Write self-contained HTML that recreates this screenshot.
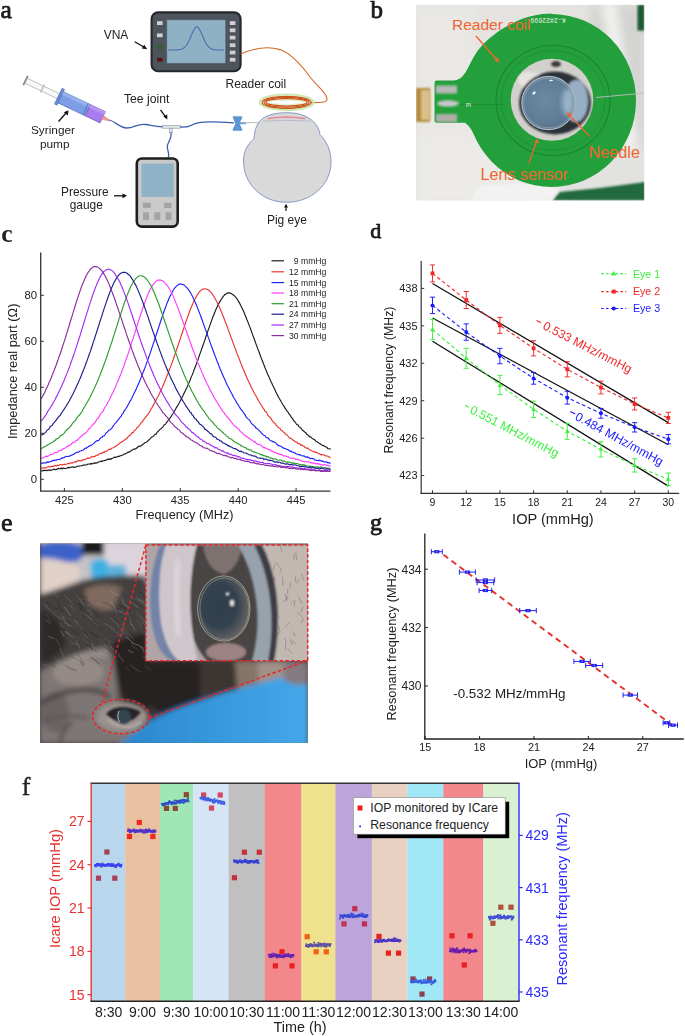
<!DOCTYPE html>
<html><head><meta charset="utf-8"><title>Figure</title>
<style>html,body{margin:0;padding:0;background:#fff;} svg{display:block;}</style>
</head><body>
<svg width="685" height="1036" viewBox="0 0 685 1036">
<rect width="685" height="1036" fill="#fff"/>
<g opacity="0.999">
<g font-family="Liberation Serif, serif" fill="#111" stroke="#111" stroke-width="0.75">
<text x="0.5" y="17.8" font-size="25.5" fill="#222" text-anchor="start" >a</text>
<text x="370.5" y="18.0" font-size="25" fill="#222" text-anchor="start" >b</text>
<text x="1.3" y="242.3" font-size="25.5" fill="#222" text-anchor="start" font-weight="bold" stroke-width="0">c</text>
<text x="370.3" y="237.9" font-size="22" fill="#222" text-anchor="start" >d</text>
<text x="1.0" y="530.6" font-size="26" fill="#222" text-anchor="start" >e</text>
<text x="370.0" y="529.7" font-size="24" fill="#222" text-anchor="start" >g</text>
<text x="21.7" y="794.8" font-size="26" fill="#222" text-anchor="start" stroke-width="0.35">f</text>
</g>
<g font-family="Liberation Sans, sans-serif">
<rect x="151.6" y="12.4" width="89" height="58.8" rx="6.5" fill="#4d545c" stroke="#25292e" stroke-width="2.1"/>
<rect x="166.9" y="19.9" width="58.6" height="43.3" fill="#8fb1c4" stroke="#5a7080" stroke-width="0.5"/>
<polyline points="168.00,50.08 169.00,50.07 170.00,50.07 171.00,50.05 172.00,50.04 173.00,50.03 174.00,50.01 175.00,49.98 176.00,49.95 177.00,49.89 178.00,49.82 179.00,49.71 180.00,49.54 181.00,49.30 182.00,48.95 183.00,48.46 184.00,47.79 185.00,46.89 186.00,45.75 187.00,44.33 188.00,42.62 189.00,40.64 190.00,38.45 191.00,36.11 192.00,33.75 193.00,31.50 194.00,29.52 195.00,27.98 196.00,27.04 197.00,26.82 198.00,27.33 199.00,28.53 200.00,30.27 201.00,32.38 202.00,34.69 203.00,37.06 204.00,39.35 205.00,41.46 206.00,43.33 207.00,44.93 208.00,46.24 209.00,47.28 210.00,48.08 211.00,48.67 212.00,49.10 213.00,49.40 214.00,49.61 215.00,49.76 216.00,49.85 217.00,49.92 218.00,49.96 219.00,49.99 220.00,50.02 221.00,50.03 222.00,50.05 223.00,50.06 224.00,50.07" fill="none" stroke="#4a6fb0" stroke-width="1.1" stroke-linejoin="round" />
<rect x="157" y="21.2" width="5.6" height="3.8" fill="#cfcfcf"/>
<rect x="157" y="33.4" width="5.6" height="3.8" fill="#cfcfcf"/>
<rect x="157" y="45.6" width="5.6" height="3.8" fill="#2f5f32"/>
<rect x="157" y="57.8" width="5.6" height="3.8" fill="#5c1414"/>
<rect x="229.8" y="21.2" width="5.6" height="3.8" fill="#cfcfcf"/>
<rect x="229.8" y="28.4" width="5.6" height="3.8" fill="#cfcfcf"/>
<rect x="229.8" y="35.7" width="5.6" height="3.8" fill="#cfcfcf"/>
<rect x="229.8" y="43.3" width="5.6" height="3.8" fill="#cfcfcf"/>
<rect x="229.8" y="50.6" width="5.6" height="3.8" fill="#cfcfcf"/>
<rect x="229.8" y="57.8" width="5.6" height="3.8" fill="#cfcfcf"/>
<text x="103.7" y="39.2" font-size="12" fill="#222" text-anchor="start" >VNA</text>
<line x1="134.70" y1="41.70" x2="145.50" y2="48.00" stroke="#111" stroke-width="1.3" />
<polygon points="147.2,49.2 141.8,48.6 144.2,44.8" fill="#111"/>
<path d="M240.7,54 C252,49 266,45.5 280,49.6 C292,54 302,66 310,77 C318,87 326,92 327,98.5 C327.5,102.5 322,102.5 311,102.6" fill="none" stroke="#d26a28" stroke-width="1.1"/>
<ellipse cx="286.6" cy="102.3" rx="27" ry="7.8" fill="none" stroke="#cdeab4" stroke-width="2.2"/>
<ellipse cx="286.6" cy="102.3" rx="17.8" ry="2.2" fill="none" stroke="#dff2cc" stroke-width="1.2"/>
<ellipse cx="286.6" cy="102.3" rx="24.6" ry="6.0" fill="none" stroke="#c8561a" stroke-width="1.25"/>
<ellipse cx="286.6" cy="102.3" rx="22.6" ry="4.9" fill="none" stroke="#c8561a" stroke-width="1.25"/>
<ellipse cx="286.6" cy="102.3" rx="20.6" ry="3.8" fill="none" stroke="#c8561a" stroke-width="1.25"/>
<text x="225.5" y="87.6" font-size="12" fill="#222" text-anchor="start" >Reader coil</text>
<g transform="translate(25.5,80.5) rotate(25.5)">
<line x1="0" y1="-5.2" x2="0" y2="5.2" stroke="#8a8a8a" stroke-width="1.8"/>
<rect x="0.8" y="-2.7" width="36" height="5.4" fill="#f8f8f8" stroke="#a0a0a0" stroke-width="0.6"/>
<rect x="18" y="-4.5" width="1.3" height="9" fill="#b8b8b8"/>
<rect x="36.3" y="-8.8" width="2.8" height="17.6" fill="#6c8ad6" stroke="#4a62a8" stroke-width="0.5"/>
<rect x="39" y="-6.2" width="30" height="12.4" fill="#7d9de6" stroke="#4a66b0" stroke-width="0.6"/>
<rect x="39" y="-6.2" width="30" height="3.4" fill="#96b0ee"/>
<rect x="66" y="-6.2" width="1.2" height="12.4" fill="#5a78c8"/>
<rect x="69" y="-6.2" width="16.5" height="12.4" fill="#a67cee" stroke="#6a4ab0" stroke-width="0.6"/>
<rect x="69" y="-6.2" width="16.5" height="3.4" fill="#b894f2"/>
<polygon points="85.5,-2.4 93.5,-0.9 93.5,0.9 85.5,2.4" fill="#e89a9a"/>
</g>
<text x="31.0" y="133.6" font-size="11.8" fill="#222" text-anchor="start" >Syringer</text>
<text x="40.0" y="147.6" font-size="11.8" fill="#222" text-anchor="start" >pump</text>
<line x1="58.50" y1="121.50" x2="66.50" y2="112.50" stroke="#111" stroke-width="1.3" />
<polygon points="68.5,110.2 67.8,115.5 63.8,112.2" fill="#111"/>
<path d="M109.5,120 C116,122 120,128 127,128 C134,128 138,123 146,124.5 C152,125.5 157,127 163,126.8" fill="none" stroke="#3a5fb0" stroke-width="1.3"/>
<rect x="162.5" y="125.4" width="17.7" height="2.8" fill="#e6e8ee" stroke="#8a90a0" stroke-width="0.6"/>
<rect x="169.6" y="128.2" width="2.6" height="4.5" fill="#e6e8ee" stroke="#8a90a0" stroke-width="0.6"/>
<text x="124.0" y="102.8" font-size="12.2" fill="#222" text-anchor="start" >Tee joint</text>
<line x1="160.50" y1="109.80" x2="165.40" y2="116.60" stroke="#111" stroke-width="1.3" />
<polygon points="167.4,119.4 163.3,116.6 167.2,114.4" fill="#111"/>
<path d="M180.2,127 C184,127.3 188,127.5 192,125 C196,122.6 202,121.9 210,121.9 C218,122 226,122.4 234,122.8" fill="none" stroke="#3a5fb0" stroke-width="1.3"/>
<path d="M171,132.7 C172,137 169,141 167.5,145 C166,149 170,152 168.5,157.5" fill="none" stroke="#3a5fb0" stroke-width="1.3"/>
<path d="M233.6,116.4 L241.4,116.4 Q242.2,116.4 242,117.4 C241.2,120 239.6,121.6 239.6,123.4 C239.6,125.2 241.2,126.8 242,129.4 Q242.2,130.6 241.4,130.6 L233.6,130.6 Q232.8,130.6 233,129.4 C233.8,126.8 235.4,125.2 235.4,123.4 C235.4,121.6 233.8,120 233,117.4 Q232.8,116.4 233.6,116.4 Z" fill="#5b95d6" stroke="#4a80c0" stroke-width="0.4"/>
<rect x="239" y="122.2" width="7" height="2" fill="#6aa2dc"/>
<line x1="243.00" y1="122.70" x2="262.00" y2="122.70" stroke="#b0b0b0" stroke-width="0.9" />
<path d="M286.5,112.7 C300,112.5 312,117 317.5,127 C319,130 320,132 319.8,134.4 C326,140 331,150 331,162 C331,185 311,202.3 286.5,202.3 C262,202.3 243.5,184 243.5,161 C243.5,152 247,145 254,138.5 C254.5,130 257,122 264,117.5 C270,114 278,112.7 286.5,112.7 Z" fill="#d9d9d9" stroke="#7d8ec4" stroke-width="0.9"/>
<path d="M267.5,118.6 Q286.5,115.6 305.5,118.6" fill="none" stroke="#e48c9c" stroke-width="1.8"/>
<path d="M263,121.2 Q286.5,119.4 310,121.2" fill="none" stroke="#aab2c4" stroke-width="0.8"/>
<rect x="136.8" y="158.5" width="40.9" height="68.1" rx="5" fill="#c9c9c9" stroke="#1e1e1e" stroke-width="2.6"/>
<rect x="141.5" y="163.6" width="32.2" height="33.3" fill="#8fb2c6"/>
<rect x="143" y="202.8" width="7.7" height="5.1" fill="#a4a4a4"/>
<rect x="163.9" y="202.8" width="7.6" height="5.1" fill="#a4a4a4"/>
<rect x="143" y="212.3" width="6" height="7.6" fill="#a4a4a4"/>
<rect x="154.3" y="212.3" width="6" height="7.6" fill="#a4a4a4"/>
<rect x="165.5" y="212.3" width="6" height="7.6" fill="#a4a4a4"/>
<text x="61.0" y="196.2" font-size="11.9" fill="#222" text-anchor="start" >Pressure</text>
<text x="69.7" y="209.0" font-size="11.9" fill="#222" text-anchor="start" >gauge</text>
<line x1="114.00" y1="195.80" x2="124.00" y2="195.80" stroke="#111" stroke-width="1.3" />
<polygon points="127,195.8 122.5,193.4 122.5,198.2" fill="#111"/>
<text x="266.9" y="224.4" font-size="12" fill="#222" text-anchor="start" >Pig eye</text>
<line x1="286.00" y1="211.00" x2="286.00" y2="206.50" stroke="#111" stroke-width="1.2" />
<polygon points="286,203.8 284,207.5 288,207.5" fill="#111"/>
</g>
<g font-family="Liberation Sans, sans-serif">
<defs><clipPath id="cclip"><rect x="40.7" y="250" width="290" height="241"/></clipPath></defs>
<g clip-path="url(#cclip)">
<polyline points="41.23,470.83 42.23,470.94 43.23,470.27 44.23,470.85 45.22,470.22 46.22,470.32 47.22,470.58 48.22,469.97 49.22,470.41 50.22,469.85 51.22,470.17 52.22,470.04 53.21,469.55 54.21,468.98 55.21,469.68 56.21,469.46 57.21,468.88 58.21,468.40 59.21,468.71 60.21,468.80 61.20,468.01 62.20,468.96 63.20,467.91 64.20,468.43 65.20,468.47 66.20,468.37 67.20,468.02 68.20,467.30 69.19,467.90 70.19,467.30 71.19,467.09 72.19,467.25 73.19,466.90 74.19,467.31 75.19,467.17 76.18,466.84 77.18,466.14 78.18,466.27 79.18,466.24 80.18,465.76 81.18,465.74 82.18,465.75 83.18,465.00 84.17,464.93 85.17,465.28 86.17,464.71 87.17,464.58 88.17,463.98 89.17,463.95 90.17,464.26 91.17,463.26 92.16,464.04 93.16,463.49 94.16,462.88 95.16,463.36 96.16,462.74 97.16,463.03 98.16,462.08 99.16,461.73 100.15,461.70 101.15,461.11 102.15,461.50 103.15,460.80 104.15,460.65 105.15,460.40 106.15,460.26 107.14,459.54 108.14,459.13 109.14,459.38 110.14,458.86 111.14,459.25 112.14,458.20 113.14,457.94 114.14,457.21 115.13,457.08 116.13,457.35 117.13,456.89 118.13,456.20 119.13,456.58 120.13,455.70 121.13,455.65 122.13,455.32 123.12,454.99 124.12,453.76 125.12,454.07 126.12,453.51 127.12,452.90 128.12,451.90 129.12,452.34 130.11,451.44 131.11,450.84 132.11,449.96 133.11,449.52 134.11,448.95 135.11,449.09 136.11,448.38 137.11,447.88 138.10,446.70 139.10,446.02 140.10,446.34 141.10,445.69 142.10,444.99 143.10,444.33 144.10,443.36 145.10,442.55 146.09,442.22 147.09,441.78 148.09,440.56 149.09,439.84 150.09,438.83 151.09,437.57 152.09,437.03 153.09,436.38 154.08,435.38 155.08,434.40 156.08,434.19 157.08,432.26 158.08,431.41 159.08,430.29 160.08,429.33 161.07,428.73 162.07,427.62 163.07,426.83 164.07,425.05 165.07,424.51 166.07,423.27 167.07,421.84 168.07,420.58 169.06,419.03 170.06,417.98 171.06,416.62 172.06,414.98 173.06,413.54 174.06,411.69 175.06,410.10 176.06,408.17 177.05,406.58 178.05,405.00 179.05,403.19 180.05,401.33 181.05,399.44 182.05,397.60 183.05,395.36 184.05,393.28 185.04,391.37 186.04,389.23 187.04,387.17 188.04,384.91 189.04,382.53 190.04,380.20 191.04,377.59 192.03,375.36 193.03,372.89 194.03,370.01 195.03,367.54 196.03,365.02 197.03,362.17 198.03,359.61 199.03,356.65 200.02,353.68 201.02,350.87 202.02,348.05 203.02,345.31 204.02,342.37 205.02,339.53 206.02,336.41 207.02,333.58 208.01,330.61 209.01,327.91 210.01,325.12 211.01,322.14 212.01,319.36 213.01,316.75 214.01,314.19 215.01,311.71 216.00,309.36 217.00,307.28 218.00,305.04 219.00,303.11 220.00,301.38 221.00,299.70 222.00,298.11 222.99,296.79 223.99,295.51 224.99,294.49 225.99,293.93 226.99,293.25 227.99,292.92 228.99,292.84 229.99,293.16 230.98,293.51 231.98,293.99 232.98,294.68 233.98,295.53 234.98,296.41 235.98,297.52 236.98,298.90 237.98,300.54 238.97,302.15 239.97,303.90 240.97,306.08 241.97,307.93 242.97,310.00 243.97,312.31 244.97,314.67 245.96,317.19 246.96,319.79 247.96,322.13 248.96,324.90 249.96,327.38 250.96,330.01 251.96,332.91 252.96,335.63 253.95,338.18 254.95,340.99 255.95,343.91 256.95,346.65 257.95,349.35 258.95,351.78 259.95,354.48 260.95,357.35 261.94,359.72 262.94,362.24 263.94,364.89 264.94,367.49 265.94,369.88 266.94,372.44 267.94,374.85 268.94,376.85 269.93,379.23 270.93,381.51 271.93,383.55 272.93,385.86 273.93,387.80 274.93,389.86 275.93,392.06 276.92,394.00 277.92,395.88 278.92,397.76 279.92,399.45 280.92,401.32 281.92,402.99 282.92,404.76 283.92,406.13 284.91,407.91 285.91,409.43 286.91,410.83 287.91,411.93 288.91,413.92 289.91,414.74 290.91,416.58 291.91,417.86 292.90,419.16 293.90,421.00 294.90,421.73 295.90,423.22 296.90,424.58 297.90,424.79 298.90,426.61 299.90,427.33 300.89,428.09 301.89,429.29 302.89,430.55 303.89,431.29 304.89,432.18 305.89,432.83 306.89,434.50 307.88,434.84 308.88,436.05 309.88,436.84 310.88,437.07 311.88,438.15 312.88,438.85 313.88,439.37 314.88,439.92 315.87,441.16 316.87,441.66 317.87,442.45 318.87,443.10 319.87,443.53 320.87,444.43 321.87,444.95 322.87,445.61 323.86,445.65 324.86,446.50 325.86,446.85 326.86,447.31 327.86,448.62 328.86,448.79 329.86,448.85 330.86,449.46" fill="none" stroke="#1a1a1a" stroke-width="1.15" stroke-linejoin="round" />
<polyline points="41.23,468.42 42.23,468.31 43.23,467.81 44.23,468.10 45.22,467.77 46.22,467.82 47.22,466.99 48.22,466.71 49.22,466.44 50.22,467.14 51.22,466.34 52.22,466.25 53.21,466.68 54.21,465.67 55.21,465.41 56.21,466.10 57.21,465.09 58.21,465.55 59.21,465.27 60.21,464.52 61.20,464.51 62.20,465.10 63.20,464.60 64.20,464.31 65.20,464.31 66.20,464.27 67.20,463.93 68.20,463.25 69.19,463.85 70.19,463.01 71.19,462.92 72.19,463.18 73.19,462.59 74.19,462.02 75.19,461.90 76.18,462.17 77.18,460.86 78.18,460.83 79.18,460.36 80.18,461.09 81.18,460.63 82.18,460.61 83.18,459.48 84.17,459.77 85.17,459.64 86.17,459.00 87.17,458.12 88.17,457.91 89.17,458.23 90.17,458.03 91.17,456.80 92.16,456.86 93.16,456.35 94.16,456.69 95.16,456.36 96.16,455.26 97.16,455.17 98.16,455.18 99.16,453.78 100.15,453.71 101.15,453.09 102.15,453.48 103.15,452.14 104.15,452.59 105.15,451.21 106.15,451.20 107.14,450.84 108.14,450.09 109.14,449.14 110.14,449.37 111.14,448.99 112.14,447.97 113.14,447.73 114.14,447.29 115.13,446.63 116.13,446.14 117.13,445.34 118.13,444.56 119.13,443.90 120.13,442.69 121.13,442.53 122.13,441.56 123.12,441.19 124.12,440.24 125.12,439.83 126.12,438.76 127.12,438.20 128.12,436.53 129.12,435.87 130.11,435.38 131.11,434.13 132.11,432.65 133.11,432.63 134.11,430.81 135.11,430.22 136.11,429.09 137.11,427.60 138.10,426.99 139.10,425.70 140.10,424.30 141.10,422.74 142.10,422.22 143.10,420.36 144.10,419.17 145.10,417.88 146.09,416.73 147.09,415.34 148.09,414.18 149.09,412.56 150.09,411.04 151.09,408.83 152.09,407.32 153.09,405.63 154.08,403.88 155.08,401.80 156.08,399.91 157.08,398.05 158.08,396.21 159.08,394.19 160.08,392.08 161.07,389.88 162.07,387.78 163.07,385.43 164.07,383.18 165.07,380.57 166.07,378.14 167.07,375.80 168.07,373.37 169.06,370.53 170.06,368.12 171.06,365.41 172.06,362.79 173.06,359.87 174.06,357.01 175.06,354.12 176.06,351.32 177.05,348.27 178.05,345.48 179.05,342.40 180.05,339.46 181.05,336.35 182.05,333.46 183.05,330.47 184.05,327.39 185.04,324.46 186.04,321.42 187.04,318.58 188.04,315.69 189.04,312.99 190.04,310.32 191.04,307.71 192.03,305.44 193.03,303.14 194.03,300.73 195.03,298.98 196.03,296.91 197.03,295.23 198.03,293.91 199.03,292.31 200.02,291.16 201.02,290.33 202.02,289.58 203.02,289.07 204.02,289.04 205.02,288.86 206.02,289.02 207.02,289.25 208.01,289.78 209.01,290.47 210.01,291.44 211.01,292.38 212.01,293.67 213.01,295.04 214.01,296.72 215.01,298.46 216.00,300.23 217.00,302.08 218.00,304.22 219.00,306.12 220.00,308.47 221.00,310.78 222.00,313.20 222.99,315.67 223.99,318.28 224.99,321.05 225.99,323.42 226.99,326.11 227.99,328.89 228.99,331.60 229.99,334.29 230.98,337.23 231.98,339.73 232.98,342.63 233.98,345.40 234.98,348.04 235.98,350.55 236.98,353.38 237.98,355.82 238.97,358.33 239.97,361.05 240.97,363.61 241.97,366.06 242.97,368.43 243.97,370.79 244.97,373.20 245.96,375.50 246.96,377.96 247.96,380.15 248.96,382.28 249.96,384.24 250.96,386.47 251.96,388.41 252.96,390.58 253.95,392.51 254.95,394.33 255.95,396.04 256.95,397.83 257.95,399.60 258.95,401.45 259.95,403.04 260.95,404.69 261.94,406.28 262.94,407.96 263.94,409.20 264.94,411.15 265.94,411.69 266.94,413.14 267.94,415.56 268.94,416.38 269.93,417.26 270.93,418.35 271.93,420.17 272.93,421.58 273.93,422.81 274.93,423.10 275.93,425.05 276.92,425.70 277.92,427.26 278.92,427.84 279.92,428.35 280.92,430.26 281.92,430.42 282.92,431.70 283.92,432.16 284.91,433.25 285.91,434.65 286.91,434.72 287.91,436.00 288.91,437.33 289.91,438.13 290.91,438.32 291.91,439.10 292.90,439.99 293.90,440.88 294.90,441.33 295.90,442.03 296.90,442.08 297.90,443.68 298.90,443.44 299.90,443.94 300.89,445.36 301.89,445.01 302.89,445.82 303.89,446.16 304.89,447.40 305.89,447.83 306.89,448.32 307.88,448.13 308.88,449.09 309.88,449.83 310.88,450.22 311.88,450.86 312.88,451.57 313.88,451.95 314.88,451.53 315.87,452.59 316.87,452.25 317.87,453.44 318.87,453.82 319.87,453.92 320.87,454.67 321.87,454.82 322.87,454.52 323.86,454.95 324.86,455.38 325.86,455.93 326.86,455.94 327.86,456.23 328.86,457.00 329.86,457.12 330.86,458.20" fill="none" stroke="#e8362e" stroke-width="1.15" stroke-linejoin="round" />
<polyline points="41.23,463.28 42.23,463.39 43.23,462.83 44.23,462.74 45.22,462.93 46.22,462.97 47.22,461.73 48.22,462.42 49.22,461.78 50.22,461.68 51.22,461.49 52.22,460.72 53.21,460.19 54.21,460.75 55.21,460.02 56.21,460.15 57.21,459.57 58.21,459.47 59.21,459.44 60.21,459.14 61.20,458.78 62.20,457.66 63.20,457.81 64.20,457.80 65.20,456.68 66.20,456.23 67.20,456.51 68.20,456.51 69.19,456.08 70.19,455.82 71.19,455.15 72.19,455.04 73.19,454.47 74.19,454.04 75.19,453.26 76.18,452.46 77.18,452.18 78.18,452.11 79.18,451.65 80.18,451.05 81.18,450.73 82.18,450.28 83.18,450.09 84.17,449.32 85.17,447.99 86.17,448.41 87.17,447.41 88.17,446.69 89.17,445.83 90.17,445.97 91.17,445.28 92.16,444.67 93.16,443.84 94.16,443.11 95.16,441.84 96.16,441.25 97.16,440.50 98.16,440.73 99.16,439.95 100.15,438.38 101.15,437.36 102.15,437.01 103.15,436.03 104.15,435.82 105.15,434.47 106.15,432.93 107.14,432.09 108.14,431.08 109.14,429.94 110.14,429.73 111.14,428.83 112.14,427.68 113.14,426.13 114.14,424.78 115.13,423.29 116.13,422.32 117.13,421.14 118.13,419.71 119.13,418.72 120.13,417.24 121.13,416.41 122.13,414.10 123.12,413.24 124.12,410.91 125.12,409.75 126.12,408.24 127.12,406.62 128.12,404.85 129.12,402.95 130.11,401.10 131.11,399.43 132.11,397.51 133.11,395.38 134.11,393.32 135.11,391.30 136.11,389.21 137.11,386.88 138.10,384.82 139.10,382.41 140.10,379.98 141.10,377.38 142.10,375.00 143.10,372.38 144.10,369.92 145.10,367.35 146.09,364.65 147.09,361.64 148.09,358.93 149.09,356.22 150.09,353.42 151.09,350.32 152.09,347.29 153.09,344.38 154.08,341.41 155.08,338.22 156.08,335.08 157.08,332.25 158.08,329.26 159.08,326.10 160.08,323.04 161.07,319.94 162.07,317.15 163.07,314.03 164.07,311.20 165.07,308.51 166.07,305.92 167.07,303.07 168.07,300.82 169.06,298.29 170.06,296.29 171.06,294.23 172.06,292.14 173.06,290.58 174.06,288.81 175.06,287.62 176.06,286.59 177.05,285.64 178.05,284.86 179.05,284.29 180.05,283.93 181.05,284.16 182.05,284.24 183.05,284.65 184.05,284.93 185.04,285.94 186.04,286.88 187.04,287.96 188.04,289.10 189.04,290.34 190.04,291.92 191.04,293.69 192.03,295.46 193.03,297.47 194.03,299.79 195.03,302.06 196.03,304.12 197.03,306.59 198.03,309.33 199.03,311.67 200.02,314.39 201.02,317.07 202.02,319.80 203.02,322.60 204.02,325.44 205.02,328.14 206.02,330.92 207.02,333.53 208.01,336.62 209.01,339.13 210.01,342.18 211.01,344.90 212.01,347.49 213.01,350.22 214.01,353.04 215.01,355.84 216.00,358.31 217.00,360.93 218.00,363.29 219.00,366.04 220.00,368.44 221.00,370.67 222.00,373.34 222.99,375.53 223.99,377.66 224.99,379.90 225.99,382.33 226.99,384.46 227.99,386.53 228.99,388.27 229.99,390.49 230.98,392.26 231.98,394.10 232.98,396.14 233.98,397.97 234.98,399.49 235.98,401.32 236.98,403.11 237.98,404.58 238.97,406.31 239.97,407.87 240.97,409.47 241.97,410.48 242.97,411.73 243.97,413.44 244.97,414.45 245.96,416.83 246.96,417.88 247.96,418.86 248.96,419.53 249.96,420.72 250.96,422.54 251.96,423.82 252.96,424.72 253.95,425.72 254.95,426.27 255.95,428.14 256.95,428.43 257.95,429.47 258.95,430.32 259.95,431.29 260.95,432.38 261.94,433.58 262.94,434.44 263.94,435.22 264.94,435.55 265.94,437.15 266.94,437.78 267.94,437.90 268.94,439.21 269.93,440.14 270.93,440.87 271.93,440.96 272.93,441.89 273.93,441.78 274.93,442.53 275.93,443.03 276.92,444.47 277.92,445.26 278.92,445.83 279.92,445.93 280.92,446.24 281.92,447.08 282.92,447.85 283.92,448.15 284.91,448.42 285.91,448.85 286.91,449.24 287.91,449.60 288.91,450.27 289.91,451.34 290.91,450.95 291.91,452.01 292.90,452.12 293.90,452.75 294.90,452.73 295.90,453.75 296.90,454.08 297.90,454.46 298.90,454.93 299.90,454.45 300.89,455.16 301.89,455.80 302.89,456.06 303.89,455.70 304.89,456.59 305.89,457.22 306.89,456.87 307.88,457.36 308.88,457.27 309.88,458.59 310.88,458.45 311.88,458.33 312.88,458.59 313.88,458.78 314.88,460.05 315.87,460.02 316.87,460.48 317.87,460.65 318.87,459.99 319.87,460.69 320.87,460.52 321.87,461.40 322.87,461.06 323.86,461.77 324.86,462.21 325.86,461.83 326.86,461.85 327.86,463.02 328.86,462.67 329.86,462.84 330.86,463.50" fill="none" stroke="#1f1fff" stroke-width="1.15" stroke-linejoin="round" />
<polyline points="41.23,458.18 42.23,458.11 43.23,457.71 44.23,457.31 45.22,456.57 46.22,456.15 47.22,456.31 48.22,456.16 49.22,455.41 50.22,454.62 51.22,454.79 52.22,454.24 53.21,453.95 54.21,452.84 55.21,452.69 56.21,452.80 57.21,452.30 58.21,451.49 59.21,450.83 60.21,450.24 61.20,450.37 62.20,449.77 63.20,448.63 64.20,448.41 65.20,448.00 66.20,447.40 67.20,446.08 68.20,446.21 69.19,445.30 70.19,444.91 71.19,444.20 72.19,443.02 73.19,442.18 74.19,442.21 75.19,441.68 76.18,440.33 77.18,440.18 78.18,439.63 79.18,437.79 80.18,437.52 81.18,436.22 82.18,435.83 83.18,434.39 84.17,433.95 85.17,433.35 86.17,432.55 87.17,430.94 88.17,429.81 89.17,428.44 90.17,428.30 91.17,426.57 92.16,425.71 93.16,424.37 94.16,423.56 95.16,422.15 96.16,420.59 97.16,418.80 98.16,418.37 99.16,416.53 100.15,414.72 101.15,413.04 102.15,412.40 103.15,410.90 104.15,408.69 105.15,407.01 106.15,405.46 107.14,403.84 108.14,401.72 109.14,400.03 110.14,397.93 111.14,396.05 112.14,393.94 113.14,392.08 114.14,389.72 115.13,387.70 116.13,385.38 117.13,382.90 118.13,380.52 119.13,378.30 120.13,375.79 121.13,373.17 122.13,370.51 123.12,367.87 124.12,365.23 125.12,362.39 126.12,359.39 127.12,356.43 128.12,353.78 129.12,350.61 130.11,347.51 131.11,344.69 132.11,341.32 133.11,338.44 134.11,335.12 135.11,331.98 136.11,328.79 137.11,325.73 138.10,322.54 139.10,319.35 140.10,316.31 141.10,313.17 142.10,310.24 143.10,307.31 144.10,304.60 145.10,301.63 146.09,299.02 147.09,296.58 148.09,293.99 149.09,291.73 150.09,289.75 151.09,287.93 152.09,286.09 153.09,284.68 154.08,283.34 155.08,282.12 156.08,281.34 157.08,280.55 158.08,280.09 159.08,280.06 160.08,279.89 161.07,280.30 162.07,280.49 163.07,281.07 164.07,281.95 165.07,283.06 166.07,284.04 167.07,285.39 168.07,286.65 169.06,288.54 170.06,290.05 171.06,291.90 172.06,294.01 173.06,296.12 174.06,298.58 175.06,300.65 176.06,303.25 177.05,305.60 178.05,308.19 179.05,311.09 180.05,313.56 181.05,316.25 182.05,319.31 183.05,322.01 184.05,324.68 185.04,327.71 186.04,330.28 187.04,333.32 188.04,335.96 189.04,338.99 190.04,341.66 191.04,344.28 192.03,347.27 193.03,349.97 194.03,352.56 195.03,355.27 196.03,357.98 197.03,360.50 198.03,363.03 199.03,365.25 200.02,367.78 201.02,370.09 202.02,372.69 203.02,374.78 204.02,377.27 205.02,379.33 206.02,381.45 207.02,383.66 208.01,385.55 209.01,387.67 210.01,389.63 211.01,391.45 212.01,393.60 213.01,395.13 214.01,397.04 215.01,398.87 216.00,400.43 217.00,402.28 218.00,403.65 219.00,405.37 220.00,406.98 221.00,408.34 222.00,409.92 222.99,411.69 223.99,412.43 224.99,414.58 225.99,415.02 226.99,416.95 227.99,417.76 228.99,418.59 229.99,420.24 230.98,421.31 231.98,422.84 232.98,424.30 233.98,425.34 234.98,426.25 235.98,426.74 236.98,427.94 237.98,428.82 238.97,429.33 239.97,431.13 240.97,431.92 241.97,432.31 242.97,433.89 243.97,434.75 244.97,435.16 245.96,436.24 246.96,436.72 247.96,437.63 248.96,437.96 249.96,438.67 250.96,439.82 251.96,440.02 252.96,440.86 253.95,441.91 254.95,441.63 255.95,443.05 256.95,443.77 257.95,444.43 258.95,444.39 259.95,444.69 260.95,445.35 261.94,446.33 262.94,447.02 263.94,447.83 264.94,447.61 265.94,448.20 266.94,448.93 267.94,449.06 268.94,449.76 269.93,449.65 270.93,450.33 271.93,451.32 272.93,450.99 273.93,452.40 274.93,452.24 275.93,452.79 276.92,453.37 277.92,453.96 278.92,453.51 279.92,454.76 280.92,454.50 281.92,454.40 282.92,455.67 283.92,455.94 284.91,455.80 285.91,456.24 286.91,456.41 287.91,456.52 288.91,457.56 289.91,457.71 290.91,458.01 291.91,458.59 292.90,457.91 293.90,458.31 294.90,458.66 295.90,459.74 296.90,459.04 297.90,459.41 298.90,459.98 299.90,459.91 300.89,460.49 301.89,460.99 302.89,461.36 303.89,461.45 304.89,461.90 305.89,461.78 306.89,461.52 307.88,461.80 308.88,461.83 309.88,462.19 310.88,462.91 311.88,462.78 312.88,463.11 313.88,462.90 314.88,463.39 315.87,463.87 316.87,463.62 317.87,463.43 318.87,464.47 319.87,463.88 320.87,465.05 321.87,464.93 322.87,465.13 323.86,464.70 324.86,464.63 325.86,465.02 326.86,465.66 327.86,465.17 328.86,465.96 329.86,466.21 330.86,465.58" fill="none" stroke="#ff3cff" stroke-width="1.15" stroke-linejoin="round" />
<polyline points="41.23,448.67 42.23,448.07 43.23,447.56 44.23,446.65 45.22,446.67 46.22,445.66 47.22,445.23 48.22,444.44 49.22,444.29 50.22,443.32 51.22,442.84 52.22,442.47 53.21,441.88 54.21,440.70 55.21,440.60 56.21,438.89 57.21,439.00 58.21,438.35 59.21,437.45 60.21,435.67 61.20,435.49 62.20,434.84 63.20,434.07 64.20,433.13 65.20,431.43 66.20,430.52 67.20,429.44 68.20,428.36 69.19,428.07 70.19,426.38 71.19,425.52 72.19,423.84 73.19,422.65 74.19,421.35 75.19,421.04 76.18,418.83 77.18,417.44 78.18,416.04 79.18,415.60 80.18,414.04 81.18,412.66 82.18,411.22 83.18,408.99 84.17,407.39 85.17,405.78 86.17,404.01 87.17,402.31 88.17,400.62 89.17,398.83 90.17,396.92 91.17,394.73 92.16,392.90 93.16,390.79 94.16,388.62 95.16,386.58 96.16,384.25 97.16,381.95 98.16,379.44 99.16,377.15 100.15,374.69 101.15,371.94 102.15,369.51 103.15,366.74 104.15,364.12 105.15,361.57 106.15,358.62 107.14,355.75 108.14,352.73 109.14,349.92 110.14,346.80 111.14,343.81 112.14,340.85 113.14,337.53 114.14,334.66 115.13,331.27 116.13,328.33 117.13,325.23 118.13,322.00 119.13,318.67 120.13,315.47 121.13,312.72 122.13,309.50 123.12,306.51 124.12,303.48 125.12,300.85 126.12,297.99 127.12,295.39 128.12,292.69 129.12,290.48 130.11,287.98 131.11,286.10 132.11,284.19 133.11,282.26 134.11,280.76 135.11,279.53 136.11,278.18 137.11,277.43 138.10,276.46 139.10,276.00 140.10,275.70 141.10,275.72 142.10,275.99 143.10,276.35 144.10,276.92 145.10,277.53 146.09,278.77 147.09,279.64 148.09,281.27 149.09,282.71 150.09,284.36 151.09,285.96 152.09,288.07 153.09,290.21 154.08,292.27 155.08,294.84 156.08,297.21 157.08,299.73 158.08,302.28 159.08,304.98 160.08,307.79 161.07,310.71 162.07,313.57 163.07,316.53 164.07,319.22 165.07,322.22 166.07,325.14 167.07,328.29 168.07,331.15 169.06,333.98 170.06,336.97 171.06,340.04 172.06,342.80 173.06,345.51 174.06,348.55 175.06,351.35 176.06,354.06 177.05,356.62 178.05,359.23 179.05,362.09 180.05,364.65 181.05,367.14 182.05,369.58 183.05,371.94 184.05,374.43 185.04,376.70 186.04,379.01 187.04,380.96 188.04,383.21 189.04,385.54 190.04,387.32 191.04,389.63 192.03,391.50 193.03,393.21 194.03,395.15 195.03,397.00 196.03,398.88 197.03,400.70 198.03,402.24 199.03,404.07 200.02,405.64 201.02,407.14 202.02,408.79 203.02,410.15 204.02,411.22 205.02,412.75 206.02,414.34 207.02,415.52 208.01,417.02 209.01,418.66 210.01,419.36 211.01,420.79 212.01,421.57 213.01,422.52 214.01,424.18 215.01,425.10 216.00,425.95 217.00,427.36 218.00,428.58 219.00,428.99 220.00,429.76 221.00,430.81 222.00,431.80 222.99,432.50 223.99,433.56 224.99,434.44 225.99,435.47 226.99,436.43 227.99,436.85 228.99,438.22 229.99,438.58 230.98,438.89 231.98,439.67 232.98,440.46 233.98,441.56 234.98,442.02 235.98,442.62 236.98,443.05 237.98,443.91 238.97,444.19 239.97,444.48 240.97,445.91 241.97,445.92 242.97,446.32 243.97,447.30 244.97,447.70 245.96,447.65 246.96,449.22 247.96,449.12 248.96,450.04 249.96,449.78 250.96,450.05 251.96,450.98 252.96,451.90 253.95,451.77 254.95,452.23 255.95,452.43 256.95,453.06 257.95,453.30 258.95,453.47 259.95,454.19 260.95,454.69 261.94,454.42 262.94,455.62 263.94,455.42 264.94,456.09 265.94,455.99 266.94,457.05 267.94,456.38 268.94,457.41 269.93,458.06 270.93,458.10 271.93,458.25 272.93,458.98 273.93,458.80 274.93,459.07 275.93,459.02 276.92,459.68 277.92,460.04 278.92,460.34 279.92,460.00 280.92,460.02 281.92,460.73 282.92,461.32 283.92,460.88 284.91,461.58 285.91,462.01 286.91,462.33 287.91,461.80 288.91,461.97 289.91,462.38 290.91,462.78 291.91,462.87 292.90,463.45 293.90,462.80 294.90,463.69 295.90,463.55 296.90,463.53 297.90,463.71 298.90,464.29 299.90,464.66 300.89,464.54 301.89,465.20 302.89,464.55 303.89,465.26 304.89,464.85 305.89,465.68 306.89,465.71 307.88,466.00 308.88,465.96 309.88,466.38 310.88,466.74 311.88,466.05 312.88,466.70 313.88,466.88 314.88,466.95 315.87,466.88 316.87,467.07 317.87,466.96 318.87,467.06 319.87,467.53 320.87,467.00 321.87,467.21 322.87,468.25 323.86,467.48 324.86,467.51 325.86,467.76 326.86,468.62 327.86,467.94 328.86,468.27 329.86,469.09 330.86,469.20" fill="none" stroke="#2e9c2e" stroke-width="1.15" stroke-linejoin="round" />
<polyline points="41.23,435.18 42.23,434.68 43.23,434.28 44.23,433.56 45.22,432.60 46.22,431.56 47.22,429.97 48.22,429.48 49.22,428.69 50.22,426.78 51.22,425.84 52.22,425.45 53.21,423.49 54.21,422.65 55.21,421.26 56.21,420.16 57.21,418.64 58.21,417.46 59.21,416.07 60.21,415.44 61.20,413.46 62.20,412.19 63.20,410.46 64.20,409.23 65.20,407.50 66.20,405.99 67.20,404.43 68.20,402.73 69.19,401.01 70.19,399.08 71.19,397.38 72.19,395.33 73.19,393.49 74.19,391.36 75.19,389.29 76.18,387.16 77.18,384.88 78.18,382.95 79.18,380.38 80.18,378.17 81.18,375.74 82.18,373.26 83.18,370.69 84.17,368.28 85.17,365.65 86.17,362.78 87.17,360.36 88.17,357.39 89.17,354.55 90.17,351.88 91.17,348.76 92.16,345.76 93.16,342.66 94.16,339.83 95.16,336.53 96.16,333.59 97.16,330.47 98.16,327.19 99.16,324.34 100.15,320.96 101.15,317.85 102.15,314.83 103.15,311.56 104.15,308.67 105.15,305.61 106.15,302.64 107.14,299.67 108.14,297.05 109.14,294.26 110.14,291.65 111.14,289.11 112.14,286.65 113.14,284.61 114.14,282.35 115.13,280.59 116.13,278.82 117.13,277.36 118.13,275.93 119.13,274.62 120.13,273.79 121.13,273.03 122.13,272.69 123.12,272.42 124.12,272.38 125.12,272.43 126.12,272.76 127.12,273.25 128.12,274.23 129.12,274.91 130.11,275.95 131.11,277.33 132.11,278.93 133.11,280.44 134.11,282.28 135.11,284.10 136.11,285.87 137.11,288.12 138.10,290.37 139.10,292.69 140.10,295.11 141.10,297.75 142.10,300.37 143.10,303.06 144.10,305.78 145.10,308.61 146.09,311.41 147.09,314.44 148.09,317.17 149.09,320.14 150.09,322.95 151.09,326.09 152.09,328.97 153.09,331.92 154.08,334.55 155.08,337.37 156.08,340.30 157.08,343.22 158.08,345.84 159.08,348.61 160.08,351.40 161.07,354.17 162.07,356.79 163.07,359.34 164.07,361.92 165.07,364.38 166.07,366.76 167.07,369.06 168.07,371.72 169.06,373.86 170.06,376.30 171.06,378.48 172.06,380.41 173.06,382.60 174.06,384.55 175.06,386.73 176.06,388.85 177.05,390.65 178.05,392.46 179.05,394.17 180.05,395.95 181.05,397.87 182.05,399.59 183.05,401.36 184.05,402.79 185.04,404.52 186.04,406.08 187.04,407.63 188.04,409.10 189.04,410.14 190.04,412.18 191.04,412.57 192.03,414.90 193.03,415.29 194.03,417.39 195.03,418.74 196.03,419.13 197.03,420.84 198.03,421.41 199.03,423.14 200.02,424.38 201.02,424.60 202.02,425.69 203.02,426.53 204.02,427.65 205.02,429.34 206.02,429.64 207.02,430.45 208.01,431.62 209.01,431.94 210.01,433.56 211.01,433.56 212.01,434.65 213.01,436.24 214.01,437.00 215.01,437.01 216.00,437.54 217.00,439.10 218.00,439.53 219.00,439.72 220.00,441.03 221.00,440.88 222.00,441.94 222.99,443.04 223.99,443.29 224.99,443.64 225.99,444.37 226.99,444.66 227.99,445.82 228.99,445.61 229.99,446.64 230.98,446.83 231.98,447.35 232.98,448.08 233.98,448.60 234.98,448.61 235.98,448.89 236.98,449.52 237.98,450.21 238.97,450.96 239.97,451.65 240.97,451.01 241.97,451.73 242.97,451.99 243.97,452.94 244.97,453.01 245.96,452.96 246.96,453.49 247.96,454.11 248.96,454.80 249.96,455.01 250.96,454.81 251.96,455.73 252.96,455.70 253.95,456.12 254.95,456.09 255.95,456.50 256.95,457.40 257.95,458.02 258.95,458.00 259.95,458.10 260.95,458.19 261.94,458.20 262.94,458.39 263.94,459.62 264.94,458.97 265.94,459.25 266.94,459.43 267.94,460.01 268.94,460.60 269.93,460.17 270.93,460.45 271.93,460.82 272.93,460.78 273.93,461.65 274.93,462.16 275.93,461.83 276.92,461.76 277.92,462.65 278.92,462.22 279.92,462.21 280.92,463.20 281.92,462.97 282.92,463.07 283.92,463.50 284.91,463.98 285.91,464.10 286.91,463.71 287.91,463.83 288.91,464.38 289.91,464.98 290.91,464.31 291.91,464.51 292.90,465.29 293.90,465.05 294.90,464.84 295.90,465.00 296.90,465.57 297.90,465.77 298.90,465.78 299.90,466.39 300.89,466.52 301.89,466.67 302.89,466.21 303.89,466.73 304.89,466.63 305.89,466.95 306.89,466.94 307.88,467.49 308.88,467.74 309.88,466.76 310.88,467.60 311.88,468.03 312.88,467.54 313.88,467.48 314.88,468.31 315.87,467.92 316.87,468.32 317.87,468.23 318.87,468.91 319.87,469.00 320.87,468.00 321.87,468.25 322.87,468.78 323.86,468.79 324.86,469.24 325.86,468.74 326.86,469.24 327.86,468.74 328.86,469.04 329.86,469.07 330.86,469.00" fill="none" stroke="#1c1c8c" stroke-width="1.15" stroke-linejoin="round" />
<polyline points="41.23,421.01 42.23,419.99 43.23,418.49 44.23,417.16 45.22,415.88 46.22,414.49 47.22,412.44 48.22,410.57 49.22,409.46 50.22,407.69 51.22,406.06 52.22,404.66 53.21,402.74 54.21,401.02 55.21,399.28 56.21,397.10 57.21,395.40 58.21,393.29 59.21,391.22 60.21,389.00 61.20,386.93 62.20,384.80 63.20,382.50 64.20,380.26 65.20,377.59 66.20,375.12 67.20,372.86 68.20,370.35 69.19,367.63 70.19,364.90 71.19,361.95 72.19,359.13 73.19,356.29 74.19,353.63 75.19,350.40 76.18,347.40 77.18,344.35 78.18,341.11 79.18,338.28 80.18,335.06 81.18,331.63 82.18,328.33 83.18,325.16 84.17,322.03 85.17,318.67 86.17,315.35 87.17,312.34 88.17,309.06 89.17,305.91 90.17,302.83 91.17,299.65 92.16,296.77 93.16,293.85 94.16,291.09 95.16,288.22 96.16,285.89 97.16,283.23 98.16,281.15 99.16,279.11 100.15,276.89 101.15,275.41 102.15,273.64 103.15,272.34 104.15,271.24 105.15,270.63 106.15,269.89 107.14,269.61 108.14,269.17 109.14,269.26 110.14,269.61 111.14,270.15 112.14,270.87 113.14,271.58 114.14,272.77 115.13,273.98 116.13,275.58 117.13,277.16 118.13,278.99 119.13,280.69 120.13,282.82 121.13,285.16 122.13,287.24 123.12,289.88 124.12,292.38 125.12,295.10 126.12,297.78 127.12,300.37 128.12,303.39 129.12,306.34 130.11,309.17 131.11,312.20 132.11,315.00 133.11,318.28 134.11,321.01 135.11,324.35 136.11,327.08 137.11,330.16 138.10,333.31 139.10,336.19 140.10,339.19 141.10,342.11 142.10,345.01 143.10,347.80 144.10,350.38 145.10,353.14 146.09,355.88 147.09,358.83 148.09,361.38 149.09,363.74 150.09,366.55 151.09,368.79 152.09,371.36 153.09,373.49 154.08,376.14 155.08,378.13 156.08,380.51 157.08,382.74 158.08,384.90 159.08,386.67 160.08,388.79 161.07,390.87 162.07,392.70 163.07,394.40 164.07,396.46 165.07,398.11 166.07,399.99 167.07,401.66 168.07,403.10 169.06,404.72 170.06,406.46 171.06,408.02 172.06,409.50 173.06,410.67 174.06,412.21 175.06,413.83 176.06,415.24 177.05,416.08 178.05,417.23 179.05,418.35 180.05,419.81 181.05,421.42 182.05,422.72 183.05,423.06 184.05,424.52 185.04,425.21 186.04,427.01 187.04,427.14 188.04,428.67 189.04,429.04 190.04,429.94 191.04,431.27 192.03,432.70 193.03,432.54 194.03,433.88 195.03,434.24 196.03,435.74 197.03,436.61 198.03,436.63 199.03,437.91 200.02,438.86 201.02,439.33 202.02,439.77 203.02,441.12 204.02,441.19 205.02,441.91 206.02,442.46 207.02,443.53 208.01,443.45 209.01,443.91 210.01,444.43 211.01,445.62 212.01,445.71 213.01,446.63 214.01,446.72 215.01,448.03 216.00,447.59 217.00,447.99 218.00,448.99 219.00,449.44 220.00,449.88 221.00,450.32 222.00,451.35 222.99,450.69 223.99,451.96 224.99,452.42 225.99,452.91 226.99,453.14 227.99,452.87 228.99,454.15 229.99,454.44 230.98,454.11 231.98,455.05 232.98,455.60 233.98,455.27 234.98,455.63 235.98,456.02 236.98,456.13 237.98,457.14 238.97,456.56 239.97,457.04 240.97,458.11 241.97,458.31 242.97,458.17 243.97,458.44 244.97,458.97 245.96,459.42 246.96,459.35 247.96,459.92 248.96,459.65 249.96,459.59 250.96,460.66 251.96,460.41 252.96,460.45 253.95,461.35 254.95,460.81 255.95,460.91 256.95,461.76 257.95,461.94 258.95,461.67 259.95,462.24 260.95,462.59 261.94,462.16 262.94,462.55 263.94,463.25 264.94,463.55 265.94,463.63 266.94,463.70 267.94,463.25 268.94,463.63 269.93,463.68 270.93,463.97 271.93,464.10 272.93,465.18 273.93,464.81 274.93,464.47 275.93,464.65 276.92,465.59 277.92,465.55 278.92,465.46 279.92,465.92 280.92,465.87 281.92,466.55 282.92,466.27 283.92,466.33 284.91,467.02 285.91,467.02 286.91,466.20 287.91,466.55 288.91,466.49 289.91,466.97 290.91,466.89 291.91,466.93 292.90,467.05 293.90,468.15 294.90,467.57 295.90,468.12 296.90,467.76 297.90,468.34 298.90,468.14 299.90,467.81 300.89,468.26 301.89,468.80 302.89,468.59 303.89,468.79 304.89,468.30 305.89,469.16 306.89,469.24 307.88,468.95 308.88,469.65 309.88,469.20 310.88,468.88 311.88,469.48 312.88,469.85 313.88,469.71 314.88,469.72 315.87,470.26 316.87,470.37 317.87,470.45 318.87,470.34 319.87,470.30 320.87,470.51 321.87,470.65 322.87,470.91 323.86,470.46 324.86,470.20 325.86,470.54 326.86,470.66 327.86,470.64 328.86,471.23 329.86,470.72 330.86,471.08" fill="none" stroke="#a02cf4" stroke-width="1.15" stroke-linejoin="round" />
<polyline points="41.23,398.88 42.23,396.99 43.23,395.11 44.23,393.18 45.22,391.17 46.22,389.08 47.22,386.84 48.22,384.68 49.22,382.35 50.22,380.22 51.22,377.72 52.22,375.11 53.21,372.83 54.21,370.16 55.21,367.56 56.21,364.95 57.21,361.97 58.21,359.42 59.21,356.40 60.21,353.70 61.20,350.78 62.20,347.49 63.20,344.58 64.20,341.60 65.20,338.34 66.20,335.14 67.20,331.83 68.20,328.80 69.19,325.50 70.19,321.98 71.19,318.77 72.19,315.70 73.19,312.37 74.19,309.12 75.19,305.79 76.18,302.64 77.18,299.44 78.18,296.40 79.18,293.52 80.18,290.56 81.18,287.77 82.18,285.10 83.18,282.66 84.17,280.16 85.17,277.95 86.17,275.80 87.17,274.18 88.17,272.23 89.17,271.03 90.17,269.48 91.17,268.47 92.16,267.66 93.16,266.90 94.16,266.66 95.16,266.58 96.16,266.54 97.16,266.80 98.16,267.38 99.16,268.15 100.15,269.00 101.15,270.07 102.15,271.23 103.15,272.80 104.15,274.36 105.15,276.06 106.15,278.02 107.14,280.09 108.14,282.11 109.14,284.39 110.14,286.92 111.14,289.46 112.14,292.15 113.14,294.80 114.14,297.61 115.13,300.28 116.13,303.15 117.13,306.24 118.13,308.90 119.13,312.09 120.13,314.90 121.13,317.91 122.13,320.87 123.12,324.14 124.12,327.06 125.12,329.88 126.12,333.15 127.12,336.08 128.12,338.81 129.12,341.72 130.11,344.42 131.11,347.28 132.11,350.13 133.11,352.69 134.11,355.54 135.11,358.18 136.11,360.71 137.11,363.35 138.10,365.85 139.10,368.21 140.10,370.68 141.10,372.82 142.10,375.20 143.10,377.49 144.10,379.83 145.10,381.88 146.09,383.96 147.09,385.94 148.09,387.93 149.09,389.77 150.09,391.64 151.09,393.66 152.09,395.48 153.09,397.18 154.08,398.77 155.08,400.67 156.08,402.24 157.08,403.73 158.08,405.51 159.08,406.97 160.08,408.22 161.07,409.71 162.07,411.21 163.07,413.03 164.07,413.46 165.07,415.00 166.07,416.11 167.07,417.15 168.07,418.46 169.06,420.17 170.06,421.62 171.06,422.58 172.06,423.41 173.06,424.47 174.06,425.87 175.06,426.88 176.06,427.35 177.05,428.33 178.05,429.55 179.05,429.73 180.05,431.02 181.05,432.57 182.05,432.99 183.05,433.39 184.05,434.74 185.04,435.09 186.04,436.64 187.04,437.05 188.04,437.16 189.04,438.17 190.04,438.77 191.04,439.99 192.03,440.31 193.03,440.90 194.03,441.86 195.03,442.04 196.03,442.78 197.03,442.84 198.03,443.90 199.03,444.66 200.02,445.54 201.02,446.04 202.02,445.88 203.02,447.15 204.02,447.66 205.02,448.07 206.02,448.15 207.02,448.28 208.01,448.99 209.01,449.22 210.01,450.52 211.01,451.01 212.01,450.56 213.01,451.50 214.01,451.45 215.01,452.27 216.00,452.87 217.00,453.14 218.00,453.71 219.00,453.15 220.00,453.89 221.00,454.51 222.00,454.74 222.99,455.15 223.99,455.86 224.99,455.23 225.99,455.90 226.99,455.78 227.99,456.69 228.99,456.78 229.99,457.51 230.98,458.03 231.98,457.30 232.98,457.67 233.98,458.56 234.98,458.16 235.98,458.52 236.98,459.37 237.98,459.28 238.97,459.12 239.97,459.90 240.97,459.62 241.97,460.67 242.97,460.73 243.97,460.58 244.97,461.38 245.96,461.50 246.96,461.06 247.96,461.72 248.96,461.58 249.96,462.42 250.96,462.70 251.96,462.68 252.96,463.08 253.95,462.37 254.95,463.34 255.95,463.21 256.95,463.91 257.95,463.61 258.95,463.95 259.95,464.11 260.95,464.67 261.94,464.77 262.94,464.12 263.94,464.83 264.94,465.12 265.94,465.33 266.94,465.38 267.94,465.59 268.94,465.97 269.93,465.40 270.93,465.91 271.93,466.27 272.93,465.78 273.93,466.62 274.93,466.56 275.93,466.04 276.92,466.99 277.92,466.75 278.92,466.43 279.92,466.59 280.92,467.46 281.92,467.36 282.92,467.06 283.92,467.57 284.91,467.02 285.91,468.00 286.91,467.26 287.91,467.89 288.91,468.32 289.91,468.17 290.91,468.65 291.91,468.09 292.90,468.71 293.90,468.08 294.90,468.54 295.90,468.89 296.90,469.13 297.90,468.81 298.90,469.36 299.90,468.70 300.89,469.66 301.89,469.30 302.89,469.36 303.89,469.76 304.89,469.27 305.89,469.81 306.89,469.58 307.88,469.77 308.88,470.15 309.88,470.14 310.88,470.57 311.88,470.55 312.88,469.85 313.88,470.54 314.88,470.23 315.87,470.94 316.87,470.49 317.87,470.80 318.87,470.71 319.87,471.02 320.87,471.36 321.87,471.15 322.87,471.32 323.86,471.50 324.86,470.89 325.86,471.46 326.86,471.39 327.86,470.87 328.86,471.09 329.86,471.03 330.86,471.12" fill="none" stroke="#8a2c9c" stroke-width="1.15" stroke-linejoin="round" />
</g>
<line x1="40.70" y1="252.60" x2="40.70" y2="491.60" stroke="#333" stroke-width="1.3" />
<line x1="40.20" y1="491.10" x2="330.50" y2="491.10" stroke="#333" stroke-width="1.3" />
<line x1="40.70" y1="479.30" x2="43.90" y2="479.30" stroke="#333" stroke-width="1" />
<text x="37.0" y="483.2" font-size="11.3" fill="#222" text-anchor="end" >0</text>
<line x1="40.70" y1="433.30" x2="43.90" y2="433.30" stroke="#333" stroke-width="1" />
<text x="37.0" y="437.2" font-size="11.3" fill="#222" text-anchor="end" >20</text>
<line x1="40.70" y1="387.30" x2="43.90" y2="387.30" stroke="#333" stroke-width="1" />
<text x="37.0" y="391.2" font-size="11.3" fill="#222" text-anchor="end" >40</text>
<line x1="40.70" y1="341.30" x2="43.90" y2="341.30" stroke="#333" stroke-width="1" />
<text x="37.0" y="345.2" font-size="11.3" fill="#222" text-anchor="end" >60</text>
<line x1="40.70" y1="295.30" x2="43.90" y2="295.30" stroke="#333" stroke-width="1" />
<text x="37.0" y="299.2" font-size="11.3" fill="#222" text-anchor="end" >80</text>
<line x1="64.40" y1="491.10" x2="64.40" y2="488.00" stroke="#333" stroke-width="1" />
<text x="64.4" y="503.7" font-size="11.2" fill="#222" text-anchor="middle" >425</text>
<line x1="122.33" y1="491.10" x2="122.33" y2="488.00" stroke="#333" stroke-width="1" />
<text x="122.3" y="503.7" font-size="11.2" fill="#222" text-anchor="middle" >430</text>
<line x1="180.25" y1="491.10" x2="180.25" y2="488.00" stroke="#333" stroke-width="1" />
<text x="180.2" y="503.7" font-size="11.2" fill="#222" text-anchor="middle" >435</text>
<line x1="238.18" y1="491.10" x2="238.18" y2="488.00" stroke="#333" stroke-width="1" />
<text x="238.2" y="503.7" font-size="11.2" fill="#222" text-anchor="middle" >440</text>
<line x1="296.10" y1="491.10" x2="296.10" y2="488.00" stroke="#333" stroke-width="1" />
<text x="296.1" y="503.7" font-size="11.2" fill="#222" text-anchor="middle" >445</text>
<text x="184.5" y="519.4" font-size="12.7" fill="#222" text-anchor="middle" >Frequency (MHz)</text>
<text transform="translate(16.9,371.3) rotate(-90)" font-size="12.8" fill="#222" text-anchor="middle">Impedance real part (Ω)</text>
<line x1="271.50" y1="260.80" x2="284.00" y2="260.80" stroke="#1a1a1a" stroke-width="1.2" />
<text x="326.3" y="263.8" font-size="8.6" fill="#222" text-anchor="end" >9 mmHg</text>
<line x1="271.50" y1="271.80" x2="284.00" y2="271.80" stroke="#e8362e" stroke-width="1.2" />
<text x="326.3" y="274.8" font-size="8.6" fill="#222" text-anchor="end" >12 mmHg</text>
<line x1="271.50" y1="282.60" x2="284.00" y2="282.60" stroke="#1f1fff" stroke-width="1.2" />
<text x="326.3" y="285.6" font-size="8.6" fill="#222" text-anchor="end" >15 mmHg</text>
<line x1="271.50" y1="293.00" x2="284.00" y2="293.00" stroke="#ff3cff" stroke-width="1.2" />
<text x="326.3" y="296.0" font-size="8.6" fill="#222" text-anchor="end" >18 mmHg</text>
<line x1="271.50" y1="303.70" x2="284.00" y2="303.70" stroke="#2e9c2e" stroke-width="1.2" />
<text x="326.3" y="306.7" font-size="8.6" fill="#222" text-anchor="end" >21 mmHg</text>
<line x1="271.50" y1="314.20" x2="284.00" y2="314.20" stroke="#1c1c8c" stroke-width="1.2" />
<text x="326.3" y="317.2" font-size="8.6" fill="#222" text-anchor="end" >24 mmHg</text>
<line x1="271.50" y1="325.00" x2="284.00" y2="325.00" stroke="#a02cf4" stroke-width="1.2" />
<text x="326.3" y="328.0" font-size="8.6" fill="#222" text-anchor="end" >27 mmHg</text>
<line x1="271.50" y1="335.60" x2="284.00" y2="335.60" stroke="#8a2c9c" stroke-width="1.2" />
<text x="326.3" y="338.6" font-size="8.6" fill="#222" text-anchor="end" >30 mmHg</text>
</g>
<g font-family="Liberation Sans, sans-serif">
<line x1="432.50" y1="283.53" x2="668.33" y2="422.68" stroke="#111" stroke-width="1.3" />
<line x1="432.50" y1="317.98" x2="668.33" y2="444.77" stroke="#111" stroke-width="1.3" />
<line x1="432.50" y1="341.32" x2="668.33" y2="486.08" stroke="#111" stroke-width="1.3" />
<polyline points="432.50,329.58 466.19,358.29 499.88,385.00 533.57,409.33 567.26,431.30 600.95,449.39 634.64,465.37 668.33,479.34" fill="none" stroke="#3cf03c" stroke-width="1.1" stroke-linejoin="round" stroke-dasharray="3.6,2.6"/>
<line x1="432.50" y1="319.38" x2="432.50" y2="339.78" stroke="#3cf03c" stroke-width="0.95" />
<line x1="429.90" y1="319.38" x2="435.10" y2="319.38" stroke="#3cf03c" stroke-width="0.95" />
<line x1="429.90" y1="339.78" x2="435.10" y2="339.78" stroke="#3cf03c" stroke-width="0.95" />
<polygon points="432.5,327.1 430.2,331.3 434.8,331.3" fill="#3cf03c"/>
<line x1="466.19" y1="348.29" x2="466.19" y2="368.29" stroke="#3cf03c" stroke-width="0.95" />
<line x1="463.59" y1="348.29" x2="468.79" y2="348.29" stroke="#3cf03c" stroke-width="0.95" />
<line x1="463.59" y1="368.29" x2="468.79" y2="368.29" stroke="#3cf03c" stroke-width="0.95" />
<polygon points="466.2,355.8 463.9,360.0 468.5,360.0" fill="#3cf03c"/>
<line x1="499.88" y1="375.40" x2="499.88" y2="394.60" stroke="#3cf03c" stroke-width="0.95" />
<line x1="497.28" y1="375.40" x2="502.48" y2="375.40" stroke="#3cf03c" stroke-width="0.95" />
<line x1="497.28" y1="394.60" x2="502.48" y2="394.60" stroke="#3cf03c" stroke-width="0.95" />
<polygon points="499.9,382.5 497.6,386.7 502.2,386.7" fill="#3cf03c"/>
<line x1="533.57" y1="401.13" x2="533.57" y2="417.53" stroke="#3cf03c" stroke-width="0.95" />
<line x1="530.97" y1="401.13" x2="536.17" y2="401.13" stroke="#3cf03c" stroke-width="0.95" />
<line x1="530.97" y1="417.53" x2="536.17" y2="417.53" stroke="#3cf03c" stroke-width="0.95" />
<polygon points="533.6,406.8 531.3,411.0 535.9,411.0" fill="#3cf03c"/>
<line x1="567.26" y1="423.30" x2="567.26" y2="439.30" stroke="#3cf03c" stroke-width="0.95" />
<line x1="564.66" y1="423.30" x2="569.86" y2="423.30" stroke="#3cf03c" stroke-width="0.95" />
<line x1="564.66" y1="439.30" x2="569.86" y2="439.30" stroke="#3cf03c" stroke-width="0.95" />
<polygon points="567.3,428.8 565.0,433.0 569.6,433.0" fill="#3cf03c"/>
<line x1="600.95" y1="441.79" x2="600.95" y2="456.99" stroke="#3cf03c" stroke-width="0.95" />
<line x1="598.35" y1="441.79" x2="603.55" y2="441.79" stroke="#3cf03c" stroke-width="0.95" />
<line x1="598.35" y1="456.99" x2="603.55" y2="456.99" stroke="#3cf03c" stroke-width="0.95" />
<polygon points="601.0,446.9 598.7,451.1 603.2,451.1" fill="#3cf03c"/>
<line x1="634.64" y1="458.67" x2="634.64" y2="472.07" stroke="#3cf03c" stroke-width="0.95" />
<line x1="632.04" y1="458.67" x2="637.24" y2="458.67" stroke="#3cf03c" stroke-width="0.95" />
<line x1="632.04" y1="472.07" x2="637.24" y2="472.07" stroke="#3cf03c" stroke-width="0.95" />
<polygon points="634.6,462.9 632.3,467.1 636.9,467.1" fill="#3cf03c"/>
<line x1="668.33" y1="473.04" x2="668.33" y2="485.64" stroke="#3cf03c" stroke-width="0.95" />
<line x1="665.73" y1="473.04" x2="670.93" y2="473.04" stroke="#3cf03c" stroke-width="0.95" />
<line x1="665.73" y1="485.64" x2="670.93" y2="485.64" stroke="#3cf03c" stroke-width="0.95" />
<polygon points="668.3,476.8 666.0,481.0 670.6,481.0" fill="#3cf03c"/>
<polyline points="432.50,273.42 466.19,300.01 499.88,325.34 533.57,348.30 567.26,369.27 600.95,387.49 634.64,403.96 668.33,417.94" fill="none" stroke="#f02828" stroke-width="1.1" stroke-linejoin="round" stroke-dasharray="3.6,2.6"/>
<line x1="432.50" y1="264.92" x2="432.50" y2="281.92" stroke="#f02828" stroke-width="0.95" />
<line x1="429.90" y1="264.92" x2="435.10" y2="264.92" stroke="#f02828" stroke-width="0.95" />
<line x1="429.90" y1="281.92" x2="435.10" y2="281.92" stroke="#f02828" stroke-width="0.95" />
<rect x="430.6" y="271.5" width="3.8" height="3.8" fill="#f02828"/>
<line x1="466.19" y1="291.51" x2="466.19" y2="308.51" stroke="#f02828" stroke-width="0.95" />
<line x1="463.59" y1="291.51" x2="468.79" y2="291.51" stroke="#f02828" stroke-width="0.95" />
<line x1="463.59" y1="308.51" x2="468.79" y2="308.51" stroke="#f02828" stroke-width="0.95" />
<rect x="464.3" y="298.1" width="3.8" height="3.8" fill="#f02828"/>
<line x1="499.88" y1="317.34" x2="499.88" y2="333.34" stroke="#f02828" stroke-width="0.95" />
<line x1="497.28" y1="317.34" x2="502.48" y2="317.34" stroke="#f02828" stroke-width="0.95" />
<line x1="497.28" y1="333.34" x2="502.48" y2="333.34" stroke="#f02828" stroke-width="0.95" />
<rect x="498.0" y="323.4" width="3.8" height="3.8" fill="#f02828"/>
<line x1="533.57" y1="340.70" x2="533.57" y2="355.90" stroke="#f02828" stroke-width="0.95" />
<line x1="530.97" y1="340.70" x2="536.17" y2="340.70" stroke="#f02828" stroke-width="0.95" />
<line x1="530.97" y1="355.90" x2="536.17" y2="355.90" stroke="#f02828" stroke-width="0.95" />
<rect x="531.7" y="346.4" width="3.8" height="3.8" fill="#f02828"/>
<line x1="567.26" y1="361.67" x2="567.26" y2="376.87" stroke="#f02828" stroke-width="0.95" />
<line x1="564.66" y1="361.67" x2="569.86" y2="361.67" stroke="#f02828" stroke-width="0.95" />
<line x1="564.66" y1="376.87" x2="569.86" y2="376.87" stroke="#f02828" stroke-width="0.95" />
<rect x="565.4" y="367.4" width="3.8" height="3.8" fill="#f02828"/>
<line x1="600.95" y1="381.09" x2="600.95" y2="393.89" stroke="#f02828" stroke-width="0.95" />
<line x1="598.35" y1="381.09" x2="603.55" y2="381.09" stroke="#f02828" stroke-width="0.95" />
<line x1="598.35" y1="393.89" x2="603.55" y2="393.89" stroke="#f02828" stroke-width="0.95" />
<rect x="599.1" y="385.6" width="3.8" height="3.8" fill="#f02828"/>
<line x1="634.64" y1="397.96" x2="634.64" y2="409.96" stroke="#f02828" stroke-width="0.95" />
<line x1="632.04" y1="397.96" x2="637.24" y2="397.96" stroke="#f02828" stroke-width="0.95" />
<line x1="632.04" y1="409.96" x2="637.24" y2="409.96" stroke="#f02828" stroke-width="0.95" />
<rect x="632.7" y="402.1" width="3.8" height="3.8" fill="#f02828"/>
<line x1="668.33" y1="412.34" x2="668.33" y2="423.54" stroke="#f02828" stroke-width="0.95" />
<line x1="665.73" y1="412.34" x2="670.93" y2="412.34" stroke="#f02828" stroke-width="0.95" />
<line x1="665.73" y1="423.54" x2="670.93" y2="423.54" stroke="#f02828" stroke-width="0.95" />
<rect x="666.4" y="416.0" width="3.8" height="3.8" fill="#f02828"/>
<polyline points="432.50,305.37 466.19,332.08 499.88,356.04 533.57,378.38 567.26,397.72 600.95,413.32 634.64,427.30 668.33,439.16" fill="none" stroke="#1a1aff" stroke-width="1.1" stroke-linejoin="round" stroke-dasharray="3.6,2.6"/>
<line x1="432.50" y1="297.17" x2="432.50" y2="313.57" stroke="#1a1aff" stroke-width="0.95" />
<line x1="429.90" y1="297.17" x2="435.10" y2="297.17" stroke="#1a1aff" stroke-width="0.95" />
<line x1="429.90" y1="313.57" x2="435.10" y2="313.57" stroke="#1a1aff" stroke-width="0.95" />
<circle cx="432.5" cy="305.4" r="2.0" fill="#1a1aff"/>
<line x1="466.19" y1="323.88" x2="466.19" y2="340.28" stroke="#1a1aff" stroke-width="0.95" />
<line x1="463.59" y1="323.88" x2="468.79" y2="323.88" stroke="#1a1aff" stroke-width="0.95" />
<line x1="463.59" y1="340.28" x2="468.79" y2="340.28" stroke="#1a1aff" stroke-width="0.95" />
<circle cx="466.2" cy="332.1" r="2.0" fill="#1a1aff"/>
<line x1="499.88" y1="348.34" x2="499.88" y2="363.74" stroke="#1a1aff" stroke-width="0.95" />
<line x1="497.28" y1="348.34" x2="502.48" y2="348.34" stroke="#1a1aff" stroke-width="0.95" />
<line x1="497.28" y1="363.74" x2="502.48" y2="363.74" stroke="#1a1aff" stroke-width="0.95" />
<circle cx="499.9" cy="356.0" r="2.0" fill="#1a1aff"/>
<line x1="533.57" y1="372.58" x2="533.57" y2="384.18" stroke="#1a1aff" stroke-width="0.95" />
<line x1="530.97" y1="372.58" x2="536.17" y2="372.58" stroke="#1a1aff" stroke-width="0.95" />
<line x1="530.97" y1="384.18" x2="536.17" y2="384.18" stroke="#1a1aff" stroke-width="0.95" />
<circle cx="533.6" cy="378.4" r="2.0" fill="#1a1aff"/>
<line x1="567.26" y1="391.32" x2="567.26" y2="404.12" stroke="#1a1aff" stroke-width="0.95" />
<line x1="564.66" y1="391.32" x2="569.86" y2="391.32" stroke="#1a1aff" stroke-width="0.95" />
<line x1="564.66" y1="404.12" x2="569.86" y2="404.12" stroke="#1a1aff" stroke-width="0.95" />
<circle cx="567.3" cy="397.7" r="2.0" fill="#1a1aff"/>
<line x1="600.95" y1="408.42" x2="600.95" y2="418.22" stroke="#1a1aff" stroke-width="0.95" />
<line x1="598.35" y1="408.42" x2="603.55" y2="408.42" stroke="#1a1aff" stroke-width="0.95" />
<line x1="598.35" y1="418.22" x2="603.55" y2="418.22" stroke="#1a1aff" stroke-width="0.95" />
<circle cx="601.0" cy="413.3" r="2.0" fill="#1a1aff"/>
<line x1="634.64" y1="422.60" x2="634.64" y2="432.00" stroke="#1a1aff" stroke-width="0.95" />
<line x1="632.04" y1="422.60" x2="637.24" y2="422.60" stroke="#1a1aff" stroke-width="0.95" />
<line x1="632.04" y1="432.00" x2="637.24" y2="432.00" stroke="#1a1aff" stroke-width="0.95" />
<circle cx="634.6" cy="427.3" r="2.0" fill="#1a1aff"/>
<line x1="668.33" y1="434.46" x2="668.33" y2="443.86" stroke="#1a1aff" stroke-width="0.95" />
<line x1="665.73" y1="434.46" x2="670.93" y2="434.46" stroke="#1a1aff" stroke-width="0.95" />
<line x1="665.73" y1="443.86" x2="670.93" y2="443.86" stroke="#1a1aff" stroke-width="0.95" />
<circle cx="668.3" cy="439.2" r="2.0" fill="#1a1aff"/>
<line x1="421.20" y1="261.00" x2="421.20" y2="493.90" stroke="#444" stroke-width="1.3" />
<line x1="420.60" y1="493.30" x2="679.20" y2="493.30" stroke="#333" stroke-width="1.3" />
<line x1="421.20" y1="475.60" x2="424.20" y2="475.60" stroke="#333" stroke-width="1" />
<text x="417.5" y="479.4" font-size="11" fill="#222" text-anchor="end" >423</text>
<line x1="421.20" y1="438.16" x2="424.20" y2="438.16" stroke="#333" stroke-width="1" />
<text x="417.5" y="442.0" font-size="11" fill="#222" text-anchor="end" >426</text>
<line x1="421.20" y1="400.72" x2="424.20" y2="400.72" stroke="#333" stroke-width="1" />
<text x="417.5" y="404.5" font-size="11" fill="#222" text-anchor="end" >429</text>
<line x1="421.20" y1="363.28" x2="424.20" y2="363.28" stroke="#333" stroke-width="1" />
<text x="417.5" y="367.1" font-size="11" fill="#222" text-anchor="end" >432</text>
<line x1="421.20" y1="325.84" x2="424.20" y2="325.84" stroke="#333" stroke-width="1" />
<text x="417.5" y="329.6" font-size="11" fill="#222" text-anchor="end" >435</text>
<line x1="421.20" y1="288.40" x2="424.20" y2="288.40" stroke="#333" stroke-width="1" />
<text x="417.5" y="292.2" font-size="11" fill="#222" text-anchor="end" >438</text>
<line x1="432.50" y1="493.30" x2="432.50" y2="490.30" stroke="#333" stroke-width="1" />
<text x="432.5" y="505.9" font-size="10.5" fill="#222" text-anchor="middle" >9</text>
<line x1="466.19" y1="493.30" x2="466.19" y2="490.30" stroke="#333" stroke-width="1" />
<text x="466.2" y="505.9" font-size="10.5" fill="#222" text-anchor="middle" >12</text>
<line x1="499.88" y1="493.30" x2="499.88" y2="490.30" stroke="#333" stroke-width="1" />
<text x="499.9" y="505.9" font-size="10.5" fill="#222" text-anchor="middle" >15</text>
<line x1="533.57" y1="493.30" x2="533.57" y2="490.30" stroke="#333" stroke-width="1" />
<text x="533.6" y="505.9" font-size="10.5" fill="#222" text-anchor="middle" >18</text>
<line x1="567.26" y1="493.30" x2="567.26" y2="490.30" stroke="#333" stroke-width="1" />
<text x="567.3" y="505.9" font-size="10.5" fill="#222" text-anchor="middle" >21</text>
<line x1="600.95" y1="493.30" x2="600.95" y2="490.30" stroke="#333" stroke-width="1" />
<text x="601.0" y="505.9" font-size="10.5" fill="#222" text-anchor="middle" >24</text>
<line x1="634.64" y1="493.30" x2="634.64" y2="490.30" stroke="#333" stroke-width="1" />
<text x="634.6" y="505.9" font-size="10.5" fill="#222" text-anchor="middle" >27</text>
<line x1="668.33" y1="493.30" x2="668.33" y2="490.30" stroke="#333" stroke-width="1" />
<text x="668.3" y="505.9" font-size="10.5" fill="#222" text-anchor="middle" >30</text>
<text x="552.9" y="524.2" font-size="14.6" fill="#222" text-anchor="middle" >IOP (mmHg)</text>
<text transform="translate(393.4,380.1) rotate(-90)" font-size="12.3" fill="#222" text-anchor="middle">Resonant frequency (MHz)</text>
<line x1="601.20" y1="273.60" x2="626.20" y2="273.60" stroke="#3cf03c" stroke-width="1.1" stroke-dasharray="2.6,2.2"/>
<polygon points="613.8,271.0 611.3,275.4 616.3,275.4" fill="#3cf03c"/>
<text x="632.9" y="277.9" font-size="10.7" fill="#3cf03c" text-anchor="start" >Eye 1</text>
<line x1="601.20" y1="291.60" x2="626.20" y2="291.60" stroke="#f02828" stroke-width="1.1" stroke-dasharray="2.6,2.2"/>
<rect x="611.8" y="289.6" width="4" height="4" fill="#f02828"/>
<text x="632.9" y="294.8" font-size="10.7" fill="#f02828" text-anchor="start" >Eye 2</text>
<line x1="601.20" y1="308.50" x2="626.20" y2="308.50" stroke="#1a1aff" stroke-width="1.1" stroke-dasharray="2.6,2.2"/>
<circle cx="613.8" cy="308.5" r="2.1" fill="#1a1aff"/>
<text x="632.9" y="311.7" font-size="10.7" fill="#1a1aff" text-anchor="start" >Eye 3</text>
<g transform="translate(541.9,328.5) rotate(27.2)"><line x1="-8.4" y1="-4.6" x2="-3.4" y2="-4.6" stroke="#f02828" stroke-width="1.15"/><text x="0" y="0" font-size="12.2" fill="#f02828">0.533 MHz/mmHg</text></g>
<g transform="translate(469.05,412.4) rotate(27.5)"><line x1="-7.0" y1="-4.5" x2="-2.5" y2="-4.5" stroke="#3cf03c" stroke-width="1.15"/><text x="0" y="0" font-size="12.2" fill="#3cf03c">0.551 MHz/mmHg</text></g>
<g transform="translate(574.2,419.2) rotate(28.4)"><line x1="-7.1" y1="-5.0" x2="-1.6" y2="-5.0" stroke="#1a1aff" stroke-width="1.15"/><text x="0" y="0" font-size="12.2" fill="#1a1aff">0.484 MHz/mmHg</text></g>
</g>
<g font-family="Liberation Sans, sans-serif">
<line x1="443.50" y1="554.80" x2="674.10" y2="726.40" stroke="#e8302a" stroke-width="1.9" stroke-dasharray="5.8,4.2"/>
<line x1="431.35" y1="551.70" x2="442.25" y2="551.70" stroke="#2222ee" stroke-width="1" />
<line x1="431.35" y1="549.10" x2="431.35" y2="554.30" stroke="#2222ee" stroke-width="1" />
<line x1="442.25" y1="549.10" x2="442.25" y2="554.30" stroke="#2222ee" stroke-width="1" />
<rect x="434.2" y="550.1" width="5.2" height="3.2" fill="#2222ee"/>
<rect x="436.3" y="550.8" width="1" height="1.8" fill="#8888ff"/>
<line x1="459.40" y1="572.10" x2="475.40" y2="572.10" stroke="#2222ee" stroke-width="1" />
<line x1="459.40" y1="569.50" x2="459.40" y2="574.70" stroke="#2222ee" stroke-width="1" />
<line x1="475.40" y1="569.50" x2="475.40" y2="574.70" stroke="#2222ee" stroke-width="1" />
<rect x="464.8" y="570.5" width="5.2" height="3.2" fill="#2222ee"/>
<rect x="466.9" y="571.2" width="1" height="1.8" fill="#8888ff"/>
<line x1="476.20" y1="580.00" x2="494.60" y2="580.00" stroke="#2222ee" stroke-width="1" />
<line x1="476.20" y1="577.40" x2="476.20" y2="582.60" stroke="#2222ee" stroke-width="1" />
<line x1="494.60" y1="577.40" x2="494.60" y2="582.60" stroke="#2222ee" stroke-width="1" />
<rect x="482.8" y="578.4" width="5.2" height="3.2" fill="#2222ee"/>
<rect x="484.9" y="579.1" width="1" height="1.8" fill="#8888ff"/>
<line x1="477.10" y1="582.60" x2="493.70" y2="582.60" stroke="#2222ee" stroke-width="1" />
<line x1="477.10" y1="580.00" x2="477.10" y2="585.20" stroke="#2222ee" stroke-width="1" />
<line x1="493.70" y1="580.00" x2="493.70" y2="585.20" stroke="#2222ee" stroke-width="1" />
<rect x="482.8" y="581.0" width="5.2" height="3.2" fill="#2222ee"/>
<rect x="484.9" y="581.7" width="1" height="1.8" fill="#8888ff"/>
<line x1="479.10" y1="590.50" x2="491.70" y2="590.50" stroke="#2222ee" stroke-width="1" />
<line x1="479.10" y1="587.90" x2="479.10" y2="593.10" stroke="#2222ee" stroke-width="1" />
<line x1="491.70" y1="587.90" x2="491.70" y2="593.10" stroke="#2222ee" stroke-width="1" />
<rect x="482.8" y="588.9" width="5.2" height="3.2" fill="#2222ee"/>
<rect x="484.9" y="589.6" width="1" height="1.8" fill="#8888ff"/>
<line x1="519.70" y1="610.60" x2="536.30" y2="610.60" stroke="#2222ee" stroke-width="1" />
<line x1="519.70" y1="608.00" x2="519.70" y2="613.20" stroke="#2222ee" stroke-width="1" />
<line x1="536.30" y1="608.00" x2="536.30" y2="613.20" stroke="#2222ee" stroke-width="1" />
<rect x="525.4" y="609.0" width="5.2" height="3.2" fill="#2222ee"/>
<rect x="527.5" y="609.7" width="1" height="1.8" fill="#8888ff"/>
<line x1="573.90" y1="661.40" x2="590.30" y2="661.40" stroke="#2222ee" stroke-width="1" />
<line x1="573.90" y1="658.80" x2="573.90" y2="664.00" stroke="#2222ee" stroke-width="1" />
<line x1="590.30" y1="658.80" x2="590.30" y2="664.00" stroke="#2222ee" stroke-width="1" />
<rect x="579.5" y="659.8" width="5.2" height="3.2" fill="#2222ee"/>
<rect x="581.6" y="660.5" width="1" height="1.8" fill="#8888ff"/>
<line x1="585.70" y1="665.50" x2="602.70" y2="665.50" stroke="#2222ee" stroke-width="1" />
<line x1="585.70" y1="662.90" x2="585.70" y2="668.10" stroke="#2222ee" stroke-width="1" />
<line x1="602.70" y1="662.90" x2="602.70" y2="668.10" stroke="#2222ee" stroke-width="1" />
<rect x="591.6" y="663.9" width="5.2" height="3.2" fill="#2222ee"/>
<rect x="593.7" y="664.6" width="1" height="1.8" fill="#8888ff"/>
<line x1="623.10" y1="695.10" x2="637.50" y2="695.10" stroke="#2222ee" stroke-width="1" />
<line x1="623.10" y1="692.50" x2="623.10" y2="697.70" stroke="#2222ee" stroke-width="1" />
<line x1="637.50" y1="692.50" x2="637.50" y2="697.70" stroke="#2222ee" stroke-width="1" />
<rect x="627.7" y="693.5" width="5.2" height="3.2" fill="#2222ee"/>
<rect x="629.8" y="694.2" width="1" height="1.8" fill="#8888ff"/>
<line x1="663.10" y1="722.80" x2="669.70" y2="722.80" stroke="#2222ee" stroke-width="1" />
<line x1="663.10" y1="720.20" x2="663.10" y2="725.40" stroke="#2222ee" stroke-width="1" />
<line x1="669.70" y1="720.20" x2="669.70" y2="725.40" stroke="#2222ee" stroke-width="1" />
<rect x="663.8" y="721.2" width="5.2" height="3.2" fill="#2222ee"/>
<rect x="665.9" y="721.9" width="1" height="1.8" fill="#8888ff"/>
<line x1="668.50" y1="725.20" x2="677.50" y2="725.20" stroke="#2222ee" stroke-width="1" />
<line x1="668.50" y1="722.60" x2="668.50" y2="727.80" stroke="#2222ee" stroke-width="1" />
<line x1="677.50" y1="722.60" x2="677.50" y2="727.80" stroke="#2222ee" stroke-width="1" />
<rect x="670.4" y="723.6" width="5.2" height="3.2" fill="#2222ee"/>
<rect x="672.5" y="724.3" width="1" height="1.8" fill="#8888ff"/>
<line x1="424.80" y1="533.50" x2="424.80" y2="739.60" stroke="#222" stroke-width="1.3" />
<line x1="424.20" y1="739.00" x2="683.80" y2="739.00" stroke="#222" stroke-width="1.3" />
<line x1="424.80" y1="686.00" x2="428.00" y2="686.00" stroke="#222" stroke-width="1" />
<text x="421.5" y="690.3" font-size="12" fill="#222" text-anchor="end" >430</text>
<line x1="424.80" y1="627.60" x2="428.00" y2="627.60" stroke="#222" stroke-width="1" />
<text x="421.5" y="631.9" font-size="12" fill="#222" text-anchor="end" >432</text>
<line x1="424.80" y1="569.20" x2="428.00" y2="569.20" stroke="#222" stroke-width="1" />
<text x="421.5" y="573.5" font-size="12" fill="#222" text-anchor="end" >434</text>
<line x1="425.20" y1="739.00" x2="425.20" y2="736.00" stroke="#222" stroke-width="1" />
<text x="425.2" y="750.6" font-size="10.8" fill="#222" text-anchor="middle" >15</text>
<line x1="479.59" y1="739.00" x2="479.59" y2="736.00" stroke="#222" stroke-width="1" />
<text x="479.6" y="750.6" font-size="10.8" fill="#222" text-anchor="middle" >18</text>
<line x1="533.98" y1="739.00" x2="533.98" y2="736.00" stroke="#222" stroke-width="1" />
<text x="534.0" y="750.6" font-size="10.8" fill="#222" text-anchor="middle" >21</text>
<line x1="588.37" y1="739.00" x2="588.37" y2="736.00" stroke="#222" stroke-width="1" />
<text x="588.4" y="750.6" font-size="10.8" fill="#222" text-anchor="middle" >24</text>
<line x1="642.76" y1="739.00" x2="642.76" y2="736.00" stroke="#222" stroke-width="1" />
<text x="642.8" y="750.6" font-size="10.8" fill="#222" text-anchor="middle" >27</text>
<text x="561.0" y="767.9" font-size="13.0" fill="#222" text-anchor="middle" >IOP (mmHg)</text>
<text transform="translate(396.3,644) rotate(-90)" font-size="12.8" fill="#222" text-anchor="middle">Resonant frequency (MHz)</text>
<text x="453.2" y="697.9" font-size="13.4" fill="#222" text-anchor="start" >-0.532 MHz/mmHg</text>
</g>
<g font-family="Liberation Sans, sans-serif">
<rect x="92" y="784" width="33.4" height="217" fill="#b9d7ec"/>
<rect x="125.2" y="784" width="34.8" height="217" fill="#e9c1a0"/>
<rect x="159.8" y="784" width="33.6" height="217" fill="#9fe8b5"/>
<rect x="193.2" y="784" width="35.6" height="217" fill="#d5e5f5"/>
<rect x="228.6" y="784" width="36.5" height="217" fill="#c0c0c0"/>
<rect x="264.9" y="784" width="36.7" height="217" fill="#f2888c"/>
<rect x="301.4" y="784" width="34.2" height="217" fill="#f0e28c"/>
<rect x="335.4" y="784" width="36.6" height="217" fill="#bca5da"/>
<rect x="371.8" y="784" width="35.8" height="217" fill="#e9d1c1"/>
<rect x="407.4" y="784" width="36.1" height="217" fill="#a0e8f5"/>
<rect x="443.3" y="784" width="40.2" height="217" fill="#f2888c"/>
<rect x="483.3" y="784" width="35.3" height="217" fill="#d9f0d1"/>
<rect x="95.9" y="875.6" width="5.2" height="5.2" fill="#a8405a"/>
<rect x="104.3" y="849.4" width="5.2" height="5.2" fill="#a8405a"/>
<rect x="112.2" y="875.6" width="5.2" height="5.2" fill="#a8405a"/>
<rect x="94.0" y="864.4" width="1.9" height="1.9" fill="#3a40f0"/>
<rect x="94.5" y="864.4" width="1.9" height="1.9" fill="#3a40f0"/>
<rect x="94.9" y="865.3" width="1.9" height="1.9" fill="#3a40f0"/>
<rect x="95.3" y="864.2" width="1.9" height="1.9" fill="#3a40f0"/>
<rect x="95.8" y="863.5" width="1.9" height="1.9" fill="#3a40f0"/>
<rect x="96.2" y="863.2" width="1.9" height="1.9" fill="#3a40f0"/>
<rect x="96.7" y="862.8" width="1.9" height="1.9" fill="#3a40f0"/>
<rect x="97.2" y="864.6" width="1.9" height="1.9" fill="#3a40f0"/>
<rect x="97.6" y="863.8" width="1.9" height="1.9" fill="#3a40f0"/>
<rect x="98.0" y="863.3" width="1.9" height="1.9" fill="#3a40f0"/>
<rect x="98.5" y="864.5" width="1.9" height="1.9" fill="#3a40f0"/>
<rect x="99.0" y="863.3" width="1.9" height="1.9" fill="#3a40f0"/>
<rect x="99.4" y="863.6" width="1.9" height="1.9" fill="#3a40f0"/>
<rect x="99.8" y="863.6" width="1.9" height="1.9" fill="#3a40f0"/>
<rect x="100.3" y="865.5" width="1.9" height="1.9" fill="#3a40f0"/>
<rect x="100.8" y="865.3" width="1.9" height="1.9" fill="#3a40f0"/>
<rect x="101.2" y="863.9" width="1.9" height="1.9" fill="#3a40f0"/>
<rect x="101.7" y="862.6" width="1.9" height="1.9" fill="#3a40f0"/>
<rect x="102.1" y="864.3" width="1.9" height="1.9" fill="#3a40f0"/>
<rect x="102.5" y="864.1" width="1.9" height="1.9" fill="#3a40f0"/>
<rect x="103.0" y="864.4" width="1.9" height="1.9" fill="#3a40f0"/>
<rect x="103.5" y="864.6" width="1.9" height="1.9" fill="#3a40f0"/>
<rect x="103.9" y="863.8" width="1.9" height="1.9" fill="#3a40f0"/>
<rect x="104.3" y="864.9" width="1.9" height="1.9" fill="#3a40f0"/>
<rect x="104.8" y="864.9" width="1.9" height="1.9" fill="#3a40f0"/>
<rect x="105.2" y="864.3" width="1.9" height="1.9" fill="#3a40f0"/>
<rect x="105.7" y="863.8" width="1.9" height="1.9" fill="#3a40f0"/>
<rect x="106.2" y="863.7" width="1.9" height="1.9" fill="#3a40f0"/>
<rect x="106.6" y="864.8" width="1.9" height="1.9" fill="#3a40f0"/>
<rect x="107.0" y="863.2" width="1.9" height="1.9" fill="#3a40f0"/>
<rect x="107.5" y="864.0" width="1.9" height="1.9" fill="#3a40f0"/>
<rect x="108.0" y="863.5" width="1.9" height="1.9" fill="#3a40f0"/>
<rect x="108.4" y="862.9" width="1.9" height="1.9" fill="#3a40f0"/>
<rect x="108.8" y="864.7" width="1.9" height="1.9" fill="#3a40f0"/>
<rect x="109.3" y="864.2" width="1.9" height="1.9" fill="#3a40f0"/>
<rect x="109.8" y="864.2" width="1.9" height="1.9" fill="#3a40f0"/>
<rect x="110.2" y="865.0" width="1.9" height="1.9" fill="#3a40f0"/>
<rect x="110.7" y="862.9" width="1.9" height="1.9" fill="#3a40f0"/>
<rect x="111.1" y="864.2" width="1.9" height="1.9" fill="#3a40f0"/>
<rect x="111.5" y="864.5" width="1.9" height="1.9" fill="#3a40f0"/>
<rect x="112.0" y="865.0" width="1.9" height="1.9" fill="#3a40f0"/>
<rect x="112.5" y="863.3" width="1.9" height="1.9" fill="#3a40f0"/>
<rect x="112.9" y="864.9" width="1.9" height="1.9" fill="#3a40f0"/>
<rect x="113.3" y="864.5" width="1.9" height="1.9" fill="#3a40f0"/>
<rect x="113.8" y="865.5" width="1.9" height="1.9" fill="#3a40f0"/>
<rect x="114.2" y="865.3" width="1.9" height="1.9" fill="#3a40f0"/>
<rect x="114.7" y="864.8" width="1.9" height="1.9" fill="#3a40f0"/>
<rect x="115.2" y="866.2" width="1.9" height="1.9" fill="#3a40f0"/>
<rect x="115.6" y="864.3" width="1.9" height="1.9" fill="#3a40f0"/>
<rect x="116.0" y="863.9" width="1.9" height="1.9" fill="#3a40f0"/>
<rect x="116.5" y="864.0" width="1.9" height="1.9" fill="#3a40f0"/>
<rect x="117.0" y="863.5" width="1.9" height="1.9" fill="#3a40f0"/>
<rect x="117.4" y="864.3" width="1.9" height="1.9" fill="#3a40f0"/>
<rect x="117.8" y="862.7" width="1.9" height="1.9" fill="#3a40f0"/>
<rect x="118.3" y="864.3" width="1.9" height="1.9" fill="#3a40f0"/>
<rect x="118.8" y="864.7" width="1.9" height="1.9" fill="#3a40f0"/>
<rect x="119.2" y="865.3" width="1.9" height="1.9" fill="#3a40f0"/>
<rect x="119.7" y="864.1" width="1.9" height="1.9" fill="#3a40f0"/>
<rect x="120.1" y="865.6" width="1.9" height="1.9" fill="#3a40f0"/>
<rect x="120.5" y="863.8" width="1.9" height="1.9" fill="#3a40f0"/>
<rect x="126.9" y="833.9" width="5.2" height="5.2" fill="#ee2a1e"/>
<rect x="136.7" y="819.9" width="5.2" height="5.2" fill="#ee2a1e"/>
<rect x="150.3" y="833.9" width="5.2" height="5.2" fill="#ee2a1e"/>
<rect x="127.0" y="829.9" width="1.9" height="1.9" fill="#5034c8"/>
<rect x="127.5" y="828.4" width="1.9" height="1.9" fill="#5034c8"/>
<rect x="127.9" y="829.4" width="1.9" height="1.9" fill="#5034c8"/>
<rect x="128.4" y="829.3" width="1.9" height="1.9" fill="#5034c8"/>
<rect x="128.8" y="831.4" width="1.9" height="1.9" fill="#5034c8"/>
<rect x="129.3" y="830.5" width="1.9" height="1.9" fill="#5034c8"/>
<rect x="129.7" y="829.1" width="1.9" height="1.9" fill="#5034c8"/>
<rect x="130.2" y="830.5" width="1.9" height="1.9" fill="#5034c8"/>
<rect x="130.6" y="830.5" width="1.9" height="1.9" fill="#5034c8"/>
<rect x="131.1" y="829.8" width="1.9" height="1.9" fill="#5034c8"/>
<rect x="131.5" y="830.1" width="1.9" height="1.9" fill="#5034c8"/>
<rect x="132.0" y="829.8" width="1.9" height="1.9" fill="#5034c8"/>
<rect x="132.4" y="829.6" width="1.9" height="1.9" fill="#5034c8"/>
<rect x="132.9" y="828.5" width="1.9" height="1.9" fill="#5034c8"/>
<rect x="133.3" y="830.0" width="1.9" height="1.9" fill="#5034c8"/>
<rect x="133.8" y="831.2" width="1.9" height="1.9" fill="#5034c8"/>
<rect x="134.2" y="831.3" width="1.9" height="1.9" fill="#5034c8"/>
<rect x="134.7" y="829.8" width="1.9" height="1.9" fill="#5034c8"/>
<rect x="135.1" y="829.4" width="1.9" height="1.9" fill="#5034c8"/>
<rect x="135.6" y="829.9" width="1.9" height="1.9" fill="#5034c8"/>
<rect x="136.0" y="830.8" width="1.9" height="1.9" fill="#5034c8"/>
<rect x="136.5" y="830.4" width="1.9" height="1.9" fill="#5034c8"/>
<rect x="136.9" y="829.5" width="1.9" height="1.9" fill="#5034c8"/>
<rect x="137.4" y="830.4" width="1.9" height="1.9" fill="#5034c8"/>
<rect x="137.8" y="829.9" width="1.9" height="1.9" fill="#5034c8"/>
<rect x="138.3" y="830.5" width="1.9" height="1.9" fill="#5034c8"/>
<rect x="138.7" y="829.7" width="1.9" height="1.9" fill="#5034c8"/>
<rect x="139.2" y="828.8" width="1.9" height="1.9" fill="#5034c8"/>
<rect x="139.6" y="830.1" width="1.9" height="1.9" fill="#5034c8"/>
<rect x="140.1" y="830.7" width="1.9" height="1.9" fill="#5034c8"/>
<rect x="140.5" y="829.1" width="1.9" height="1.9" fill="#5034c8"/>
<rect x="141.0" y="830.0" width="1.9" height="1.9" fill="#5034c8"/>
<rect x="141.5" y="830.8" width="1.9" height="1.9" fill="#5034c8"/>
<rect x="141.9" y="829.7" width="1.9" height="1.9" fill="#5034c8"/>
<rect x="142.4" y="829.5" width="1.9" height="1.9" fill="#5034c8"/>
<rect x="142.8" y="831.8" width="1.9" height="1.9" fill="#5034c8"/>
<rect x="143.3" y="830.8" width="1.9" height="1.9" fill="#5034c8"/>
<rect x="143.7" y="831.0" width="1.9" height="1.9" fill="#5034c8"/>
<rect x="144.2" y="829.2" width="1.9" height="1.9" fill="#5034c8"/>
<rect x="144.6" y="831.5" width="1.9" height="1.9" fill="#5034c8"/>
<rect x="145.1" y="828.6" width="1.9" height="1.9" fill="#5034c8"/>
<rect x="145.5" y="829.6" width="1.9" height="1.9" fill="#5034c8"/>
<rect x="146.0" y="830.7" width="1.9" height="1.9" fill="#5034c8"/>
<rect x="146.4" y="831.2" width="1.9" height="1.9" fill="#5034c8"/>
<rect x="146.9" y="829.2" width="1.9" height="1.9" fill="#5034c8"/>
<rect x="147.3" y="829.5" width="1.9" height="1.9" fill="#5034c8"/>
<rect x="147.8" y="830.2" width="1.9" height="1.9" fill="#5034c8"/>
<rect x="148.2" y="828.4" width="1.9" height="1.9" fill="#5034c8"/>
<rect x="148.7" y="830.6" width="1.9" height="1.9" fill="#5034c8"/>
<rect x="149.1" y="830.5" width="1.9" height="1.9" fill="#5034c8"/>
<rect x="149.6" y="829.7" width="1.9" height="1.9" fill="#5034c8"/>
<rect x="150.0" y="830.5" width="1.9" height="1.9" fill="#5034c8"/>
<rect x="150.5" y="830.7" width="1.9" height="1.9" fill="#5034c8"/>
<rect x="150.9" y="830.3" width="1.9" height="1.9" fill="#5034c8"/>
<rect x="151.4" y="830.5" width="1.9" height="1.9" fill="#5034c8"/>
<rect x="151.8" y="831.4" width="1.9" height="1.9" fill="#5034c8"/>
<rect x="152.3" y="829.6" width="1.9" height="1.9" fill="#5034c8"/>
<rect x="152.7" y="830.2" width="1.9" height="1.9" fill="#5034c8"/>
<rect x="153.2" y="829.6" width="1.9" height="1.9" fill="#5034c8"/>
<rect x="153.6" y="831.0" width="1.9" height="1.9" fill="#5034c8"/>
<rect x="154.1" y="829.7" width="1.9" height="1.9" fill="#5034c8"/>
<rect x="154.5" y="830.5" width="1.9" height="1.9" fill="#5034c8"/>
<rect x="163.9" y="805.8" width="5.2" height="5.2" fill="#8c4a2e"/>
<rect x="172.7" y="805.8" width="5.2" height="5.2" fill="#8c4a2e"/>
<rect x="183.7" y="792.1" width="5.2" height="5.2" fill="#8c4a2e"/>
<rect x="161.0" y="803.1" width="1.9" height="1.9" fill="#3050c8"/>
<rect x="161.4" y="803.0" width="1.9" height="1.9" fill="#3050c8"/>
<rect x="161.9" y="804.4" width="1.9" height="1.9" fill="#3050c8"/>
<rect x="162.3" y="802.8" width="1.9" height="1.9" fill="#3050c8"/>
<rect x="162.8" y="804.0" width="1.9" height="1.9" fill="#3050c8"/>
<rect x="163.2" y="803.4" width="1.9" height="1.9" fill="#3050c8"/>
<rect x="163.7" y="803.8" width="1.9" height="1.9" fill="#3050c8"/>
<rect x="164.2" y="802.4" width="1.9" height="1.9" fill="#3050c8"/>
<rect x="164.6" y="803.3" width="1.9" height="1.9" fill="#3050c8"/>
<rect x="165.1" y="803.1" width="1.9" height="1.9" fill="#3050c8"/>
<rect x="165.5" y="801.9" width="1.9" height="1.9" fill="#3050c8"/>
<rect x="165.9" y="802.6" width="1.9" height="1.9" fill="#3050c8"/>
<rect x="166.4" y="802.2" width="1.9" height="1.9" fill="#3050c8"/>
<rect x="166.8" y="802.2" width="1.9" height="1.9" fill="#3050c8"/>
<rect x="167.3" y="803.3" width="1.9" height="1.9" fill="#3050c8"/>
<rect x="167.8" y="801.5" width="1.9" height="1.9" fill="#3050c8"/>
<rect x="168.2" y="800.6" width="1.9" height="1.9" fill="#3050c8"/>
<rect x="168.7" y="800.5" width="1.9" height="1.9" fill="#3050c8"/>
<rect x="169.1" y="801.6" width="1.9" height="1.9" fill="#3050c8"/>
<rect x="169.6" y="801.3" width="1.9" height="1.9" fill="#3050c8"/>
<rect x="170.0" y="801.8" width="1.9" height="1.9" fill="#3050c8"/>
<rect x="170.4" y="802.3" width="1.9" height="1.9" fill="#3050c8"/>
<rect x="170.9" y="803.2" width="1.9" height="1.9" fill="#3050c8"/>
<rect x="171.3" y="801.9" width="1.9" height="1.9" fill="#3050c8"/>
<rect x="171.8" y="802.0" width="1.9" height="1.9" fill="#3050c8"/>
<rect x="172.2" y="800.9" width="1.9" height="1.9" fill="#3050c8"/>
<rect x="172.7" y="802.0" width="1.9" height="1.9" fill="#3050c8"/>
<rect x="173.2" y="802.6" width="1.9" height="1.9" fill="#3050c8"/>
<rect x="173.6" y="802.5" width="1.9" height="1.9" fill="#3050c8"/>
<rect x="174.1" y="799.6" width="1.9" height="1.9" fill="#3050c8"/>
<rect x="174.5" y="802.0" width="1.9" height="1.9" fill="#3050c8"/>
<rect x="174.9" y="802.6" width="1.9" height="1.9" fill="#3050c8"/>
<rect x="175.4" y="801.9" width="1.9" height="1.9" fill="#3050c8"/>
<rect x="175.8" y="799.8" width="1.9" height="1.9" fill="#3050c8"/>
<rect x="176.3" y="800.8" width="1.9" height="1.9" fill="#3050c8"/>
<rect x="176.8" y="801.5" width="1.9" height="1.9" fill="#3050c8"/>
<rect x="177.2" y="801.3" width="1.9" height="1.9" fill="#3050c8"/>
<rect x="177.7" y="800.1" width="1.9" height="1.9" fill="#3050c8"/>
<rect x="178.1" y="800.0" width="1.9" height="1.9" fill="#3050c8"/>
<rect x="178.6" y="801.6" width="1.9" height="1.9" fill="#3050c8"/>
<rect x="179.0" y="799.5" width="1.9" height="1.9" fill="#3050c8"/>
<rect x="179.4" y="801.9" width="1.9" height="1.9" fill="#3050c8"/>
<rect x="179.9" y="800.6" width="1.9" height="1.9" fill="#3050c8"/>
<rect x="180.3" y="800.8" width="1.9" height="1.9" fill="#3050c8"/>
<rect x="180.8" y="799.3" width="1.9" height="1.9" fill="#3050c8"/>
<rect x="181.2" y="799.9" width="1.9" height="1.9" fill="#3050c8"/>
<rect x="181.7" y="800.9" width="1.9" height="1.9" fill="#3050c8"/>
<rect x="182.2" y="799.0" width="1.9" height="1.9" fill="#3050c8"/>
<rect x="182.6" y="802.0" width="1.9" height="1.9" fill="#3050c8"/>
<rect x="183.1" y="798.9" width="1.9" height="1.9" fill="#3050c8"/>
<rect x="183.5" y="799.0" width="1.9" height="1.9" fill="#3050c8"/>
<rect x="183.9" y="800.1" width="1.9" height="1.9" fill="#3050c8"/>
<rect x="184.4" y="800.4" width="1.9" height="1.9" fill="#3050c8"/>
<rect x="184.8" y="800.5" width="1.9" height="1.9" fill="#3050c8"/>
<rect x="185.3" y="799.5" width="1.9" height="1.9" fill="#3050c8"/>
<rect x="185.8" y="799.6" width="1.9" height="1.9" fill="#3050c8"/>
<rect x="186.2" y="799.5" width="1.9" height="1.9" fill="#3050c8"/>
<rect x="186.7" y="799.2" width="1.9" height="1.9" fill="#3050c8"/>
<rect x="187.1" y="797.4" width="1.9" height="1.9" fill="#3050c8"/>
<rect x="187.6" y="800.4" width="1.9" height="1.9" fill="#3050c8"/>
<rect x="201.0" y="792.4" width="5.2" height="5.2" fill="#d4485e"/>
<rect x="208.9" y="805.5" width="5.2" height="5.2" fill="#d4485e"/>
<rect x="217.6" y="792.4" width="5.2" height="5.2" fill="#d4485e"/>
<rect x="199.5" y="797.3" width="1.9" height="1.9" fill="#4262e2"/>
<rect x="200.0" y="797.3" width="1.9" height="1.9" fill="#4262e2"/>
<rect x="200.4" y="796.7" width="1.9" height="1.9" fill="#4262e2"/>
<rect x="200.9" y="797.5" width="1.9" height="1.9" fill="#4262e2"/>
<rect x="201.3" y="797.4" width="1.9" height="1.9" fill="#4262e2"/>
<rect x="201.8" y="797.4" width="1.9" height="1.9" fill="#4262e2"/>
<rect x="202.2" y="798.6" width="1.9" height="1.9" fill="#4262e2"/>
<rect x="202.7" y="796.2" width="1.9" height="1.9" fill="#4262e2"/>
<rect x="203.1" y="798.0" width="1.9" height="1.9" fill="#4262e2"/>
<rect x="203.6" y="797.0" width="1.9" height="1.9" fill="#4262e2"/>
<rect x="204.0" y="797.7" width="1.9" height="1.9" fill="#4262e2"/>
<rect x="204.5" y="799.4" width="1.9" height="1.9" fill="#4262e2"/>
<rect x="204.9" y="797.2" width="1.9" height="1.9" fill="#4262e2"/>
<rect x="205.4" y="798.2" width="1.9" height="1.9" fill="#4262e2"/>
<rect x="205.9" y="797.8" width="1.9" height="1.9" fill="#4262e2"/>
<rect x="206.3" y="799.3" width="1.9" height="1.9" fill="#4262e2"/>
<rect x="206.8" y="797.7" width="1.9" height="1.9" fill="#4262e2"/>
<rect x="207.2" y="797.2" width="1.9" height="1.9" fill="#4262e2"/>
<rect x="207.7" y="799.2" width="1.9" height="1.9" fill="#4262e2"/>
<rect x="208.1" y="798.5" width="1.9" height="1.9" fill="#4262e2"/>
<rect x="208.6" y="798.6" width="1.9" height="1.9" fill="#4262e2"/>
<rect x="209.0" y="799.9" width="1.9" height="1.9" fill="#4262e2"/>
<rect x="209.5" y="798.3" width="1.9" height="1.9" fill="#4262e2"/>
<rect x="209.9" y="798.9" width="1.9" height="1.9" fill="#4262e2"/>
<rect x="210.4" y="799.4" width="1.9" height="1.9" fill="#4262e2"/>
<rect x="210.8" y="799.7" width="1.9" height="1.9" fill="#4262e2"/>
<rect x="211.3" y="799.0" width="1.9" height="1.9" fill="#4262e2"/>
<rect x="211.8" y="800.4" width="1.9" height="1.9" fill="#4262e2"/>
<rect x="212.2" y="801.6" width="1.9" height="1.9" fill="#4262e2"/>
<rect x="212.7" y="799.4" width="1.9" height="1.9" fill="#4262e2"/>
<rect x="213.1" y="801.4" width="1.9" height="1.9" fill="#4262e2"/>
<rect x="213.6" y="798.1" width="1.9" height="1.9" fill="#4262e2"/>
<rect x="214.0" y="801.2" width="1.9" height="1.9" fill="#4262e2"/>
<rect x="214.5" y="799.8" width="1.9" height="1.9" fill="#4262e2"/>
<rect x="214.9" y="800.3" width="1.9" height="1.9" fill="#4262e2"/>
<rect x="215.4" y="800.0" width="1.9" height="1.9" fill="#4262e2"/>
<rect x="215.8" y="799.8" width="1.9" height="1.9" fill="#4262e2"/>
<rect x="216.3" y="799.4" width="1.9" height="1.9" fill="#4262e2"/>
<rect x="216.7" y="800.2" width="1.9" height="1.9" fill="#4262e2"/>
<rect x="217.2" y="801.8" width="1.9" height="1.9" fill="#4262e2"/>
<rect x="217.6" y="801.7" width="1.9" height="1.9" fill="#4262e2"/>
<rect x="218.1" y="800.5" width="1.9" height="1.9" fill="#4262e2"/>
<rect x="218.6" y="800.5" width="1.9" height="1.9" fill="#4262e2"/>
<rect x="219.0" y="800.4" width="1.9" height="1.9" fill="#4262e2"/>
<rect x="219.5" y="800.1" width="1.9" height="1.9" fill="#4262e2"/>
<rect x="219.9" y="802.8" width="1.9" height="1.9" fill="#4262e2"/>
<rect x="220.4" y="801.9" width="1.9" height="1.9" fill="#4262e2"/>
<rect x="220.8" y="801.5" width="1.9" height="1.9" fill="#4262e2"/>
<rect x="221.3" y="801.1" width="1.9" height="1.9" fill="#4262e2"/>
<rect x="221.7" y="800.7" width="1.9" height="1.9" fill="#4262e2"/>
<rect x="222.2" y="802.8" width="1.9" height="1.9" fill="#4262e2"/>
<rect x="222.6" y="802.4" width="1.9" height="1.9" fill="#4262e2"/>
<rect x="223.1" y="801.0" width="1.9" height="1.9" fill="#4262e2"/>
<rect x="223.5" y="802.8" width="1.9" height="1.9" fill="#4262e2"/>
<rect x="231.8" y="875.1" width="5.2" height="5.2" fill="#c83040"/>
<rect x="241.8" y="849.6" width="5.2" height="5.2" fill="#c83040"/>
<rect x="256.7" y="849.6" width="5.2" height="5.2" fill="#c83040"/>
<rect x="233.0" y="859.5" width="1.9" height="1.9" fill="#3442d4"/>
<rect x="233.5" y="861.0" width="1.9" height="1.9" fill="#3442d4"/>
<rect x="233.9" y="859.6" width="1.9" height="1.9" fill="#3442d4"/>
<rect x="234.4" y="860.1" width="1.9" height="1.9" fill="#3442d4"/>
<rect x="234.8" y="860.9" width="1.9" height="1.9" fill="#3442d4"/>
<rect x="235.3" y="860.8" width="1.9" height="1.9" fill="#3442d4"/>
<rect x="235.7" y="861.3" width="1.9" height="1.9" fill="#3442d4"/>
<rect x="236.2" y="859.7" width="1.9" height="1.9" fill="#3442d4"/>
<rect x="236.6" y="861.8" width="1.9" height="1.9" fill="#3442d4"/>
<rect x="237.1" y="861.6" width="1.9" height="1.9" fill="#3442d4"/>
<rect x="237.5" y="860.4" width="1.9" height="1.9" fill="#3442d4"/>
<rect x="238.0" y="860.9" width="1.9" height="1.9" fill="#3442d4"/>
<rect x="238.5" y="859.8" width="1.9" height="1.9" fill="#3442d4"/>
<rect x="238.9" y="860.3" width="1.9" height="1.9" fill="#3442d4"/>
<rect x="239.4" y="859.3" width="1.9" height="1.9" fill="#3442d4"/>
<rect x="239.8" y="860.5" width="1.9" height="1.9" fill="#3442d4"/>
<rect x="240.3" y="860.6" width="1.9" height="1.9" fill="#3442d4"/>
<rect x="240.7" y="861.6" width="1.9" height="1.9" fill="#3442d4"/>
<rect x="241.2" y="861.3" width="1.9" height="1.9" fill="#3442d4"/>
<rect x="241.6" y="861.2" width="1.9" height="1.9" fill="#3442d4"/>
<rect x="242.1" y="860.1" width="1.9" height="1.9" fill="#3442d4"/>
<rect x="242.5" y="860.3" width="1.9" height="1.9" fill="#3442d4"/>
<rect x="243.0" y="860.2" width="1.9" height="1.9" fill="#3442d4"/>
<rect x="243.5" y="860.6" width="1.9" height="1.9" fill="#3442d4"/>
<rect x="243.9" y="858.8" width="1.9" height="1.9" fill="#3442d4"/>
<rect x="244.4" y="861.1" width="1.9" height="1.9" fill="#3442d4"/>
<rect x="244.8" y="859.1" width="1.9" height="1.9" fill="#3442d4"/>
<rect x="245.3" y="860.0" width="1.9" height="1.9" fill="#3442d4"/>
<rect x="245.7" y="860.5" width="1.9" height="1.9" fill="#3442d4"/>
<rect x="246.2" y="860.0" width="1.9" height="1.9" fill="#3442d4"/>
<rect x="246.6" y="861.9" width="1.9" height="1.9" fill="#3442d4"/>
<rect x="247.1" y="860.4" width="1.9" height="1.9" fill="#3442d4"/>
<rect x="247.5" y="861.8" width="1.9" height="1.9" fill="#3442d4"/>
<rect x="248.0" y="861.5" width="1.9" height="1.9" fill="#3442d4"/>
<rect x="248.5" y="860.0" width="1.9" height="1.9" fill="#3442d4"/>
<rect x="248.9" y="860.8" width="1.9" height="1.9" fill="#3442d4"/>
<rect x="249.4" y="861.6" width="1.9" height="1.9" fill="#3442d4"/>
<rect x="249.8" y="860.2" width="1.9" height="1.9" fill="#3442d4"/>
<rect x="250.3" y="860.5" width="1.9" height="1.9" fill="#3442d4"/>
<rect x="250.7" y="860.0" width="1.9" height="1.9" fill="#3442d4"/>
<rect x="251.2" y="860.5" width="1.9" height="1.9" fill="#3442d4"/>
<rect x="251.6" y="860.1" width="1.9" height="1.9" fill="#3442d4"/>
<rect x="252.1" y="860.5" width="1.9" height="1.9" fill="#3442d4"/>
<rect x="252.5" y="861.3" width="1.9" height="1.9" fill="#3442d4"/>
<rect x="253.0" y="861.7" width="1.9" height="1.9" fill="#3442d4"/>
<rect x="253.5" y="860.6" width="1.9" height="1.9" fill="#3442d4"/>
<rect x="253.9" y="860.6" width="1.9" height="1.9" fill="#3442d4"/>
<rect x="254.4" y="861.2" width="1.9" height="1.9" fill="#3442d4"/>
<rect x="254.8" y="860.2" width="1.9" height="1.9" fill="#3442d4"/>
<rect x="255.3" y="859.5" width="1.9" height="1.9" fill="#3442d4"/>
<rect x="255.7" y="861.4" width="1.9" height="1.9" fill="#3442d4"/>
<rect x="256.2" y="859.6" width="1.9" height="1.9" fill="#3442d4"/>
<rect x="256.6" y="861.3" width="1.9" height="1.9" fill="#3442d4"/>
<rect x="257.1" y="859.6" width="1.9" height="1.9" fill="#3442d4"/>
<rect x="257.5" y="862.0" width="1.9" height="1.9" fill="#3442d4"/>
<rect x="272.8" y="963.3" width="5.2" height="5.2" fill="#e82020"/>
<rect x="279.4" y="949.2" width="5.2" height="5.2" fill="#e82020"/>
<rect x="289.4" y="963.3" width="5.2" height="5.2" fill="#e82020"/>
<rect x="268.0" y="953.9" width="1.9" height="1.9" fill="#6222b4"/>
<rect x="268.5" y="955.6" width="1.9" height="1.9" fill="#6222b4"/>
<rect x="268.9" y="956.1" width="1.9" height="1.9" fill="#6222b4"/>
<rect x="269.4" y="954.0" width="1.9" height="1.9" fill="#6222b4"/>
<rect x="269.8" y="956.1" width="1.9" height="1.9" fill="#6222b4"/>
<rect x="270.3" y="954.1" width="1.9" height="1.9" fill="#6222b4"/>
<rect x="270.7" y="953.3" width="1.9" height="1.9" fill="#6222b4"/>
<rect x="271.2" y="955.5" width="1.9" height="1.9" fill="#6222b4"/>
<rect x="271.6" y="955.5" width="1.9" height="1.9" fill="#6222b4"/>
<rect x="272.1" y="954.7" width="1.9" height="1.9" fill="#6222b4"/>
<rect x="272.5" y="952.7" width="1.9" height="1.9" fill="#6222b4"/>
<rect x="273.0" y="954.8" width="1.9" height="1.9" fill="#6222b4"/>
<rect x="273.5" y="954.6" width="1.9" height="1.9" fill="#6222b4"/>
<rect x="273.9" y="954.5" width="1.9" height="1.9" fill="#6222b4"/>
<rect x="274.4" y="954.6" width="1.9" height="1.9" fill="#6222b4"/>
<rect x="274.8" y="953.3" width="1.9" height="1.9" fill="#6222b4"/>
<rect x="275.3" y="954.4" width="1.9" height="1.9" fill="#6222b4"/>
<rect x="275.7" y="956.4" width="1.9" height="1.9" fill="#6222b4"/>
<rect x="276.2" y="956.2" width="1.9" height="1.9" fill="#6222b4"/>
<rect x="276.6" y="954.5" width="1.9" height="1.9" fill="#6222b4"/>
<rect x="277.1" y="954.2" width="1.9" height="1.9" fill="#6222b4"/>
<rect x="277.5" y="955.2" width="1.9" height="1.9" fill="#6222b4"/>
<rect x="278.0" y="955.8" width="1.9" height="1.9" fill="#6222b4"/>
<rect x="278.5" y="955.5" width="1.9" height="1.9" fill="#6222b4"/>
<rect x="278.9" y="953.8" width="1.9" height="1.9" fill="#6222b4"/>
<rect x="279.4" y="955.0" width="1.9" height="1.9" fill="#6222b4"/>
<rect x="279.8" y="955.0" width="1.9" height="1.9" fill="#6222b4"/>
<rect x="280.3" y="956.1" width="1.9" height="1.9" fill="#6222b4"/>
<rect x="280.7" y="955.9" width="1.9" height="1.9" fill="#6222b4"/>
<rect x="281.2" y="955.3" width="1.9" height="1.9" fill="#6222b4"/>
<rect x="281.6" y="955.9" width="1.9" height="1.9" fill="#6222b4"/>
<rect x="282.1" y="954.5" width="1.9" height="1.9" fill="#6222b4"/>
<rect x="282.5" y="956.2" width="1.9" height="1.9" fill="#6222b4"/>
<rect x="283.0" y="954.5" width="1.9" height="1.9" fill="#6222b4"/>
<rect x="283.5" y="955.2" width="1.9" height="1.9" fill="#6222b4"/>
<rect x="283.9" y="955.6" width="1.9" height="1.9" fill="#6222b4"/>
<rect x="284.4" y="954.1" width="1.9" height="1.9" fill="#6222b4"/>
<rect x="284.8" y="954.2" width="1.9" height="1.9" fill="#6222b4"/>
<rect x="285.3" y="953.3" width="1.9" height="1.9" fill="#6222b4"/>
<rect x="285.7" y="955.0" width="1.9" height="1.9" fill="#6222b4"/>
<rect x="286.2" y="954.8" width="1.9" height="1.9" fill="#6222b4"/>
<rect x="286.6" y="954.6" width="1.9" height="1.9" fill="#6222b4"/>
<rect x="287.1" y="955.3" width="1.9" height="1.9" fill="#6222b4"/>
<rect x="287.5" y="953.0" width="1.9" height="1.9" fill="#6222b4"/>
<rect x="288.0" y="954.8" width="1.9" height="1.9" fill="#6222b4"/>
<rect x="288.5" y="954.9" width="1.9" height="1.9" fill="#6222b4"/>
<rect x="288.9" y="954.6" width="1.9" height="1.9" fill="#6222b4"/>
<rect x="289.4" y="955.5" width="1.9" height="1.9" fill="#6222b4"/>
<rect x="289.8" y="956.4" width="1.9" height="1.9" fill="#6222b4"/>
<rect x="290.3" y="954.5" width="1.9" height="1.9" fill="#6222b4"/>
<rect x="290.7" y="954.0" width="1.9" height="1.9" fill="#6222b4"/>
<rect x="291.2" y="954.3" width="1.9" height="1.9" fill="#6222b4"/>
<rect x="291.6" y="954.9" width="1.9" height="1.9" fill="#6222b4"/>
<rect x="292.1" y="955.4" width="1.9" height="1.9" fill="#6222b4"/>
<rect x="292.5" y="954.1" width="1.9" height="1.9" fill="#6222b4"/>
<rect x="304.6" y="934.1" width="5.2" height="5.2" fill="#f06018"/>
<rect x="313.6" y="949.2" width="5.2" height="5.2" fill="#f06018"/>
<rect x="323.7" y="949.2" width="5.2" height="5.2" fill="#f06018"/>
<rect x="305.0" y="945.1" width="1.9" height="1.9" fill="#6050a4"/>
<rect x="305.5" y="943.4" width="1.9" height="1.9" fill="#6050a4"/>
<rect x="305.9" y="945.0" width="1.9" height="1.9" fill="#6050a4"/>
<rect x="306.4" y="944.6" width="1.9" height="1.9" fill="#6050a4"/>
<rect x="306.8" y="944.7" width="1.9" height="1.9" fill="#6050a4"/>
<rect x="307.3" y="946.1" width="1.9" height="1.9" fill="#6050a4"/>
<rect x="307.7" y="944.0" width="1.9" height="1.9" fill="#6050a4"/>
<rect x="308.2" y="944.1" width="1.9" height="1.9" fill="#6050a4"/>
<rect x="308.6" y="944.7" width="1.9" height="1.9" fill="#6050a4"/>
<rect x="309.1" y="945.0" width="1.9" height="1.9" fill="#6050a4"/>
<rect x="309.5" y="943.1" width="1.9" height="1.9" fill="#6050a4"/>
<rect x="310.0" y="944.5" width="1.9" height="1.9" fill="#6050a4"/>
<rect x="310.5" y="943.6" width="1.9" height="1.9" fill="#6050a4"/>
<rect x="310.9" y="944.8" width="1.9" height="1.9" fill="#6050a4"/>
<rect x="311.4" y="945.4" width="1.9" height="1.9" fill="#6050a4"/>
<rect x="311.8" y="944.3" width="1.9" height="1.9" fill="#6050a4"/>
<rect x="312.3" y="944.2" width="1.9" height="1.9" fill="#6050a4"/>
<rect x="312.7" y="944.4" width="1.9" height="1.9" fill="#6050a4"/>
<rect x="313.2" y="941.7" width="1.9" height="1.9" fill="#6050a4"/>
<rect x="313.6" y="944.9" width="1.9" height="1.9" fill="#6050a4"/>
<rect x="314.1" y="944.7" width="1.9" height="1.9" fill="#6050a4"/>
<rect x="314.5" y="944.4" width="1.9" height="1.9" fill="#6050a4"/>
<rect x="315.0" y="943.9" width="1.9" height="1.9" fill="#6050a4"/>
<rect x="315.5" y="943.6" width="1.9" height="1.9" fill="#6050a4"/>
<rect x="315.9" y="944.1" width="1.9" height="1.9" fill="#6050a4"/>
<rect x="316.4" y="945.3" width="1.9" height="1.9" fill="#6050a4"/>
<rect x="316.8" y="944.2" width="1.9" height="1.9" fill="#6050a4"/>
<rect x="317.3" y="945.4" width="1.9" height="1.9" fill="#6050a4"/>
<rect x="317.7" y="942.0" width="1.9" height="1.9" fill="#6050a4"/>
<rect x="318.2" y="943.9" width="1.9" height="1.9" fill="#6050a4"/>
<rect x="318.6" y="944.5" width="1.9" height="1.9" fill="#6050a4"/>
<rect x="319.1" y="944.2" width="1.9" height="1.9" fill="#6050a4"/>
<rect x="319.5" y="942.8" width="1.9" height="1.9" fill="#6050a4"/>
<rect x="320.0" y="943.7" width="1.9" height="1.9" fill="#6050a4"/>
<rect x="320.5" y="945.3" width="1.9" height="1.9" fill="#6050a4"/>
<rect x="320.9" y="943.1" width="1.9" height="1.9" fill="#6050a4"/>
<rect x="321.4" y="943.4" width="1.9" height="1.9" fill="#6050a4"/>
<rect x="321.8" y="943.3" width="1.9" height="1.9" fill="#6050a4"/>
<rect x="322.3" y="943.8" width="1.9" height="1.9" fill="#6050a4"/>
<rect x="322.7" y="944.8" width="1.9" height="1.9" fill="#6050a4"/>
<rect x="323.2" y="944.8" width="1.9" height="1.9" fill="#6050a4"/>
<rect x="323.6" y="942.5" width="1.9" height="1.9" fill="#6050a4"/>
<rect x="324.1" y="945.5" width="1.9" height="1.9" fill="#6050a4"/>
<rect x="324.5" y="943.7" width="1.9" height="1.9" fill="#6050a4"/>
<rect x="325.0" y="943.7" width="1.9" height="1.9" fill="#6050a4"/>
<rect x="325.5" y="945.7" width="1.9" height="1.9" fill="#6050a4"/>
<rect x="325.9" y="944.2" width="1.9" height="1.9" fill="#6050a4"/>
<rect x="326.4" y="943.2" width="1.9" height="1.9" fill="#6050a4"/>
<rect x="326.8" y="943.7" width="1.9" height="1.9" fill="#6050a4"/>
<rect x="327.3" y="943.6" width="1.9" height="1.9" fill="#6050a4"/>
<rect x="327.7" y="943.4" width="1.9" height="1.9" fill="#6050a4"/>
<rect x="328.2" y="944.0" width="1.9" height="1.9" fill="#6050a4"/>
<rect x="328.6" y="945.0" width="1.9" height="1.9" fill="#6050a4"/>
<rect x="329.1" y="944.6" width="1.9" height="1.9" fill="#6050a4"/>
<rect x="329.5" y="943.1" width="1.9" height="1.9" fill="#6050a4"/>
<rect x="341.4" y="921.3" width="5.2" height="5.2" fill="#c03050"/>
<rect x="352.2" y="906.1" width="5.2" height="5.2" fill="#c03050"/>
<rect x="361.9" y="921.3" width="5.2" height="5.2" fill="#c03050"/>
<rect x="339.0" y="917.5" width="1.9" height="1.9" fill="#3848d8"/>
<rect x="339.5" y="914.2" width="1.9" height="1.9" fill="#3848d8"/>
<rect x="339.9" y="915.2" width="1.9" height="1.9" fill="#3848d8"/>
<rect x="340.4" y="915.1" width="1.9" height="1.9" fill="#3848d8"/>
<rect x="340.8" y="915.7" width="1.9" height="1.9" fill="#3848d8"/>
<rect x="341.3" y="914.8" width="1.9" height="1.9" fill="#3848d8"/>
<rect x="341.7" y="915.4" width="1.9" height="1.9" fill="#3848d8"/>
<rect x="342.2" y="916.9" width="1.9" height="1.9" fill="#3848d8"/>
<rect x="342.6" y="915.1" width="1.9" height="1.9" fill="#3848d8"/>
<rect x="343.1" y="914.1" width="1.9" height="1.9" fill="#3848d8"/>
<rect x="343.5" y="915.3" width="1.9" height="1.9" fill="#3848d8"/>
<rect x="344.0" y="914.4" width="1.9" height="1.9" fill="#3848d8"/>
<rect x="344.4" y="914.7" width="1.9" height="1.9" fill="#3848d8"/>
<rect x="344.9" y="915.2" width="1.9" height="1.9" fill="#3848d8"/>
<rect x="345.3" y="915.3" width="1.9" height="1.9" fill="#3848d8"/>
<rect x="345.8" y="914.8" width="1.9" height="1.9" fill="#3848d8"/>
<rect x="346.2" y="915.8" width="1.9" height="1.9" fill="#3848d8"/>
<rect x="346.7" y="914.9" width="1.9" height="1.9" fill="#3848d8"/>
<rect x="347.1" y="913.9" width="1.9" height="1.9" fill="#3848d8"/>
<rect x="347.6" y="915.8" width="1.9" height="1.9" fill="#3848d8"/>
<rect x="348.0" y="914.7" width="1.9" height="1.9" fill="#3848d8"/>
<rect x="348.5" y="916.1" width="1.9" height="1.9" fill="#3848d8"/>
<rect x="348.9" y="914.5" width="1.9" height="1.9" fill="#3848d8"/>
<rect x="349.4" y="915.5" width="1.9" height="1.9" fill="#3848d8"/>
<rect x="349.8" y="915.3" width="1.9" height="1.9" fill="#3848d8"/>
<rect x="350.3" y="912.7" width="1.9" height="1.9" fill="#3848d8"/>
<rect x="350.7" y="913.8" width="1.9" height="1.9" fill="#3848d8"/>
<rect x="351.2" y="914.1" width="1.9" height="1.9" fill="#3848d8"/>
<rect x="351.6" y="916.3" width="1.9" height="1.9" fill="#3848d8"/>
<rect x="352.1" y="913.4" width="1.9" height="1.9" fill="#3848d8"/>
<rect x="352.5" y="915.8" width="1.9" height="1.9" fill="#3848d8"/>
<rect x="353.0" y="916.0" width="1.9" height="1.9" fill="#3848d8"/>
<rect x="353.5" y="915.5" width="1.9" height="1.9" fill="#3848d8"/>
<rect x="353.9" y="915.6" width="1.9" height="1.9" fill="#3848d8"/>
<rect x="354.4" y="914.6" width="1.9" height="1.9" fill="#3848d8"/>
<rect x="354.8" y="915.0" width="1.9" height="1.9" fill="#3848d8"/>
<rect x="355.3" y="915.2" width="1.9" height="1.9" fill="#3848d8"/>
<rect x="355.7" y="915.4" width="1.9" height="1.9" fill="#3848d8"/>
<rect x="356.2" y="915.7" width="1.9" height="1.9" fill="#3848d8"/>
<rect x="356.6" y="914.9" width="1.9" height="1.9" fill="#3848d8"/>
<rect x="357.1" y="914.4" width="1.9" height="1.9" fill="#3848d8"/>
<rect x="357.5" y="914.6" width="1.9" height="1.9" fill="#3848d8"/>
<rect x="358.0" y="915.4" width="1.9" height="1.9" fill="#3848d8"/>
<rect x="358.4" y="913.6" width="1.9" height="1.9" fill="#3848d8"/>
<rect x="358.9" y="914.0" width="1.9" height="1.9" fill="#3848d8"/>
<rect x="359.3" y="914.7" width="1.9" height="1.9" fill="#3848d8"/>
<rect x="359.8" y="914.6" width="1.9" height="1.9" fill="#3848d8"/>
<rect x="360.2" y="914.8" width="1.9" height="1.9" fill="#3848d8"/>
<rect x="360.7" y="912.7" width="1.9" height="1.9" fill="#3848d8"/>
<rect x="361.1" y="914.8" width="1.9" height="1.9" fill="#3848d8"/>
<rect x="361.6" y="914.8" width="1.9" height="1.9" fill="#3848d8"/>
<rect x="362.0" y="915.7" width="1.9" height="1.9" fill="#3848d8"/>
<rect x="362.5" y="913.3" width="1.9" height="1.9" fill="#3848d8"/>
<rect x="362.9" y="914.8" width="1.9" height="1.9" fill="#3848d8"/>
<rect x="363.4" y="915.5" width="1.9" height="1.9" fill="#3848d8"/>
<rect x="363.8" y="915.5" width="1.9" height="1.9" fill="#3848d8"/>
<rect x="364.3" y="916.1" width="1.9" height="1.9" fill="#3848d8"/>
<rect x="364.7" y="916.0" width="1.9" height="1.9" fill="#3848d8"/>
<rect x="365.2" y="914.1" width="1.9" height="1.9" fill="#3848d8"/>
<rect x="365.6" y="915.6" width="1.9" height="1.9" fill="#3848d8"/>
<rect x="366.1" y="914.8" width="1.9" height="1.9" fill="#3848d8"/>
<rect x="366.5" y="914.4" width="1.9" height="1.9" fill="#3848d8"/>
<rect x="376.4" y="933.8" width="5.2" height="5.2" fill="#e82020"/>
<rect x="385.8" y="950.5" width="5.2" height="5.2" fill="#e82020"/>
<rect x="396.0" y="950.5" width="5.2" height="5.2" fill="#e82020"/>
<rect x="374.0" y="941.2" width="1.9" height="1.9" fill="#4a36c4"/>
<rect x="374.5" y="939.3" width="1.9" height="1.9" fill="#4a36c4"/>
<rect x="374.9" y="939.1" width="1.9" height="1.9" fill="#4a36c4"/>
<rect x="375.4" y="939.5" width="1.9" height="1.9" fill="#4a36c4"/>
<rect x="375.8" y="939.1" width="1.9" height="1.9" fill="#4a36c4"/>
<rect x="376.3" y="940.7" width="1.9" height="1.9" fill="#4a36c4"/>
<rect x="376.7" y="940.2" width="1.9" height="1.9" fill="#4a36c4"/>
<rect x="377.2" y="941.1" width="1.9" height="1.9" fill="#4a36c4"/>
<rect x="377.6" y="940.2" width="1.9" height="1.9" fill="#4a36c4"/>
<rect x="378.1" y="939.3" width="1.9" height="1.9" fill="#4a36c4"/>
<rect x="378.6" y="940.8" width="1.9" height="1.9" fill="#4a36c4"/>
<rect x="379.0" y="939.3" width="1.9" height="1.9" fill="#4a36c4"/>
<rect x="379.5" y="939.4" width="1.9" height="1.9" fill="#4a36c4"/>
<rect x="379.9" y="939.7" width="1.9" height="1.9" fill="#4a36c4"/>
<rect x="380.4" y="939.9" width="1.9" height="1.9" fill="#4a36c4"/>
<rect x="380.8" y="940.9" width="1.9" height="1.9" fill="#4a36c4"/>
<rect x="381.3" y="939.3" width="1.9" height="1.9" fill="#4a36c4"/>
<rect x="381.8" y="940.2" width="1.9" height="1.9" fill="#4a36c4"/>
<rect x="382.2" y="939.8" width="1.9" height="1.9" fill="#4a36c4"/>
<rect x="382.7" y="938.8" width="1.9" height="1.9" fill="#4a36c4"/>
<rect x="383.1" y="938.9" width="1.9" height="1.9" fill="#4a36c4"/>
<rect x="383.6" y="939.7" width="1.9" height="1.9" fill="#4a36c4"/>
<rect x="384.0" y="940.2" width="1.9" height="1.9" fill="#4a36c4"/>
<rect x="384.5" y="940.1" width="1.9" height="1.9" fill="#4a36c4"/>
<rect x="384.9" y="940.3" width="1.9" height="1.9" fill="#4a36c4"/>
<rect x="385.4" y="939.9" width="1.9" height="1.9" fill="#4a36c4"/>
<rect x="385.9" y="939.5" width="1.9" height="1.9" fill="#4a36c4"/>
<rect x="386.3" y="940.2" width="1.9" height="1.9" fill="#4a36c4"/>
<rect x="386.8" y="939.0" width="1.9" height="1.9" fill="#4a36c4"/>
<rect x="387.2" y="938.7" width="1.9" height="1.9" fill="#4a36c4"/>
<rect x="387.7" y="939.6" width="1.9" height="1.9" fill="#4a36c4"/>
<rect x="388.1" y="938.6" width="1.9" height="1.9" fill="#4a36c4"/>
<rect x="388.6" y="939.4" width="1.9" height="1.9" fill="#4a36c4"/>
<rect x="389.1" y="939.2" width="1.9" height="1.9" fill="#4a36c4"/>
<rect x="389.5" y="939.4" width="1.9" height="1.9" fill="#4a36c4"/>
<rect x="390.0" y="939.8" width="1.9" height="1.9" fill="#4a36c4"/>
<rect x="390.4" y="939.2" width="1.9" height="1.9" fill="#4a36c4"/>
<rect x="390.9" y="939.5" width="1.9" height="1.9" fill="#4a36c4"/>
<rect x="391.3" y="938.4" width="1.9" height="1.9" fill="#4a36c4"/>
<rect x="391.8" y="940.0" width="1.9" height="1.9" fill="#4a36c4"/>
<rect x="392.2" y="939.1" width="1.9" height="1.9" fill="#4a36c4"/>
<rect x="392.7" y="940.2" width="1.9" height="1.9" fill="#4a36c4"/>
<rect x="393.2" y="937.4" width="1.9" height="1.9" fill="#4a36c4"/>
<rect x="393.6" y="939.2" width="1.9" height="1.9" fill="#4a36c4"/>
<rect x="394.1" y="940.1" width="1.9" height="1.9" fill="#4a36c4"/>
<rect x="394.5" y="937.7" width="1.9" height="1.9" fill="#4a36c4"/>
<rect x="395.0" y="939.5" width="1.9" height="1.9" fill="#4a36c4"/>
<rect x="395.4" y="939.9" width="1.9" height="1.9" fill="#4a36c4"/>
<rect x="395.9" y="939.9" width="1.9" height="1.9" fill="#4a36c4"/>
<rect x="396.4" y="938.6" width="1.9" height="1.9" fill="#4a36c4"/>
<rect x="396.8" y="940.0" width="1.9" height="1.9" fill="#4a36c4"/>
<rect x="397.3" y="940.0" width="1.9" height="1.9" fill="#4a36c4"/>
<rect x="397.7" y="939.0" width="1.9" height="1.9" fill="#4a36c4"/>
<rect x="398.2" y="940.5" width="1.9" height="1.9" fill="#4a36c4"/>
<rect x="398.6" y="939.8" width="1.9" height="1.9" fill="#4a36c4"/>
<rect x="399.1" y="939.9" width="1.9" height="1.9" fill="#4a36c4"/>
<rect x="399.5" y="939.5" width="1.9" height="1.9" fill="#4a36c4"/>
<rect x="410.4" y="976.4" width="5.2" height="5.2" fill="#8c4050"/>
<rect x="419.4" y="991.5" width="5.2" height="5.2" fill="#8c4050"/>
<rect x="427.0" y="976.4" width="5.2" height="5.2" fill="#8c4050"/>
<rect x="410.0" y="981.0" width="1.9" height="1.9" fill="#3a60e0"/>
<rect x="410.5" y="980.6" width="1.9" height="1.9" fill="#3a60e0"/>
<rect x="410.9" y="981.5" width="1.9" height="1.9" fill="#3a60e0"/>
<rect x="411.4" y="980.9" width="1.9" height="1.9" fill="#3a60e0"/>
<rect x="411.8" y="980.0" width="1.9" height="1.9" fill="#3a60e0"/>
<rect x="412.3" y="980.4" width="1.9" height="1.9" fill="#3a60e0"/>
<rect x="412.7" y="981.3" width="1.9" height="1.9" fill="#3a60e0"/>
<rect x="413.2" y="980.2" width="1.9" height="1.9" fill="#3a60e0"/>
<rect x="413.6" y="980.9" width="1.9" height="1.9" fill="#3a60e0"/>
<rect x="414.1" y="981.0" width="1.9" height="1.9" fill="#3a60e0"/>
<rect x="414.5" y="980.4" width="1.9" height="1.9" fill="#3a60e0"/>
<rect x="415.0" y="978.5" width="1.9" height="1.9" fill="#3a60e0"/>
<rect x="415.5" y="980.7" width="1.9" height="1.9" fill="#3a60e0"/>
<rect x="415.9" y="980.7" width="1.9" height="1.9" fill="#3a60e0"/>
<rect x="416.4" y="980.7" width="1.9" height="1.9" fill="#3a60e0"/>
<rect x="416.8" y="979.9" width="1.9" height="1.9" fill="#3a60e0"/>
<rect x="417.3" y="981.6" width="1.9" height="1.9" fill="#3a60e0"/>
<rect x="417.7" y="980.4" width="1.9" height="1.9" fill="#3a60e0"/>
<rect x="418.2" y="980.0" width="1.9" height="1.9" fill="#3a60e0"/>
<rect x="418.6" y="979.9" width="1.9" height="1.9" fill="#3a60e0"/>
<rect x="419.1" y="980.9" width="1.9" height="1.9" fill="#3a60e0"/>
<rect x="419.5" y="979.6" width="1.9" height="1.9" fill="#3a60e0"/>
<rect x="420.0" y="979.7" width="1.9" height="1.9" fill="#3a60e0"/>
<rect x="420.5" y="982.3" width="1.9" height="1.9" fill="#3a60e0"/>
<rect x="420.9" y="981.7" width="1.9" height="1.9" fill="#3a60e0"/>
<rect x="421.4" y="981.5" width="1.9" height="1.9" fill="#3a60e0"/>
<rect x="421.8" y="981.7" width="1.9" height="1.9" fill="#3a60e0"/>
<rect x="422.3" y="981.1" width="1.9" height="1.9" fill="#3a60e0"/>
<rect x="422.7" y="979.1" width="1.9" height="1.9" fill="#3a60e0"/>
<rect x="423.2" y="981.6" width="1.9" height="1.9" fill="#3a60e0"/>
<rect x="423.6" y="981.6" width="1.9" height="1.9" fill="#3a60e0"/>
<rect x="424.1" y="981.0" width="1.9" height="1.9" fill="#3a60e0"/>
<rect x="424.5" y="978.8" width="1.9" height="1.9" fill="#3a60e0"/>
<rect x="425.0" y="981.6" width="1.9" height="1.9" fill="#3a60e0"/>
<rect x="425.5" y="981.7" width="1.9" height="1.9" fill="#3a60e0"/>
<rect x="425.9" y="980.1" width="1.9" height="1.9" fill="#3a60e0"/>
<rect x="426.4" y="980.7" width="1.9" height="1.9" fill="#3a60e0"/>
<rect x="426.8" y="981.2" width="1.9" height="1.9" fill="#3a60e0"/>
<rect x="427.3" y="980.5" width="1.9" height="1.9" fill="#3a60e0"/>
<rect x="427.7" y="981.5" width="1.9" height="1.9" fill="#3a60e0"/>
<rect x="428.2" y="980.6" width="1.9" height="1.9" fill="#3a60e0"/>
<rect x="428.6" y="981.2" width="1.9" height="1.9" fill="#3a60e0"/>
<rect x="429.1" y="980.6" width="1.9" height="1.9" fill="#3a60e0"/>
<rect x="429.5" y="979.3" width="1.9" height="1.9" fill="#3a60e0"/>
<rect x="430.0" y="979.7" width="1.9" height="1.9" fill="#3a60e0"/>
<rect x="430.5" y="983.3" width="1.9" height="1.9" fill="#3a60e0"/>
<rect x="430.9" y="980.8" width="1.9" height="1.9" fill="#3a60e0"/>
<rect x="431.4" y="981.7" width="1.9" height="1.9" fill="#3a60e0"/>
<rect x="431.8" y="981.5" width="1.9" height="1.9" fill="#3a60e0"/>
<rect x="432.3" y="982.0" width="1.9" height="1.9" fill="#3a60e0"/>
<rect x="432.7" y="981.0" width="1.9" height="1.9" fill="#3a60e0"/>
<rect x="433.2" y="980.0" width="1.9" height="1.9" fill="#3a60e0"/>
<rect x="433.6" y="980.6" width="1.9" height="1.9" fill="#3a60e0"/>
<rect x="434.1" y="978.9" width="1.9" height="1.9" fill="#3a60e0"/>
<rect x="434.5" y="980.4" width="1.9" height="1.9" fill="#3a60e0"/>
<rect x="449.4" y="933.2" width="5.2" height="5.2" fill="#e82020"/>
<rect x="461.7" y="962.4" width="5.2" height="5.2" fill="#e82020"/>
<rect x="467.5" y="933.2" width="5.2" height="5.2" fill="#e82020"/>
<rect x="449.0" y="950.2" width="1.9" height="1.9" fill="#6a1ab0"/>
<rect x="449.4" y="947.6" width="1.9" height="1.9" fill="#6a1ab0"/>
<rect x="449.9" y="949.6" width="1.9" height="1.9" fill="#6a1ab0"/>
<rect x="450.4" y="950.2" width="1.9" height="1.9" fill="#6a1ab0"/>
<rect x="450.8" y="950.6" width="1.9" height="1.9" fill="#6a1ab0"/>
<rect x="451.2" y="948.6" width="1.9" height="1.9" fill="#6a1ab0"/>
<rect x="451.7" y="948.9" width="1.9" height="1.9" fill="#6a1ab0"/>
<rect x="452.1" y="947.8" width="1.9" height="1.9" fill="#6a1ab0"/>
<rect x="452.6" y="948.6" width="1.9" height="1.9" fill="#6a1ab0"/>
<rect x="453.1" y="949.9" width="1.9" height="1.9" fill="#6a1ab0"/>
<rect x="453.5" y="951.3" width="1.9" height="1.9" fill="#6a1ab0"/>
<rect x="453.9" y="948.4" width="1.9" height="1.9" fill="#6a1ab0"/>
<rect x="454.4" y="950.7" width="1.9" height="1.9" fill="#6a1ab0"/>
<rect x="454.9" y="949.8" width="1.9" height="1.9" fill="#6a1ab0"/>
<rect x="455.3" y="949.0" width="1.9" height="1.9" fill="#6a1ab0"/>
<rect x="455.8" y="951.4" width="1.9" height="1.9" fill="#6a1ab0"/>
<rect x="456.2" y="947.2" width="1.9" height="1.9" fill="#6a1ab0"/>
<rect x="456.6" y="949.4" width="1.9" height="1.9" fill="#6a1ab0"/>
<rect x="457.1" y="949.6" width="1.9" height="1.9" fill="#6a1ab0"/>
<rect x="457.6" y="951.3" width="1.9" height="1.9" fill="#6a1ab0"/>
<rect x="458.0" y="951.0" width="1.9" height="1.9" fill="#6a1ab0"/>
<rect x="458.4" y="951.4" width="1.9" height="1.9" fill="#6a1ab0"/>
<rect x="458.9" y="949.6" width="1.9" height="1.9" fill="#6a1ab0"/>
<rect x="459.4" y="950.3" width="1.9" height="1.9" fill="#6a1ab0"/>
<rect x="459.8" y="950.6" width="1.9" height="1.9" fill="#6a1ab0"/>
<rect x="460.2" y="949.9" width="1.9" height="1.9" fill="#6a1ab0"/>
<rect x="460.7" y="949.8" width="1.9" height="1.9" fill="#6a1ab0"/>
<rect x="461.1" y="949.3" width="1.9" height="1.9" fill="#6a1ab0"/>
<rect x="461.6" y="949.1" width="1.9" height="1.9" fill="#6a1ab0"/>
<rect x="462.1" y="948.4" width="1.9" height="1.9" fill="#6a1ab0"/>
<rect x="462.5" y="951.2" width="1.9" height="1.9" fill="#6a1ab0"/>
<rect x="462.9" y="949.1" width="1.9" height="1.9" fill="#6a1ab0"/>
<rect x="463.4" y="947.6" width="1.9" height="1.9" fill="#6a1ab0"/>
<rect x="463.9" y="949.7" width="1.9" height="1.9" fill="#6a1ab0"/>
<rect x="464.3" y="949.4" width="1.9" height="1.9" fill="#6a1ab0"/>
<rect x="464.8" y="949.6" width="1.9" height="1.9" fill="#6a1ab0"/>
<rect x="465.2" y="951.0" width="1.9" height="1.9" fill="#6a1ab0"/>
<rect x="465.6" y="949.4" width="1.9" height="1.9" fill="#6a1ab0"/>
<rect x="466.1" y="949.2" width="1.9" height="1.9" fill="#6a1ab0"/>
<rect x="466.6" y="948.8" width="1.9" height="1.9" fill="#6a1ab0"/>
<rect x="467.0" y="949.4" width="1.9" height="1.9" fill="#6a1ab0"/>
<rect x="467.4" y="949.1" width="1.9" height="1.9" fill="#6a1ab0"/>
<rect x="467.9" y="949.6" width="1.9" height="1.9" fill="#6a1ab0"/>
<rect x="468.4" y="952.2" width="1.9" height="1.9" fill="#6a1ab0"/>
<rect x="468.8" y="949.8" width="1.9" height="1.9" fill="#6a1ab0"/>
<rect x="469.2" y="948.7" width="1.9" height="1.9" fill="#6a1ab0"/>
<rect x="469.7" y="951.1" width="1.9" height="1.9" fill="#6a1ab0"/>
<rect x="470.1" y="950.2" width="1.9" height="1.9" fill="#6a1ab0"/>
<rect x="470.6" y="950.2" width="1.9" height="1.9" fill="#6a1ab0"/>
<rect x="471.1" y="950.1" width="1.9" height="1.9" fill="#6a1ab0"/>
<rect x="471.5" y="950.2" width="1.9" height="1.9" fill="#6a1ab0"/>
<rect x="471.9" y="950.0" width="1.9" height="1.9" fill="#6a1ab0"/>
<rect x="472.4" y="950.7" width="1.9" height="1.9" fill="#6a1ab0"/>
<rect x="472.9" y="950.3" width="1.9" height="1.9" fill="#6a1ab0"/>
<rect x="473.3" y="950.6" width="1.9" height="1.9" fill="#6a1ab0"/>
<rect x="473.8" y="949.0" width="1.9" height="1.9" fill="#6a1ab0"/>
<rect x="474.2" y="949.4" width="1.9" height="1.9" fill="#6a1ab0"/>
<rect x="474.6" y="948.8" width="1.9" height="1.9" fill="#6a1ab0"/>
<rect x="475.1" y="950.3" width="1.9" height="1.9" fill="#6a1ab0"/>
<rect x="475.6" y="950.2" width="1.9" height="1.9" fill="#6a1ab0"/>
<rect x="490.3" y="920.7" width="5.2" height="5.2" fill="#b05040"/>
<rect x="498.2" y="904.6" width="5.2" height="5.2" fill="#b05040"/>
<rect x="508.4" y="904.6" width="5.2" height="5.2" fill="#b05040"/>
<rect x="488.0" y="916.0" width="1.9" height="1.9" fill="#4050d4"/>
<rect x="488.5" y="917.0" width="1.9" height="1.9" fill="#4050d4"/>
<rect x="488.9" y="918.7" width="1.9" height="1.9" fill="#4050d4"/>
<rect x="489.4" y="917.5" width="1.9" height="1.9" fill="#4050d4"/>
<rect x="489.8" y="915.5" width="1.9" height="1.9" fill="#4050d4"/>
<rect x="490.3" y="916.4" width="1.9" height="1.9" fill="#4050d4"/>
<rect x="490.7" y="917.0" width="1.9" height="1.9" fill="#4050d4"/>
<rect x="491.2" y="916.4" width="1.9" height="1.9" fill="#4050d4"/>
<rect x="491.6" y="916.8" width="1.9" height="1.9" fill="#4050d4"/>
<rect x="492.1" y="917.5" width="1.9" height="1.9" fill="#4050d4"/>
<rect x="492.5" y="916.7" width="1.9" height="1.9" fill="#4050d4"/>
<rect x="493.0" y="915.5" width="1.9" height="1.9" fill="#4050d4"/>
<rect x="493.5" y="917.1" width="1.9" height="1.9" fill="#4050d4"/>
<rect x="493.9" y="916.4" width="1.9" height="1.9" fill="#4050d4"/>
<rect x="494.4" y="916.5" width="1.9" height="1.9" fill="#4050d4"/>
<rect x="494.8" y="916.0" width="1.9" height="1.9" fill="#4050d4"/>
<rect x="495.3" y="915.2" width="1.9" height="1.9" fill="#4050d4"/>
<rect x="495.7" y="915.4" width="1.9" height="1.9" fill="#4050d4"/>
<rect x="496.2" y="916.1" width="1.9" height="1.9" fill="#4050d4"/>
<rect x="496.6" y="915.5" width="1.9" height="1.9" fill="#4050d4"/>
<rect x="497.1" y="914.1" width="1.9" height="1.9" fill="#4050d4"/>
<rect x="497.5" y="917.5" width="1.9" height="1.9" fill="#4050d4"/>
<rect x="498.0" y="915.4" width="1.9" height="1.9" fill="#4050d4"/>
<rect x="498.5" y="915.8" width="1.9" height="1.9" fill="#4050d4"/>
<rect x="498.9" y="916.9" width="1.9" height="1.9" fill="#4050d4"/>
<rect x="499.4" y="914.3" width="1.9" height="1.9" fill="#4050d4"/>
<rect x="499.8" y="917.6" width="1.9" height="1.9" fill="#4050d4"/>
<rect x="500.3" y="915.8" width="1.9" height="1.9" fill="#4050d4"/>
<rect x="500.7" y="917.0" width="1.9" height="1.9" fill="#4050d4"/>
<rect x="501.2" y="916.0" width="1.9" height="1.9" fill="#4050d4"/>
<rect x="501.6" y="916.7" width="1.9" height="1.9" fill="#4050d4"/>
<rect x="502.1" y="916.5" width="1.9" height="1.9" fill="#4050d4"/>
<rect x="502.5" y="916.4" width="1.9" height="1.9" fill="#4050d4"/>
<rect x="503.0" y="914.8" width="1.9" height="1.9" fill="#4050d4"/>
<rect x="503.5" y="915.2" width="1.9" height="1.9" fill="#4050d4"/>
<rect x="503.9" y="916.4" width="1.9" height="1.9" fill="#4050d4"/>
<rect x="504.4" y="917.7" width="1.9" height="1.9" fill="#4050d4"/>
<rect x="504.8" y="916.0" width="1.9" height="1.9" fill="#4050d4"/>
<rect x="505.3" y="916.9" width="1.9" height="1.9" fill="#4050d4"/>
<rect x="505.7" y="916.6" width="1.9" height="1.9" fill="#4050d4"/>
<rect x="506.2" y="916.9" width="1.9" height="1.9" fill="#4050d4"/>
<rect x="506.6" y="917.3" width="1.9" height="1.9" fill="#4050d4"/>
<rect x="507.1" y="915.1" width="1.9" height="1.9" fill="#4050d4"/>
<rect x="507.5" y="916.7" width="1.9" height="1.9" fill="#4050d4"/>
<rect x="508.0" y="916.3" width="1.9" height="1.9" fill="#4050d4"/>
<rect x="508.5" y="916.2" width="1.9" height="1.9" fill="#4050d4"/>
<rect x="508.9" y="915.7" width="1.9" height="1.9" fill="#4050d4"/>
<rect x="509.4" y="915.8" width="1.9" height="1.9" fill="#4050d4"/>
<rect x="509.8" y="915.5" width="1.9" height="1.9" fill="#4050d4"/>
<rect x="510.3" y="915.5" width="1.9" height="1.9" fill="#4050d4"/>
<rect x="510.7" y="918.7" width="1.9" height="1.9" fill="#4050d4"/>
<rect x="511.2" y="917.9" width="1.9" height="1.9" fill="#4050d4"/>
<rect x="511.6" y="916.5" width="1.9" height="1.9" fill="#4050d4"/>
<rect x="512.1" y="917.1" width="1.9" height="1.9" fill="#4050d4"/>
<rect x="512.5" y="915.6" width="1.9" height="1.9" fill="#4050d4"/>
<line x1="90.50" y1="783.20" x2="519.50" y2="783.20" stroke="#333" stroke-width="1.6" />
<line x1="91.20" y1="783.00" x2="91.20" y2="1001.50" stroke="#e83030" stroke-width="1.4" />
<line x1="519.00" y1="783.00" x2="519.00" y2="1001.50" stroke="#2a2aff" stroke-width="1.4" />
<line x1="90.50" y1="1001.20" x2="519.50" y2="1001.20" stroke="#222" stroke-width="1.4" />
<line x1="87.50" y1="994.60" x2="91.20" y2="994.60" stroke="#e83030" stroke-width="1.2" />
<text x="84.5" y="999.6" font-size="14" fill="#e83030" text-anchor="end" >15</text>
<line x1="87.50" y1="951.31" x2="91.20" y2="951.31" stroke="#e83030" stroke-width="1.2" />
<text x="84.5" y="956.3" font-size="14" fill="#e83030" text-anchor="end" >18</text>
<line x1="87.50" y1="908.02" x2="91.20" y2="908.02" stroke="#e83030" stroke-width="1.2" />
<text x="84.5" y="913.0" font-size="14" fill="#e83030" text-anchor="end" >21</text>
<line x1="87.50" y1="864.73" x2="91.20" y2="864.73" stroke="#e83030" stroke-width="1.2" />
<text x="84.5" y="869.7" font-size="14" fill="#e83030" text-anchor="end" >24</text>
<line x1="87.50" y1="821.44" x2="91.20" y2="821.44" stroke="#e83030" stroke-width="1.2" />
<text x="84.5" y="826.4" font-size="14" fill="#e83030" text-anchor="end" >27</text>
<line x1="519.00" y1="835.40" x2="522.70" y2="835.40" stroke="#2a2aff" stroke-width="1.2" />
<text x="525.5" y="840.4" font-size="14" fill="#2a2aff" text-anchor="start" >429</text>
<line x1="519.00" y1="887.60" x2="522.70" y2="887.60" stroke="#2a2aff" stroke-width="1.2" />
<text x="525.5" y="892.6" font-size="14" fill="#2a2aff" text-anchor="start" >431</text>
<line x1="519.00" y1="939.80" x2="522.70" y2="939.80" stroke="#2a2aff" stroke-width="1.2" />
<text x="525.5" y="944.8" font-size="14" fill="#2a2aff" text-anchor="start" >433</text>
<line x1="519.00" y1="992.00" x2="522.70" y2="992.00" stroke="#2a2aff" stroke-width="1.2" />
<text x="525.5" y="997.0" font-size="14" fill="#2a2aff" text-anchor="start" >435</text>
<text x="108.6" y="1017.0" font-size="14" fill="#222" text-anchor="middle" >8:30</text>
<text x="142.5" y="1017.0" font-size="14" fill="#222" text-anchor="middle" >9:00</text>
<text x="176.5" y="1017.0" font-size="14" fill="#222" text-anchor="middle" >9:30</text>
<text x="210.9" y="1017.0" font-size="14" fill="#222" text-anchor="middle" >10:00</text>
<text x="246.8" y="1017.0" font-size="14" fill="#222" text-anchor="middle" >10:30</text>
<text x="283.1" y="1017.0" font-size="14" fill="#222" text-anchor="middle" >11:00</text>
<text x="318.4" y="1017.0" font-size="14" fill="#222" text-anchor="middle" >11:30</text>
<text x="353.6" y="1017.0" font-size="14" fill="#222" text-anchor="middle" >12:00</text>
<text x="389.6" y="1017.0" font-size="14" fill="#222" text-anchor="middle" >12:30</text>
<text x="425.4" y="1017.0" font-size="14" fill="#222" text-anchor="middle" >13:00</text>
<text x="463.3" y="1017.0" font-size="14" fill="#222" text-anchor="middle" >13:30</text>
<text x="500.9" y="1017.0" font-size="14" fill="#222" text-anchor="middle" >14:00</text>
<text x="300.0" y="1032.0" font-size="14.4" fill="#222" text-anchor="middle" >Time (h)</text>
<text transform="translate(60,888.5) rotate(-90)" font-size="14.7" fill="#e83030" text-anchor="middle">Icare IOP (mmHg)</text>
<text transform="translate(566.8,898.8) rotate(-90)" font-size="14.5" fill="#2a2aff" text-anchor="middle">Resonant frequency (MHz)</text>
<rect x="357.4" y="801.7" width="151.8" height="36.5" fill="#000"/>
<rect x="353.4" y="797.7" width="151.8" height="36.5" fill="#fff" stroke="#888" stroke-width="0.6"/>
<rect x="357.5" y="805.5" width="5" height="5" fill="#ee1c1c"/>
<rect x="359.2" y="825.5" width="1.8" height="1.8" fill="#2a2aff"/>
<text x="370.3" y="812.3" font-size="12.2" fill="#222" text-anchor="start" >IOP monitored by ICare</text>
<text x="370.3" y="828.6" font-size="12.2" fill="#222" text-anchor="start" >Resonance frequency</text>
</g>
<defs><filter id="bl1" x="-20%" y="-20%" width="140%" height="140%"><feGaussianBlur stdDeviation="1.2"/></filter><filter id="bl2" x="-20%" y="-20%" width="140%" height="140%"><feGaussianBlur stdDeviation="2.5"/></filter><filter id="bl4" x="-20%" y="-20%" width="140%" height="140%"><feGaussianBlur stdDeviation="5"/></filter><clipPath id="bclip"><rect x="416" y="4.7" width="228.3" height="195.9"/></clipPath><radialGradient id="lensg" cx="0.45" cy="0.45" r="0.6"><stop offset="0" stop-color="#6c8aa2"/><stop offset="0.7" stop-color="#5f7d96"/><stop offset="1" stop-color="#557088"/></radialGradient></defs>
<g clip-path="url(#bclip)">
<rect x="416" y="4.7" width="228.3" height="195.9" fill="#e4e3df"/>
<g filter="url(#bl4)">
<rect x="416" y="4.7" width="60" height="196" fill="#e9e8e4"/>
<rect x="590" y="4.7" width="55" height="150" fill="#d3d3d1"/>
<path d="M602,4 L616,4 L640,160 L625,160 Z" fill="#f2f2f0"/>
<rect x="416" y="140" width="120" height="62" fill="#ecebe8"/>
<rect x="560" y="150" width="85" height="52" fill="#e2e2e0"/>
</g>
<rect x="637.5" y="4.7" width="7" height="26" fill="#1d5a32" filter="url(#bl1)"/>
<path d="M552,200.6 L560,192 L600,188 L645,182 L645,200.6 Z" fill="#226a3e" filter="url(#bl1)"/>
<path d="M470,200.6 L480,186 L520,184 L560,188 L552,200.6 Z" fill="#f2f2f2" filter="url(#bl1)"/>
<rect x="416" y="88" width="14" height="34" fill="#b58a3c" filter="url(#bl1)"/>
<rect x="421" y="90" width="9" height="30" fill="#d8c08a" filter="url(#bl1)"/>
<path d="M479,56 C472,66 469,77 455,80.6 L437,80.6 Q434.5,80.6 434.5,83 L434.5,120.5 Q434.5,122.8 437,122.8 L465,122.8 C470,126 474,134 480,146 L500,100 Z" fill="#23a03c"/>
<ellipse cx="551.5" cy="100.5" rx="84.5" ry="86.5" fill="#23a03c"/>
<path d="M455,80.4 C461,79.6 465,74 468.5,67 C472,60 476,52 482,45.5 C490,37 502,28 515,22 C527,16.5 540,13.6 551.5,13.6 L551.5,100 L455,100 Z" fill="#23a03c"/>
<ellipse cx="553" cy="100.5" rx="57" ry="55" fill="none" stroke="#1b8430" stroke-width="1.2"/>
<ellipse cx="553" cy="100.5" rx="52" ry="50" fill="none" stroke="#1e9234" stroke-width="1"/>
<line x1="457" y1="104.5" x2="505" y2="104.5" stroke="#1c8a32" stroke-width="0.8"/>
<rect x="436" y="85.5" width="21" height="8" fill="#b8b8b8" filter="url(#bl1)"/>
<ellipse cx="448" cy="103.5" rx="11" ry="3.2" fill="#c8c8c8" filter="url(#bl1)"/>
<rect x="436" y="114" width="21" height="8" fill="#b0aea8" filter="url(#bl1)"/>
<text x="465" y="107" font-size="6" fill="#e8f4e8" font-family="Liberation Sans, sans-serif" transform="rotate(180 468 105)">Id</text>
<text x="548" y="21.5" font-size="6.5" fill="#e0f0e0" text-anchor="middle" font-family="Liberation Mono, monospace" transform="rotate(180 548 19.5)">K-2#22699</text>
<ellipse cx="552" cy="99.8" rx="41.3" ry="41" fill="#d2d0cc"/>
<g filter="url(#bl1)">
<ellipse cx="530" cy="80" rx="12" ry="8" fill="#e6e4e0"/>
<ellipse cx="556" cy="64" rx="5" ry="3" fill="#3a3634"/>
<ellipse cx="555" cy="103" rx="36" ry="31.5" fill="#2a3038"/>
<ellipse cx="576" cy="101" rx="12" ry="21" fill="#98aec4"/>
</g>
<circle cx="548.5" cy="103" r="27.3" fill="#aab6c0"/>
<circle cx="548.5" cy="103" r="26" fill="url(#lensg)"/>
<circle cx="548.5" cy="103" r="24.8" fill="none" stroke="#9aacbc" stroke-width="0.6"/>
<ellipse cx="568" cy="102" rx="6" ry="14" fill="#9ab4c8" filter="url(#bl2)"/>
<ellipse cx="534" cy="93" rx="2" ry="1.2" fill="#eef2f6" transform="rotate(-40 534 93)"/>
<ellipse cx="551" cy="80.5" rx="2" ry="0.8" fill="#eef2f6"/>
<line x1="596" y1="97.5" x2="645" y2="93" stroke="#c0c0c0" stroke-width="0.9"/>
</g>
<g font-family="Liberation Sans, sans-serif" fill="#ef6530">
<text x="452.0" y="30.4" font-size="15.5" fill="#ef6530" text-anchor="start" >Reader coil</text>
<text x="588.6" y="157.5" font-size="16.2" fill="#ef6530" text-anchor="start" >Needle</text>
<text x="480.5" y="180.3" font-size="16.1" fill="#ef6530" text-anchor="start" >Lens sensor</text>
</g>
<line x1="475.90" y1="36.00" x2="497.50" y2="60.50" stroke="#ef6530" stroke-width="1.3" />
<polygon points="499.6,63 494.2,60.2 497.6,57.3" fill="#ef6530"/>
<line x1="589.80" y1="136.60" x2="569.00" y2="114.50" stroke="#ef6530" stroke-width="1.3" />
<polygon points="566.6,111.8 572,114.3 568.7,117.4" fill="#ef6530"/>
<line x1="529.00" y1="163.20" x2="536.50" y2="141.50" stroke="#ef6530" stroke-width="1.3" />
<polygon points="537.6,138.3 538.8,143.6 534.5,142.1" fill="#ef6530"/>
<defs><clipPath id="eclip"><rect x="40" y="543.5" width="267.8" height="199.5"/></clipPath><clipPath id="iclip"><rect x="145.6" y="544.5" width="162.5" height="116.5"/></clipPath><radialGradient id="corn" cx="0.42" cy="0.45" r="0.6"><stop offset="0" stop-color="#2e3e4e"/><stop offset="0.55" stop-color="#34424e"/><stop offset="0.85" stop-color="#5a5c60"/><stop offset="1" stop-color="#6a6662"/></radialGradient><linearGradient id="drape" x1="0" y1="0" x2="1" y2="0"><stop offset="0" stop-color="#2a86cc"/><stop offset="1" stop-color="#44a8ea"/></linearGradient></defs>
<g clip-path="url(#eclip)">
<rect x="40" y="543" width="268" height="201" fill="#4a4544"/>
<g filter="url(#bl2)">
<rect x="40" y="540" width="110" height="42" fill="#c4c2c6"/>
<path d="M40,545 C50,540 75,540 84,548 C86,556 80,562 72,562 C60,562 48,560 40,558 Z" fill="#3a62c8"/>
<rect x="82" y="540" width="24" height="15" fill="#1c1a1e"/>
<rect x="104" y="540" width="42" height="36" fill="#dcd4dc"/>
<path d="M90,563 C95,558 103,557 108,562 L112,578 L92,580 Z" fill="#40b0e2"/>
<path d="M106,565 L126,565 L126,578 L108,580 Z" fill="#5cb4dc"/>
<path d="M40,558 C55,558 70,562 80,568 C82,578 75,588 60,592 L40,594 Z" fill="#e0d0c8"/>
<path d="M40,594 C60,590 75,580 100,577 C120,575 135,575 146,576 L146,640 C130,648 110,655 90,660 C70,666 55,672 40,676 Z" fill="#444040"/>
<path d="M84,590 C95,584 110,583 122,588 L112,610 C105,612 95,608 88,604 Z" fill="#806a5e"/>
<path d="M40,610 C55,612 65,625 66,645 C60,655 50,662 40,664 Z" fill="#2e2c2c"/>
<path d="M40,672 C60,660 85,650 108,646 C116,660 118,690 118,700 C125,715 140,725 150,743 L40,743 Z" fill="#7e7674"/>
<ellipse cx="78" cy="672" rx="26" ry="14" fill="#948a86"/>
<ellipse cx="55" cy="712" rx="14" ry="20" fill="#6a6260"/>
<path d="M40,703 C55,694 75,688 92,690 C100,691 106,694 110,698" fill="none" stroke="#3e3a3a" stroke-width="4"/>
<path d="M42,722 C55,716 70,714 88,718" fill="none" stroke="#5a5454" stroke-width="3"/>
<path d="M60,742 C62,732 66,726 72,722" fill="none" stroke="#4a4444" stroke-width="3"/>
<path d="M70,660 C80,655 95,652 108,655" fill="none" stroke="#a09894" stroke-width="4"/>
<path d="M112,642 L146,632 L146,661 L215,661 L215,712 C195,718 175,722 158,720 C150,712 140,706 128,703 C118,700 115,670 112,642 Z" fill="#262224"/>
<path d="M150,705 C160,712 170,720 175,726 L150,743 L140,743 C142,730 146,718 150,705 Z" fill="#3a3636"/>
<path d="M200,661 L240,661 L240,698 C228,702 215,707 200,714 Z" fill="#3e3430"/>
<path d="M235,661 L290,661 L290,688 C272,690 255,694 238,700 Z" fill="#857468"/>
<path d="M258,661 L290,661 L290,684 C278,685 268,687 258,690 Z" fill="#a09086"/>
<path d="M117,746 C130,735 143,725 153,719 C170,710 190,703 205,699 C225,692 245,687 260,683 C275,679 285,676 292,675 L308,676 L308,746 Z" fill="url(#drape)"/>
<path d="M284,662 L308,662 L308,684 C298,686 288,684 284,680 Z" fill="#847a80"/>
</g>
<path d="M65.0,631.5 Q69.6,633.0 73.2,638.0" fill="none" stroke="#8a8a84" stroke-width="0.7" opacity="0.67"/>
<path d="M89.3,632.1 Q94.4,635.1 99.2,637.7" fill="none" stroke="#24221f" stroke-width="0.7" opacity="0.57"/>
<path d="M55.8,638.8 Q59.0,643.8 60.3,647.4" fill="none" stroke="#8a8a84" stroke-width="0.7" opacity="0.41"/>
<path d="M140.5,591.4 Q142.9,597.1 147.1,602.0" fill="none" stroke="#24221f" stroke-width="0.7" opacity="0.60"/>
<path d="M136.7,619.6 Q140.8,625.0 141.3,627.3" fill="none" stroke="#8a8a84" stroke-width="0.7" opacity="0.36"/>
<path d="M92.0,608.6 Q97.0,613.1 99.2,618.2" fill="none" stroke="#24221f" stroke-width="0.7" opacity="0.55"/>
<path d="M96.1,620.6 Q101.2,620.8 102.9,624.8" fill="none" stroke="#6c6c66" stroke-width="0.7" opacity="0.70"/>
<path d="M110.5,601.0 Q115.3,607.4 116.9,613.1" fill="none" stroke="#a4a49c" stroke-width="0.7" opacity="0.57"/>
<path d="M143.7,609.4 Q148.5,611.4 152.1,613.5" fill="none" stroke="#6c6c66" stroke-width="0.7" opacity="0.63"/>
<path d="M83.1,600.1 Q89.5,601.6 92.9,606.8" fill="none" stroke="#1c1c1a" stroke-width="0.7" opacity="0.62"/>
<path d="M79.7,634.9 Q83.3,638.7 88.8,644.6" fill="none" stroke="#8a8a84" stroke-width="0.7" opacity="0.46"/>
<path d="M48.1,636.0 Q50.9,637.7 54.4,638.5" fill="none" stroke="#a4a49c" stroke-width="0.7" opacity="0.59"/>
<path d="M142.9,615.2 Q146.8,616.6 147.8,619.0" fill="none" stroke="#1c1c1a" stroke-width="0.7" opacity="0.49"/>
<path d="M131.0,642.5 Q138.5,644.5 143.5,648.3" fill="none" stroke="#a4a49c" stroke-width="0.7" opacity="0.68"/>
<path d="M85.9,608.7 Q90.4,612.9 92.5,613.3" fill="none" stroke="#6c6c66" stroke-width="0.7" opacity="0.36"/>
<path d="M104.7,638.6 Q109.4,641.4 114.5,642.7" fill="none" stroke="#6c6c66" stroke-width="0.7" opacity="0.56"/>
<path d="M69.3,627.2 Q71.9,631.7 78.2,637.4" fill="none" stroke="#24221f" stroke-width="0.7" opacity="0.45"/>
<path d="M103.2,602.2 Q109.7,604.1 113.5,607.9" fill="none" stroke="#24221f" stroke-width="0.7" opacity="0.39"/>
<path d="M125.4,665.7 Q127.2,668.8 129.1,670.7" fill="none" stroke="#6c6c66" stroke-width="0.7" opacity="0.43"/>
<path d="M59.7,622.8 Q60.7,624.5 63.1,627.6" fill="none" stroke="#a4a49c" stroke-width="0.7" opacity="0.50"/>
<path d="M129.8,601.5 Q135.7,604.6 138.6,608.0" fill="none" stroke="#a4a49c" stroke-width="0.7" opacity="0.63"/>
<path d="M43.6,664.6 Q49.0,669.7 53.8,671.9" fill="none" stroke="#6c6c66" stroke-width="0.7" opacity="0.63"/>
<path d="M107.4,652.5 Q109.0,655.5 112.3,656.2" fill="none" stroke="#6c6c66" stroke-width="0.7" opacity="0.51"/>
<path d="M106.6,611.2 Q108.0,612.0 110.2,615.2" fill="none" stroke="#24221f" stroke-width="0.7" opacity="0.68"/>
<path d="M132.4,667.0 Q139.2,670.3 142.6,675.9" fill="none" stroke="#24221f" stroke-width="0.7" opacity="0.64"/>
<path d="M109.6,629.5 Q111.9,630.1 116.3,634.0" fill="none" stroke="#1c1c1a" stroke-width="0.7" opacity="0.69"/>
<path d="M52.6,607.6 Q58.3,608.6 64.0,612.1" fill="none" stroke="#24221f" stroke-width="0.7" opacity="0.55"/>
<path d="M41.4,647.6 Q45.4,649.6 48.2,651.3" fill="none" stroke="#24221f" stroke-width="0.7" opacity="0.37"/>
<path d="M135.9,597.1 Q142.2,601.4 148.2,603.1" fill="none" stroke="#8a8a84" stroke-width="0.7" opacity="0.47"/>
<path d="M60.7,630.8 Q63.5,635.3 64.0,636.4" fill="none" stroke="#a4a49c" stroke-width="0.7" opacity="0.64"/>
<path d="M40.8,638.3 Q41.2,639.8 43.3,643.1" fill="none" stroke="#1c1c1a" stroke-width="0.7" opacity="0.53"/>
<path d="M45.4,613.8 Q49.6,617.5 51.7,624.9" fill="none" stroke="#8a8a84" stroke-width="0.7" opacity="0.37"/>
<path d="M142.3,656.4 Q145.9,657.6 151.0,660.3" fill="none" stroke="#6c6c66" stroke-width="0.7" opacity="0.49"/>
<path d="M80.9,612.3 Q86.5,614.6 92.6,619.9" fill="none" stroke="#8a8a84" stroke-width="0.7" opacity="0.60"/>
<path d="M79.9,594.4 Q84.0,597.5 87.3,598.4" fill="none" stroke="#24221f" stroke-width="0.7" opacity="0.57"/>
<path d="M44.6,658.9 Q50.5,660.2 54.4,663.0" fill="none" stroke="#24221f" stroke-width="0.7" opacity="0.51"/>
<path d="M65.7,630.9 Q67.1,632.9 69.1,635.4" fill="none" stroke="#8a8a84" stroke-width="0.7" opacity="0.68"/>
<path d="M79.3,659.8 Q81.1,661.5 83.1,666.1" fill="none" stroke="#1c1c1a" stroke-width="0.7" opacity="0.63"/>
<path d="M110.1,646.7 Q112.4,646.9 114.1,651.1" fill="none" stroke="#a4a49c" stroke-width="0.7" opacity="0.43"/>
<path d="M80.8,630.2 Q84.0,635.5 88.2,638.2" fill="none" stroke="#6c6c66" stroke-width="0.7" opacity="0.64"/>
<path d="M52.7,655.5 Q58.3,660.8 60.3,665.5" fill="none" stroke="#8a8a84" stroke-width="0.7" opacity="0.36"/>
<path d="M120.6,628.9 Q123.3,633.1 124.0,633.8" fill="none" stroke="#8a8a84" stroke-width="0.7" opacity="0.54"/>
<path d="M131.3,602.4 Q138.3,605.1 144.1,608.1" fill="none" stroke="#24221f" stroke-width="0.7" opacity="0.44"/>
<path d="M79.4,606.8 Q83.9,612.2 84.7,618.3" fill="none" stroke="#1c1c1a" stroke-width="0.7" opacity="0.61"/>
<path d="M110.8,629.4 Q116.2,631.7 118.6,636.8" fill="none" stroke="#8a8a84" stroke-width="0.7" opacity="0.52"/>
<path d="M90.8,643.9 Q94.3,647.1 94.9,653.3" fill="none" stroke="#a4a49c" stroke-width="0.7" opacity="0.40"/>
<path d="M129.4,631.0 Q133.8,636.1 135.3,640.4" fill="none" stroke="#1c1c1a" stroke-width="0.7" opacity="0.55"/>
<path d="M68.1,605.4 Q71.9,605.8 76.7,608.8" fill="none" stroke="#6c6c66" stroke-width="0.7" opacity="0.43"/>
<path d="M90.7,657.1 Q95.8,659.6 99.3,664.4" fill="none" stroke="#1c1c1a" stroke-width="0.7" opacity="0.64"/>
<path d="M126.3,632.6 Q131.9,636.1 134.6,640.5" fill="none" stroke="#8a8a84" stroke-width="0.7" opacity="0.51"/>
<path d="M64.1,606.8 Q69.1,612.7 70.5,615.9" fill="none" stroke="#a4a49c" stroke-width="0.7" opacity="0.66"/>
<path d="M121.5,599.0 Q123.1,605.0 128.5,607.5" fill="none" stroke="#a4a49c" stroke-width="0.7" opacity="0.65"/>
<path d="M72.9,621.9 Q72.9,625.6 76.2,626.6" fill="none" stroke="#6c6c66" stroke-width="0.7" opacity="0.36"/>
<path d="M87.5,646.7 Q88.9,647.8 91.7,649.9" fill="none" stroke="#8a8a84" stroke-width="0.7" opacity="0.42"/>
<path d="M81.0,631.5 Q85.1,631.6 87.8,634.8" fill="none" stroke="#1c1c1a" stroke-width="0.7" opacity="0.67"/>
<path d="M50.2,663.3 Q55.9,666.2 59.6,670.7" fill="none" stroke="#6c6c66" stroke-width="0.7" opacity="0.39"/>
<path d="M139.2,615.1 Q143.1,618.7 145.7,622.3" fill="none" stroke="#8a8a84" stroke-width="0.7" opacity="0.60"/>
<path d="M111.2,633.3 Q116.5,634.6 120.7,638.5" fill="none" stroke="#24221f" stroke-width="0.7" opacity="0.39"/>
<path d="M137.8,599.3 Q142.9,602.9 147.1,606.1" fill="none" stroke="#a4a49c" stroke-width="0.7" opacity="0.51"/>
<path d="M72.8,602.1 Q79.1,604.6 83.3,606.7" fill="none" stroke="#24221f" stroke-width="0.7" opacity="0.48"/>
<path d="M67.9,618.7 Q69.2,620.0 70.4,623.4" fill="none" stroke="#1c1c1a" stroke-width="0.7" opacity="0.47"/>
<path d="M75.0,620.3 Q78.5,626.0 83.2,628.9" fill="none" stroke="#8a8a84" stroke-width="0.7" opacity="0.40"/>
<path d="M102.0,642.5 Q104.9,648.2 110.9,652.2" fill="none" stroke="#1c1c1a" stroke-width="0.7" opacity="0.50"/>
<path d="M118.0,653.3 Q119.5,657.2 123.7,661.9" fill="none" stroke="#a4a49c" stroke-width="0.7" opacity="0.54"/>
<path d="M57.9,602.3 Q59.0,607.4 61.7,609.7" fill="none" stroke="#24221f" stroke-width="0.7" opacity="0.66"/>
<path d="M139.7,618.7 Q143.7,624.3 146.7,626.1" fill="none" stroke="#6c6c66" stroke-width="0.7" opacity="0.66"/>
<path d="M110.1,590.4 Q113.2,594.1 119.4,595.7" fill="none" stroke="#a4a49c" stroke-width="0.7" opacity="0.52"/>
<path d="M95.0,624.8 Q97.4,627.2 103.5,629.6" fill="none" stroke="#24221f" stroke-width="0.7" opacity="0.39"/>
<path d="M69.7,640.6 Q72.2,644.4 77.9,644.8" fill="none" stroke="#8a8a84" stroke-width="0.7" opacity="0.48"/>
<path d="M64.5,594.2 Q68.4,600.5 73.7,603.9" fill="none" stroke="#a4a49c" stroke-width="0.7" opacity="0.38"/>
<path d="M128.1,650.0 Q132.7,653.1 133.4,652.1" fill="none" stroke="#a4a49c" stroke-width="0.7" opacity="0.68"/>
<path d="M130.5,623.0 Q131.4,625.1 135.6,630.8" fill="none" stroke="#8a8a84" stroke-width="0.7" opacity="0.65"/>
<path d="M114.1,619.3 Q117.6,620.1 118.2,623.2" fill="none" stroke="#24221f" stroke-width="0.7" opacity="0.46"/>
<path d="M88.8,648.6 Q92.9,651.6 93.9,652.8" fill="none" stroke="#6c6c66" stroke-width="0.7" opacity="0.65"/>
<path d="M87.0,616.9 Q93.5,620.3 97.6,625.7" fill="none" stroke="#6c6c66" stroke-width="0.7" opacity="0.40"/>
<path d="M88.3,603.6 Q90.7,603.9 93.9,606.9" fill="none" stroke="#8a8a84" stroke-width="0.7" opacity="0.40"/>
<path d="M103.9,623.4 Q109.0,625.7 114.9,629.5" fill="none" stroke="#8a8a84" stroke-width="0.7" opacity="0.60"/>
<path d="M45.4,620.3 Q49.3,620.8 49.4,623.6" fill="none" stroke="#8a8a84" stroke-width="0.7" opacity="0.49"/>
<path d="M60.0,614.6 Q66.3,618.7 71.9,620.4" fill="none" stroke="#6c6c66" stroke-width="0.7" opacity="0.45"/>
<path d="M122.7,625.2 Q123.3,627.8 125.9,632.2" fill="none" stroke="#6c6c66" stroke-width="0.7" opacity="0.57"/>
<path d="M76.2,595.5 Q80.7,599.0 84.4,606.5" fill="none" stroke="#8a8a84" stroke-width="0.7" opacity="0.59"/>
<path d="M42.0,628.2 Q44.5,629.9 46.9,632.9" fill="none" stroke="#24221f" stroke-width="0.7" opacity="0.47"/>
<path d="M90.3,616.1 Q93.9,620.0 95.4,622.8" fill="none" stroke="#24221f" stroke-width="0.7" opacity="0.38"/>
<path d="M70.8,656.0 Q74.0,658.6 78.5,659.7" fill="none" stroke="#24221f" stroke-width="0.7" opacity="0.41"/>
<path d="M117.7,646.7 Q121.8,650.5 122.6,655.4" fill="none" stroke="#24221f" stroke-width="0.7" opacity="0.50"/>
<path d="M86.7,644.2 Q91.7,648.9 96.6,651.7" fill="none" stroke="#24221f" stroke-width="0.7" opacity="0.68"/>
<path d="M44.5,601.7 Q46.3,607.7 51.3,612.1" fill="none" stroke="#8a8a84" stroke-width="0.7" opacity="0.46"/>
<path d="M103.1,652.1 Q106.1,654.0 112.8,656.2" fill="none" stroke="#6c6c66" stroke-width="0.7" opacity="0.70"/>
<path d="M40.2,603.6 Q43.0,608.5 47.1,614.9" fill="none" stroke="#24221f" stroke-width="0.7" opacity="0.38"/>
<path d="M108.2,607.3 Q111.7,608.8 114.1,609.7" fill="none" stroke="#8a8a84" stroke-width="0.7" opacity="0.39"/>
<path d="M70.2,604.7 Q72.5,610.6 74.8,613.2" fill="none" stroke="#6c6c66" stroke-width="0.7" opacity="0.63"/>
<path d="M96.2,603.1 Q100.0,602.9 101.2,605.8" fill="none" stroke="#8a8a84" stroke-width="0.7" opacity="0.65"/>
<path d="M50.6,663.5 Q52.8,666.4 55.7,666.7" fill="none" stroke="#1c1c1a" stroke-width="0.7" opacity="0.39"/>
<path d="M91.0,641.5 Q94.2,646.1 96.0,648.5" fill="none" stroke="#6c6c66" stroke-width="0.7" opacity="0.64"/>
<path d="M102.4,653.2 Q106.5,656.6 110.9,658.1" fill="none" stroke="#8a8a84" stroke-width="0.7" opacity="0.47"/>
<path d="M60.2,648.3 Q62.0,654.5 64.9,658.4" fill="none" stroke="#8a8a84" stroke-width="0.7" opacity="0.56"/>
<path d="M62.5,616.0 Q63.7,618.1 65.4,623.5" fill="none" stroke="#a4a49c" stroke-width="0.7" opacity="0.46"/>
<path d="M118.7,604.6 Q125.2,607.7 129.8,611.1" fill="none" stroke="#1c1c1a" stroke-width="0.7" opacity="0.65"/>
<path d="M78.6,603.3 Q83.0,608.6 84.1,610.0" fill="none" stroke="#24221f" stroke-width="0.7" opacity="0.70"/>
<path d="M136.6,611.4 Q136.4,615.3 139.4,617.4" fill="none" stroke="#6c6c66" stroke-width="0.7" opacity="0.53"/>
<path d="M46.4,625.8 Q49.4,625.6 52.4,629.2" fill="none" stroke="#24221f" stroke-width="0.7" opacity="0.61"/>
<path d="M118.4,611.0 Q121.5,610.9 125.4,614.2" fill="none" stroke="#a4a49c" stroke-width="0.7" opacity="0.52"/>
<path d="M125.0,610.7 Q130.4,616.3 134.7,618.3" fill="none" stroke="#24221f" stroke-width="0.7" opacity="0.46"/>
<path d="M88.6,630.1 Q92.9,632.2 94.3,636.0" fill="none" stroke="#24221f" stroke-width="0.7" opacity="0.48"/>
<path d="M77.7,654.5 Q81.5,658.1 85.1,665.6" fill="none" stroke="#1c1c1a" stroke-width="0.7" opacity="0.40"/>
<path d="M42.2,664.0 Q49.9,665.8 55.2,668.8" fill="none" stroke="#6c6c66" stroke-width="0.7" opacity="0.69"/>
<path d="M43.7,602.8 Q47.2,602.6 52.0,605.9" fill="none" stroke="#1c1c1a" stroke-width="0.7" opacity="0.63"/>
<path d="M87.3,608.9 Q91.0,612.1 93.0,616.5" fill="none" stroke="#8a8a84" stroke-width="0.7" opacity="0.50"/>
<path d="M105.9,642.0 Q107.5,646.1 111.2,653.1" fill="none" stroke="#24221f" stroke-width="0.7" opacity="0.53"/>
<path d="M127.3,632.1 Q128.0,634.5 132.7,635.8" fill="none" stroke="#24221f" stroke-width="0.7" opacity="0.51"/>
<path d="M125.5,636.2 Q127.8,638.1 132.8,642.5" fill="none" stroke="#a4a49c" stroke-width="0.7" opacity="0.70"/>
<path d="M97.4,620.7 Q102.3,623.2 104.7,626.1" fill="none" stroke="#1c1c1a" stroke-width="0.7" opacity="0.40"/>
<path d="M73.1,629.8 Q79.2,635.6 82.7,637.9" fill="none" stroke="#1c1c1a" stroke-width="0.7" opacity="0.45"/>
<path d="M73.2,635.8 Q77.1,638.2 78.8,638.5" fill="none" stroke="#6c6c66" stroke-width="0.7" opacity="0.39"/>
<path d="M110.2,617.7 Q116.7,622.9 119.4,627.0" fill="none" stroke="#a4a49c" stroke-width="0.7" opacity="0.46"/>
<path d="M76.3,640.3 Q76.3,643.1 79.8,648.1" fill="none" stroke="#8a8a84" stroke-width="0.7" opacity="0.68"/>
<path d="M73.3,619.4 Q74.9,623.0 78.5,622.8" fill="none" stroke="#8a8a84" stroke-width="0.7" opacity="0.52"/>
<path d="M140.5,647.0 Q142.8,647.9 144.0,651.9" fill="none" stroke="#8a8a84" stroke-width="0.7" opacity="0.68"/>
<path d="M142.3,643.4 Q147.4,647.1 152.8,652.5" fill="none" stroke="#1c1c1a" stroke-width="0.7" opacity="0.37"/>
<path d="M64.8,664.6 Q69.3,669.6 76.5,670.6" fill="none" stroke="#24221f" stroke-width="0.7" opacity="0.58"/>
<path d="M54.9,592.4 Q55.5,596.4 58.5,597.9" fill="none" stroke="#a4a49c" stroke-width="0.7" opacity="0.37"/>
<path d="M140.9,630.8 Q142.8,634.6 145.5,634.5" fill="none" stroke="#6c6c66" stroke-width="0.7" opacity="0.39"/>
<path d="M52.1,611.6 Q57.7,617.5 62.6,620.0" fill="none" stroke="#8a8a84" stroke-width="0.7" opacity="0.68"/>
<path d="M144.7,666.4 Q149.9,668.5 151.6,670.7" fill="none" stroke="#6c6c66" stroke-width="0.7" opacity="0.52"/>
<path d="M117.6,630.5 Q119.4,634.6 121.9,638.4" fill="none" stroke="#6c6c66" stroke-width="0.7" opacity="0.50"/>
<path d="M96.1,654.6 Q102.3,658.6 105.1,659.8" fill="none" stroke="#a4a49c" stroke-width="0.7" opacity="0.46"/>
<path d="M130.2,664.7 Q133.8,668.8 140.4,672.0" fill="none" stroke="#8a8a84" stroke-width="0.7" opacity="0.49"/>
<path d="M131.6,597.2 Q138.8,601.4 143.6,601.7" fill="none" stroke="#6c6c66" stroke-width="0.7" opacity="0.53"/>
<path d="M120.4,595.4 Q122.1,599.1 126.6,601.9" fill="none" stroke="#6c6c66" stroke-width="0.7" opacity="0.51"/>
<path d="M99.2,638.9 Q104.0,644.1 106.6,647.5" fill="none" stroke="#6c6c66" stroke-width="0.7" opacity="0.65"/>
<path d="M127.7,610.9 Q127.6,614.4 130.5,617.8" fill="none" stroke="#6c6c66" stroke-width="0.7" opacity="0.61"/>
<path d="M66.1,622.8 Q68.0,625.6 71.3,626.1" fill="none" stroke="#a4a49c" stroke-width="0.7" opacity="0.70"/>
<path d="M95.5,623.3 Q97.0,626.9 99.1,627.6" fill="none" stroke="#6c6c66" stroke-width="0.7" opacity="0.37"/>
<path d="M129.7,618.7 Q130.1,622.8 132.9,626.4" fill="none" stroke="#8a8a84" stroke-width="0.7" opacity="0.50"/>
<path d="M131.1,644.9 Q134.2,646.9 137.2,649.6" fill="none" stroke="#6c6c66" stroke-width="0.7" opacity="0.67"/>
<ellipse cx="122" cy="717" rx="26" ry="15" fill="#9a928e" filter="url(#bl2)"/>
<g filter="url(#bl1)">
<path d="M106,714 C112,706 128,704 141,712 C134,722 120,728 106,714 Z" fill="#262428"/>
<circle cx="123.5" cy="716.8" r="7.5" fill="#34444f"/>
<path d="M108,719 C116,728 130,730 141,722" fill="none" stroke="#b4aaa6" stroke-width="2.2"/>
</g>
<path d="M119,711 C117.5,714 117.5,719 119.5,722" fill="none" stroke="#b8c2ca" stroke-width="0.9"/>
</g>
<g clip-path="url(#iclip)">
<rect x="145" y="544" width="164" height="118" fill="#b0a4a6"/>
<g filter="url(#bl1)">
<path d="M160,545 C150,570 146,610 156,640 C160,652 166,658 174,662 L184,662 C170,640 160,610 160,580 C160,565 163,553 168,545 Z" fill="#7282a8"/>
<path d="M166,545 C159,565 157,600 162,628 C166,645 172,656 180,662 L198,662 C194,645 190,620 190,595 C191,575 194,560 201,545 Z" fill="#cec6ca"/>
<path d="M178,560 C174,580 174,610 180,635" fill="none" stroke="#dcd6dc" stroke-width="8" filter="url(#bl2)"/>
<path d="M197,545 C190,570 188,610 194,640 C198,650 203,656 208,662 L252,662 C262,630 262,580 246,545 Z" fill="#4a4444"/>
<path d="M203,545 L242,545 C240,560 234,570 224,574 C212,572 205,560 203,545 Z" fill="#7e7270"/>
<path d="M238,545 C256,575 264,620 252,662 L268,662 C276,620 270,575 254,545 Z" fill="#98a2ac"/>
<path d="M254,545 C270,575 276,620 268,662 L276,662 C284,620 278,575 262,545 Z" fill="#3e3e44"/>
<path d="M262,545 L308,545 L308,662 L274,662 C282,620 278,575 262,545 Z" fill="#c2b8b2"/>
<ellipse cx="226" cy="652" rx="20" ry="9" fill="#9c8282"/>
</g>
<ellipse cx="223.8" cy="608.5" rx="26.6" ry="33" fill="url(#corn)"/>
<ellipse cx="223.8" cy="608.5" rx="26.2" ry="32.6" fill="none" stroke="#a8a890" stroke-width="0.8"/>
<ellipse cx="224.3" cy="608.8" rx="24.4" ry="30.8" fill="none" stroke="#98988a" stroke-width="0.6"/>
<circle cx="227.5" cy="594" r="1.8" fill="#e8eef0" filter="url(#bl1)"/>
<ellipse cx="232" cy="603" rx="2.5" ry="3.5" fill="#e8dcd8" filter="url(#bl1)"/>
<line x1="294.0" y1="559.5" x2="294.1" y2="553.8" stroke="#5a4a48" stroke-width="0.6" opacity="0.6"/>
<line x1="268.0" y1="555.1" x2="261.3" y2="550.0" stroke="#5a4a48" stroke-width="0.6" opacity="0.6"/>
<line x1="275.9" y1="595.9" x2="273.8" y2="592.3" stroke="#5a4a48" stroke-width="0.6" opacity="0.6"/>
<line x1="295.9" y1="582.5" x2="295.4" y2="576.7" stroke="#5a4a48" stroke-width="0.6" opacity="0.6"/>
<line x1="295.4" y1="636.1" x2="292.5" y2="631.2" stroke="#5a4a48" stroke-width="0.6" opacity="0.6"/>
<line x1="290.2" y1="604.0" x2="294.0" y2="600.6" stroke="#5a4a48" stroke-width="0.6" opacity="0.6"/>
<line x1="273.3" y1="581.7" x2="273.8" y2="577.2" stroke="#5a4a48" stroke-width="0.6" opacity="0.6"/>
<line x1="274.6" y1="645.1" x2="273.7" y2="637.1" stroke="#5a4a48" stroke-width="0.6" opacity="0.6"/>
<line x1="282.5" y1="601.9" x2="287.7" y2="598.2" stroke="#5a4a48" stroke-width="0.6" opacity="0.6"/>
<line x1="273.3" y1="570.4" x2="275.2" y2="563.7" stroke="#5a4a48" stroke-width="0.6" opacity="0.6"/>
<line x1="304.1" y1="580.8" x2="301.4" y2="574.1" stroke="#5a4a48" stroke-width="0.6" opacity="0.6"/>
<line x1="296.3" y1="644.5" x2="290.3" y2="638.7" stroke="#5a4a48" stroke-width="0.6" opacity="0.6"/>
<line x1="296.3" y1="583.3" x2="299.9" y2="579.0" stroke="#5a4a48" stroke-width="0.6" opacity="0.6"/>
<line x1="302.7" y1="617.4" x2="297.7" y2="612.1" stroke="#5a4a48" stroke-width="0.6" opacity="0.6"/>
<line x1="292.5" y1="645.0" x2="289.8" y2="640.0" stroke="#5a4a48" stroke-width="0.6" opacity="0.6"/>
<line x1="292.6" y1="653.4" x2="287.8" y2="648.9" stroke="#5a4a48" stroke-width="0.6" opacity="0.6"/>
<line x1="302.3" y1="604.0" x2="298.6" y2="596.7" stroke="#5a4a48" stroke-width="0.6" opacity="0.6"/>
<line x1="274.8" y1="638.3" x2="279.9" y2="631.4" stroke="#5a4a48" stroke-width="0.6" opacity="0.6"/>
<line x1="283.0" y1="585.8" x2="282.5" y2="577.0" stroke="#5a4a48" stroke-width="0.6" opacity="0.6"/>
<line x1="276.6" y1="611.0" x2="274.7" y2="604.4" stroke="#5a4a48" stroke-width="0.6" opacity="0.6"/>
<line x1="290.1" y1="588.1" x2="290.4" y2="582.5" stroke="#5a4a48" stroke-width="0.6" opacity="0.6"/>
<line x1="300.7" y1="612.3" x2="303.5" y2="606.3" stroke="#5a4a48" stroke-width="0.6" opacity="0.6"/>
<line x1="285.0" y1="627.3" x2="289.6" y2="621.9" stroke="#5a4a48" stroke-width="0.6" opacity="0.6"/>
<line x1="286.8" y1="641.9" x2="284.3" y2="638.1" stroke="#5a4a48" stroke-width="0.6" opacity="0.6"/>
<line x1="285.4" y1="650.1" x2="285.5" y2="641.9" stroke="#5a4a48" stroke-width="0.6" opacity="0.6"/>
<line x1="280.0" y1="631.0" x2="278.4" y2="626.0" stroke="#5a4a48" stroke-width="0.6" opacity="0.6"/>
<line x1="301.4" y1="622.9" x2="303.7" y2="618.2" stroke="#5a4a48" stroke-width="0.6" opacity="0.6"/>
<line x1="281.9" y1="572.6" x2="279.8" y2="567.3" stroke="#5a4a48" stroke-width="0.6" opacity="0.6"/>
<line x1="270.0" y1="654.2" x2="272.3" y2="649.7" stroke="#5a4a48" stroke-width="0.6" opacity="0.6"/>
<line x1="279.5" y1="567.0" x2="275.9" y2="561.8" stroke="#5a4a48" stroke-width="0.6" opacity="0.6"/>
<line x1="275.9" y1="637.2" x2="274.7" y2="632.2" stroke="#5a4a48" stroke-width="0.6" opacity="0.6"/>
<line x1="294.0" y1="606.4" x2="295.3" y2="600.4" stroke="#5a4a48" stroke-width="0.6" opacity="0.6"/>
<line x1="274.7" y1="581.2" x2="273.8" y2="576.9" stroke="#5a4a48" stroke-width="0.6" opacity="0.6"/>
<line x1="288.4" y1="598.3" x2="284.6" y2="595.2" stroke="#5a4a48" stroke-width="0.6" opacity="0.6"/>
<line x1="287.7" y1="594.2" x2="287.8" y2="588.2" stroke="#5a4a48" stroke-width="0.6" opacity="0.6"/>
<line x1="287.0" y1="601.4" x2="285.9" y2="594.4" stroke="#5a4a48" stroke-width="0.6" opacity="0.6"/>
<line x1="296.8" y1="560.6" x2="295.7" y2="552.4" stroke="#5a4a48" stroke-width="0.6" opacity="0.6"/>
<line x1="273.5" y1="583.3" x2="272.2" y2="578.8" stroke="#5a4a48" stroke-width="0.6" opacity="0.6"/>
<line x1="279.3" y1="617.2" x2="274.2" y2="610.3" stroke="#5a4a48" stroke-width="0.6" opacity="0.6"/>
<line x1="282.2" y1="552.6" x2="280.3" y2="545.7" stroke="#5a4a48" stroke-width="0.6" opacity="0.6"/>
</g>
<rect x="145.9" y="544.9" width="161.8" height="115.8" fill="none" stroke="#e8252a" stroke-width="1.5" stroke-dasharray="3.5,2.2"/>
<ellipse cx="121" cy="716.5" rx="28.4" ry="17.2" fill="none" stroke="#e8252a" stroke-width="1.5" stroke-dasharray="3.5,2.2"/>
<line x1="101.90" y1="702.80" x2="145.90" y2="545.00" stroke="#e8252a" stroke-width="1.5" stroke-dasharray="3.5,2.2"/>
<line x1="149.30" y1="718.00" x2="307.70" y2="660.50" stroke="#e8252a" stroke-width="1.5" stroke-dasharray="3.5,2.2"/>
</g>
</svg>
</body></html>
